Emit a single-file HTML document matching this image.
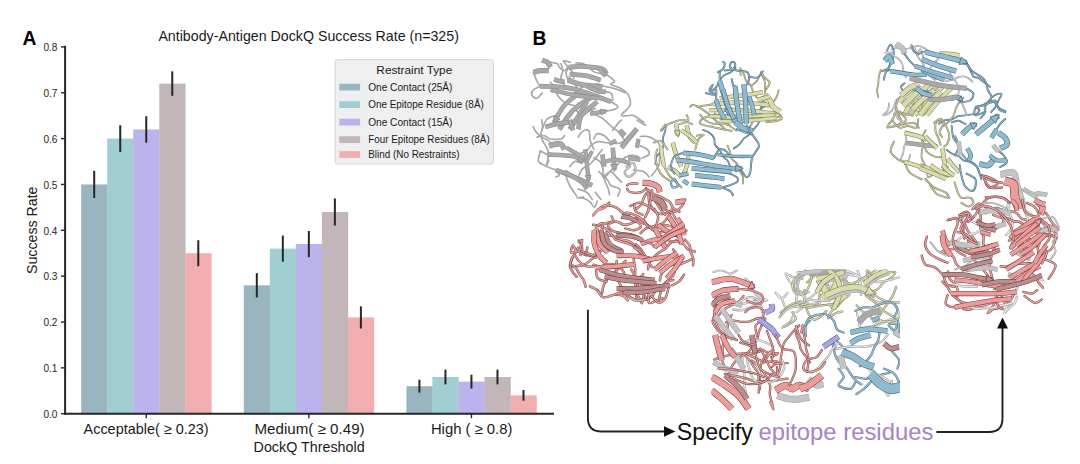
<!DOCTYPE html>
<html><head><meta charset="utf-8"><style>
html,body{margin:0;padding:0;background:#fff;}
svg{display:block;font-family:"Liberation Sans",sans-serif;}
</style></head><body>
<svg width="1080" height="464" viewBox="0 0 1080 464">
<rect width="1080" height="464" fill="#fff"/>
<rect x="81.20" y="184.45" width="26.32" height="229.25" fill="#9BB5C0"/>
<rect x="107.22" y="138.60" width="26.32" height="275.10" fill="#A0CED2"/>
<rect x="133.24" y="129.43" width="26.32" height="284.27" fill="#BAB3EC"/>
<rect x="159.26" y="83.58" width="26.32" height="330.12" fill="#C2B6B9"/>
<rect x="185.28" y="253.22" width="26.32" height="160.47" fill="#F2AEAF"/>
<rect x="243.80" y="285.32" width="26.32" height="128.38" fill="#9BB5C0"/>
<rect x="269.82" y="248.64" width="26.32" height="165.06" fill="#A0CED2"/>
<rect x="295.84" y="244.05" width="26.32" height="169.65" fill="#BAB3EC"/>
<rect x="321.86" y="211.96" width="26.32" height="201.74" fill="#C2B6B9"/>
<rect x="347.88" y="317.41" width="26.32" height="96.29" fill="#F2AEAF"/>
<rect x="406.40" y="386.19" width="26.32" height="27.51" fill="#9BB5C0"/>
<rect x="432.42" y="377.02" width="26.32" height="36.68" fill="#A0CED2"/>
<rect x="458.44" y="381.60" width="26.32" height="32.10" fill="#BAB3EC"/>
<rect x="484.46" y="377.02" width="26.32" height="36.68" fill="#C2B6B9"/>
<rect x="510.48" y="395.36" width="26.32" height="18.34" fill="#F2AEAF"/>
<line x1="94.21" y1="170.84" x2="94.21" y2="198.06" stroke="#262626" stroke-width="2"/>
<line x1="120.23" y1="125.27" x2="120.23" y2="151.93" stroke="#262626" stroke-width="2"/>
<line x1="146.25" y1="116.22" x2="146.25" y2="142.64" stroke="#262626" stroke-width="2"/>
<line x1="172.27" y1="71.36" x2="172.27" y2="95.80" stroke="#262626" stroke-width="2"/>
<line x1="198.29" y1="240.25" x2="198.29" y2="266.20" stroke="#262626" stroke-width="2"/>
<line x1="256.81" y1="273.10" x2="256.81" y2="297.54" stroke="#262626" stroke-width="2"/>
<line x1="282.83" y1="235.58" x2="282.83" y2="261.70" stroke="#262626" stroke-width="2"/>
<line x1="308.85" y1="230.92" x2="308.85" y2="257.19" stroke="#262626" stroke-width="2"/>
<line x1="334.87" y1="198.45" x2="334.87" y2="225.47" stroke="#262626" stroke-width="2"/>
<line x1="360.89" y1="306.33" x2="360.89" y2="328.50" stroke="#262626" stroke-width="2"/>
<line x1="419.41" y1="379.73" x2="419.41" y2="392.65" stroke="#262626" stroke-width="2"/>
<line x1="445.43" y1="369.64" x2="445.43" y2="384.40" stroke="#262626" stroke-width="2"/>
<line x1="471.45" y1="374.66" x2="471.45" y2="388.55" stroke="#262626" stroke-width="2"/>
<line x1="497.47" y1="369.64" x2="497.47" y2="384.40" stroke="#262626" stroke-width="2"/>
<line x1="523.49" y1="390.03" x2="523.49" y2="400.69" stroke="#262626" stroke-width="2"/>
<line x1="65.1" y1="45.8" x2="65.1" y2="414.70" stroke="#262626" stroke-width="2"/>
<line x1="64.1" y1="413.70" x2="554" y2="413.70" stroke="#262626" stroke-width="2"/>
<line x1="61" y1="413.70" x2="65" y2="413.70" stroke="#262626" stroke-width="1.4"/>
<text x="57.5" y="418.00" font-size="10.1" text-anchor="end" fill="#262626">0.0</text>
<line x1="61" y1="367.85" x2="65" y2="367.85" stroke="#262626" stroke-width="1.4"/>
<text x="57.5" y="372.15" font-size="10.1" text-anchor="end" fill="#262626">0.1</text>
<line x1="61" y1="322.00" x2="65" y2="322.00" stroke="#262626" stroke-width="1.4"/>
<text x="57.5" y="326.30" font-size="10.1" text-anchor="end" fill="#262626">0.2</text>
<line x1="61" y1="276.15" x2="65" y2="276.15" stroke="#262626" stroke-width="1.4"/>
<text x="57.5" y="280.45" font-size="10.1" text-anchor="end" fill="#262626">0.3</text>
<line x1="61" y1="230.30" x2="65" y2="230.30" stroke="#262626" stroke-width="1.4"/>
<text x="57.5" y="234.60" font-size="10.1" text-anchor="end" fill="#262626">0.4</text>
<line x1="61" y1="184.45" x2="65" y2="184.45" stroke="#262626" stroke-width="1.4"/>
<text x="57.5" y="188.75" font-size="10.1" text-anchor="end" fill="#262626">0.5</text>
<line x1="61" y1="138.60" x2="65" y2="138.60" stroke="#262626" stroke-width="1.4"/>
<text x="57.5" y="142.90" font-size="10.1" text-anchor="end" fill="#262626">0.6</text>
<line x1="61" y1="92.75" x2="65" y2="92.75" stroke="#262626" stroke-width="1.4"/>
<text x="57.5" y="97.05" font-size="10.1" text-anchor="end" fill="#262626">0.7</text>
<line x1="61" y1="46.90" x2="65" y2="46.90" stroke="#262626" stroke-width="1.4"/>
<text x="57.5" y="51.20" font-size="10.1" text-anchor="end" fill="#262626">0.8</text>
<line x1="146.25" y1="413.70" x2="146.25" y2="418.20" stroke="#262626" stroke-width="1.4"/>
<line x1="308.85" y1="413.70" x2="308.85" y2="418.20" stroke="#262626" stroke-width="1.4"/>
<line x1="471.45" y1="413.70" x2="471.45" y2="418.20" stroke="#262626" stroke-width="1.4"/>
<text x="83.60" y="433.8" font-size="14.6" textLength="124.9" lengthAdjust="spacingAndGlyphs" fill="#1a1a1a">Acceptable( ≥ 0.23)</text>
<text x="254.50" y="433.8" font-size="14.6" textLength="110.1" lengthAdjust="spacingAndGlyphs" fill="#1a1a1a">Medium( ≥ 0.49)</text>
<text x="430.90" y="433.8" font-size="14.6" textLength="81.5" lengthAdjust="spacingAndGlyphs" fill="#1a1a1a">High ( ≥ 0.8)</text>
<text x="253.6" y="451.8" font-size="14.6" textLength="111" lengthAdjust="spacingAndGlyphs" fill="#1a1a1a">DockQ Threshold</text>
<text transform="translate(36.8,274) rotate(-90)" x="0" y="0" font-size="14.6" textLength="87.5" lengthAdjust="spacingAndGlyphs" fill="#1a1a1a">Success Rate</text>
<text x="158.4" y="40.9" font-size="14.2" textLength="300.5" lengthAdjust="spacingAndGlyphs" fill="#1a1a1a">Antibody-Antigen DockQ Success Rate (n=325)</text>
<text x="22.6" y="45.1" font-size="19.3" font-weight="bold" fill="#000">A</text>
<text x="532.6" y="45.3" font-size="19.3" font-weight="bold" fill="#000">B</text>
<rect x="335.2" y="59.6" width="158.2" height="104.4" rx="2.5" fill="#EFEFEF" stroke="#D6D6D6" stroke-width="1"/>
<text x="414.3" y="73.6" font-size="11.8" text-anchor="middle" fill="#1a1a1a">Restraint Type</text>
<rect x="339.3" y="83.70" width="20.8" height="6.8" fill="#9BB5C0"/>
<text x="368.2" y="90.80" font-size="10.5" textLength="84.3" lengthAdjust="spacingAndGlyphs" fill="#1a1a1a">One Contact (25Å)</text>
<rect x="339.3" y="101.20" width="20.8" height="6.8" fill="#A0CED2"/>
<text x="368.2" y="108.30" font-size="10.5" textLength="115.6" lengthAdjust="spacingAndGlyphs" fill="#1a1a1a">One Epitope Residue (8Å)</text>
<rect x="339.3" y="118.70" width="20.8" height="6.8" fill="#BAB3EC"/>
<text x="368.2" y="125.80" font-size="10.5" textLength="84.3" lengthAdjust="spacingAndGlyphs" fill="#1a1a1a">One Contact (15Å)</text>
<rect x="339.3" y="136.20" width="20.8" height="6.8" fill="#C2B6B9"/>
<text x="368.2" y="143.30" font-size="10.5" textLength="121.5" lengthAdjust="spacingAndGlyphs" fill="#1a1a1a">Four Epitope Residues (8Å)</text>
<rect x="339.3" y="151.10" width="20.8" height="6.8" fill="#F2AEAF"/>
<text x="368.2" y="158.20" font-size="10.5" textLength="91.3" lengthAdjust="spacingAndGlyphs" fill="#1a1a1a">Blind (No Restraints)</text>
<defs><clipPath id="insetclip"><rect x="711.5" y="269.5" width="188.5" height="141"/></clipPath></defs>
<path d="M599.4 250.9C598.6 251.7 596.4 254.4 594.8 256.1C593.2 257.8 591.5 259.4 589.7 260.9C587.9 262.4 586.1 264.1 584.0 265.0C581.9 265.8 579.4 265.6 577.0 265.9C574.7 266.3 571.1 268.0 570.2 267.1C569.2 266.2 570.8 262.4 571.6 260.2C572.3 258.1 573.6 256.0 574.7 254.0C575.8 251.9 577.6 248.9 578.1 247.9" fill="none" stroke="#7a4746" stroke-width="2.5" stroke-linecap="round" stroke-linejoin="round"/><path d="M599.4 250.9C598.6 251.7 596.4 254.4 594.8 256.1C593.2 257.8 591.5 259.4 589.7 260.9C587.9 262.4 586.1 264.1 584.0 265.0C581.9 265.8 579.4 265.6 577.0 265.9C574.7 266.3 571.1 268.0 570.2 267.1C569.2 266.2 570.8 262.4 571.6 260.2C572.3 258.1 573.6 256.0 574.7 254.0C575.8 251.9 577.6 248.9 578.1 247.9" fill="none" stroke="#e9a4a2" stroke-width="1.4" stroke-linecap="round"/>
<path d="M640.6 233.1C641.4 232.3 643.8 229.6 645.9 228.5C647.9 227.4 650.3 227.2 652.6 226.6C654.9 226.0 657.1 225.2 659.4 224.9C661.7 224.7 664.1 224.9 666.4 225.3C668.7 225.6 672.0 226.7 673.2 227.0" fill="none" stroke="#7a4746" stroke-width="2.5" stroke-linecap="round" stroke-linejoin="round"/><path d="M640.6 233.1C641.4 232.3 643.8 229.6 645.9 228.5C647.9 227.4 650.3 227.2 652.6 226.6C654.9 226.0 657.1 225.2 659.4 224.9C661.7 224.7 664.1 224.9 666.4 225.3C668.7 225.6 672.0 226.7 673.2 227.0" fill="none" stroke="#e9a4a2" stroke-width="1.4" stroke-linecap="round"/>
<path d="M576.5 276.7C575.7 275.8 573.2 273.3 572.1 271.2C571.1 269.2 569.6 265.0 570.3 264.5C570.9 264.0 574.6 266.6 576.2 268.3C577.7 269.9 578.3 272.4 579.5 274.4C580.8 276.4 582.6 278.0 583.6 280.0C584.7 282.1 585.3 285.6 585.6 286.8" fill="none" stroke="#7a4746" stroke-width="2.5" stroke-linecap="round" stroke-linejoin="round"/><path d="M576.5 276.7C575.7 275.8 573.2 273.3 572.1 271.2C571.1 269.2 569.6 265.0 570.3 264.5C570.9 264.0 574.6 266.6 576.2 268.3C577.7 269.9 578.3 272.4 579.5 274.4C580.8 276.4 582.6 278.0 583.6 280.0C584.7 282.1 585.3 285.6 585.6 286.8" fill="none" stroke="#e9a4a2" stroke-width="1.4" stroke-linecap="round"/>
<path d="M624.4 273.1C623.7 272.2 622.0 268.9 620.2 267.5C618.5 266.0 616.1 264.9 613.9 264.4C611.7 263.9 609.2 263.9 606.9 264.3C604.7 264.6 602.5 266.4 600.3 266.5C598.0 266.6 594.6 265.1 593.5 264.8" fill="none" stroke="#7a4746" stroke-width="2.5" stroke-linecap="round" stroke-linejoin="round"/><path d="M624.4 273.1C623.7 272.2 622.0 268.9 620.2 267.5C618.5 266.0 616.1 264.9 613.9 264.4C611.7 263.9 609.2 263.9 606.9 264.3C604.7 264.6 602.5 266.4 600.3 266.5C598.0 266.6 594.6 265.1 593.5 264.8" fill="none" stroke="#e9a4a2" stroke-width="1.4" stroke-linecap="round"/>
<path d="M625.6 260.8C624.8 261.7 622.6 264.4 621.0 266.1C619.3 267.8 617.6 269.3 615.9 270.9C614.2 272.5 612.3 273.9 610.6 275.5C609.0 277.2 607.2 278.8 605.9 280.7C604.6 282.6 603.8 284.9 603.1 287.1C602.3 289.3 602.7 293.5 601.5 293.9C600.4 294.3 598.1 290.6 596.2 289.4C594.3 288.1 590.9 286.9 589.9 286.4" fill="none" stroke="#7a4746" stroke-width="2.5" stroke-linecap="round" stroke-linejoin="round"/><path d="M625.6 260.8C624.8 261.7 622.6 264.4 621.0 266.1C619.3 267.8 617.6 269.3 615.9 270.9C614.2 272.5 612.3 273.9 610.6 275.5C609.0 277.2 607.2 278.8 605.9 280.7C604.6 282.6 603.8 284.9 603.1 287.1C602.3 289.3 602.7 293.5 601.5 293.9C600.4 294.3 598.1 290.6 596.2 289.4C594.3 288.1 590.9 286.9 589.9 286.4" fill="none" stroke="#e9a4a2" stroke-width="1.4" stroke-linecap="round"/>
<path d="M648.0 269.2C648.2 268.0 648.6 264.4 649.6 262.4C650.6 260.3 652.6 258.8 654.2 257.1C655.8 255.4 657.4 253.6 659.3 252.2C661.1 250.9 663.6 250.3 665.4 248.8C667.1 247.4 668.1 244.9 669.9 243.5C671.7 242.1 675.2 240.9 676.2 240.4" fill="none" stroke="#7a4746" stroke-width="2.5" stroke-linecap="round" stroke-linejoin="round"/><path d="M648.0 269.2C648.2 268.0 648.6 264.4 649.6 262.4C650.6 260.3 652.6 258.8 654.2 257.1C655.8 255.4 657.4 253.6 659.3 252.2C661.1 250.9 663.6 250.3 665.4 248.8C667.1 247.4 668.1 244.9 669.9 243.5C671.7 242.1 675.2 240.9 676.2 240.4" fill="none" stroke="#e9a4a2" stroke-width="1.4" stroke-linecap="round"/>
<path d="M643.7 219.5C644.3 220.5 645.9 223.8 647.6 225.3C649.2 226.8 651.9 227.2 653.7 228.6C655.5 230.1 656.7 232.2 658.3 233.9C660.0 235.6 661.5 237.5 663.5 238.7C665.4 239.8 667.8 240.4 670.1 240.9C672.4 241.4 674.8 240.9 677.1 241.5C679.3 242.0 681.7 242.9 683.5 244.2C685.4 245.5 686.3 248.2 688.1 249.5C690.0 250.7 693.7 251.2 694.8 251.5" fill="none" stroke="#7a4746" stroke-width="2.5" stroke-linecap="round" stroke-linejoin="round"/><path d="M643.7 219.5C644.3 220.5 645.9 223.8 647.6 225.3C649.2 226.8 651.9 227.2 653.7 228.6C655.5 230.1 656.7 232.2 658.3 233.9C660.0 235.6 661.5 237.5 663.5 238.7C665.4 239.8 667.8 240.4 670.1 240.9C672.4 241.4 674.8 240.9 677.1 241.5C679.3 242.0 681.7 242.9 683.5 244.2C685.4 245.5 686.3 248.2 688.1 249.5C690.0 250.7 693.7 251.2 694.8 251.5" fill="none" stroke="#e9a4a2" stroke-width="1.4" stroke-linecap="round"/>
<path d="M649.1 190.4C649.0 191.6 648.5 195.1 648.7 197.4C648.8 199.7 649.2 202.1 650.1 204.3C650.9 206.4 651.9 208.8 653.5 210.4C655.1 211.9 657.5 213.3 659.7 213.7C661.9 214.2 664.5 213.8 666.6 213.0C668.8 212.3 671.6 209.9 672.6 209.3" fill="none" stroke="#7a4746" stroke-width="2.5" stroke-linecap="round" stroke-linejoin="round"/><path d="M649.1 190.4C649.0 191.6 648.5 195.1 648.7 197.4C648.8 199.7 649.2 202.1 650.1 204.3C650.9 206.4 651.9 208.8 653.5 210.4C655.1 211.9 657.5 213.3 659.7 213.7C661.9 214.2 664.5 213.8 666.6 213.0C668.8 212.3 671.6 209.9 672.6 209.3" fill="none" stroke="#e9a4a2" stroke-width="1.4" stroke-linecap="round"/>
<path d="M638.7 299.8C639.9 299.8 643.5 300.1 645.7 299.5C647.9 298.9 650.3 297.9 652.0 296.4C653.6 294.9 654.1 292.1 655.7 290.5C657.3 288.8 659.8 288.2 661.6 286.7C663.4 285.2 664.6 282.8 666.5 281.7C668.5 280.6 672.2 280.3 673.3 280.1" fill="none" stroke="#7a4746" stroke-width="2.5" stroke-linecap="round" stroke-linejoin="round"/><path d="M638.7 299.8C639.9 299.8 643.5 300.1 645.7 299.5C647.9 298.9 650.3 297.9 652.0 296.4C653.6 294.9 654.1 292.1 655.7 290.5C657.3 288.8 659.8 288.2 661.6 286.7C663.4 285.2 664.6 282.8 666.5 281.7C668.5 280.6 672.2 280.3 673.3 280.1" fill="none" stroke="#e9a4a2" stroke-width="1.4" stroke-linecap="round"/>
<path d="M686.4 230.7C685.3 231.2 682.1 233.0 679.9 233.3C677.6 233.7 675.2 233.3 672.9 233.0C670.6 232.6 668.4 231.2 666.1 231.1C663.9 231.0 661.5 232.7 659.3 232.5C657.1 232.3 654.7 231.2 652.7 230.0C650.8 228.8 649.5 226.6 647.6 225.3C645.6 224.0 643.3 223.4 641.3 222.2C639.3 221.0 636.6 218.8 635.6 218.1" fill="none" stroke="#7a4746" stroke-width="2.5" stroke-linecap="round" stroke-linejoin="round"/><path d="M686.4 230.7C685.3 231.2 682.1 233.0 679.9 233.3C677.6 233.7 675.2 233.3 672.9 233.0C670.6 232.6 668.4 231.2 666.1 231.1C663.9 231.0 661.5 232.7 659.3 232.5C657.1 232.3 654.7 231.2 652.7 230.0C650.8 228.8 649.5 226.6 647.6 225.3C645.6 224.0 643.3 223.4 641.3 222.2C639.3 221.0 636.6 218.8 635.6 218.1" fill="none" stroke="#e9a4a2" stroke-width="1.4" stroke-linecap="round"/>
<path d="M662.5 298.3C661.4 298.7 658.1 300.1 655.9 300.8C653.7 301.6 650.5 303.8 649.3 303.0C648.0 302.2 648.5 298.3 648.3 296.0C648.1 293.7 648.8 291.1 648.0 289.0C647.3 286.9 645.2 285.3 644.0 283.3C642.8 281.3 641.3 278.1 640.8 277.1" fill="none" stroke="#7a4746" stroke-width="2.5" stroke-linecap="round" stroke-linejoin="round"/><path d="M662.5 298.3C661.4 298.7 658.1 300.1 655.9 300.8C653.7 301.6 650.5 303.8 649.3 303.0C648.0 302.2 648.5 298.3 648.3 296.0C648.1 293.7 648.8 291.1 648.0 289.0C647.3 286.9 645.2 285.3 644.0 283.3C642.8 281.3 641.3 278.1 640.8 277.1" fill="none" stroke="#e9a4a2" stroke-width="1.4" stroke-linecap="round"/>
<path d="M651.4 192.3C650.5 191.6 645.8 188.1 645.8 188.2C645.7 188.3 649.2 191.5 651.1 192.7C653.1 193.9 655.3 194.7 657.5 195.6C659.6 196.6 661.8 197.4 663.8 198.5C665.9 199.6 668.3 200.4 669.9 202.1C671.4 203.7 671.6 206.6 673.2 208.2C674.8 209.8 678.3 211.0 679.4 211.6" fill="none" stroke="#7a4746" stroke-width="2.5" stroke-linecap="round" stroke-linejoin="round"/><path d="M651.4 192.3C650.5 191.6 645.8 188.1 645.8 188.2C645.7 188.3 649.2 191.5 651.1 192.7C653.1 193.9 655.3 194.7 657.5 195.6C659.6 196.6 661.8 197.4 663.8 198.5C665.9 199.6 668.3 200.4 669.9 202.1C671.4 203.7 671.6 206.6 673.2 208.2C674.8 209.8 678.3 211.0 679.4 211.6" fill="none" stroke="#e9a4a2" stroke-width="1.4" stroke-linecap="round"/>
<path d="M616.7 261.0C616.6 262.1 616.1 265.6 616.1 268.0C616.1 270.3 616.2 272.7 616.6 274.9C617.0 277.2 617.8 279.5 618.7 281.6C619.5 283.8 620.9 285.8 621.8 287.9C622.7 290.1 623.1 292.4 624.1 294.5C625.1 296.6 628.1 300.2 627.9 300.4C627.7 300.6 624.8 296.6 622.8 295.6C620.8 294.6 617.1 294.6 615.9 294.4" fill="none" stroke="#7a4746" stroke-width="2.5" stroke-linecap="round" stroke-linejoin="round"/><path d="M616.7 261.0C616.6 262.1 616.1 265.6 616.1 268.0C616.1 270.3 616.2 272.7 616.6 274.9C617.0 277.2 617.8 279.5 618.7 281.6C619.5 283.8 620.9 285.8 621.8 287.9C622.7 290.1 623.1 292.4 624.1 294.5C625.1 296.6 628.1 300.2 627.9 300.4C627.7 300.6 624.8 296.6 622.8 295.6C620.8 294.6 617.1 294.6 615.9 294.4" fill="none" stroke="#e9a4a2" stroke-width="1.4" stroke-linecap="round"/>
<path d="M643.1 274.0C642.5 274.9 640.4 277.8 639.4 279.9C638.5 282.0 637.9 284.3 637.4 286.6C637.0 288.9 637.3 291.3 636.9 293.6C636.5 295.9 636.2 299.8 634.9 300.3C633.6 300.7 630.1 297.0 629.1 296.4" fill="none" stroke="#7a4746" stroke-width="2.5" stroke-linecap="round" stroke-linejoin="round"/><path d="M643.1 274.0C642.5 274.9 640.4 277.8 639.4 279.9C638.5 282.0 637.9 284.3 637.4 286.6C637.0 288.9 637.3 291.3 636.9 293.6C636.5 295.9 636.2 299.8 634.9 300.3C633.6 300.7 630.1 297.0 629.1 296.4" fill="none" stroke="#e9a4a2" stroke-width="1.4" stroke-linecap="round"/>
<path d="M647.3 299.8C646.7 298.8 644.4 296.0 643.7 293.9C642.9 291.7 643.5 289.1 642.8 286.9C642.1 284.7 640.7 282.7 639.4 280.8C638.0 278.9 636.2 277.4 634.8 275.5C633.5 273.6 631.9 270.5 631.3 269.5" fill="none" stroke="#7a4746" stroke-width="2.5" stroke-linecap="round" stroke-linejoin="round"/><path d="M647.3 299.8C646.7 298.8 644.4 296.0 643.7 293.9C642.9 291.7 643.5 289.1 642.8 286.9C642.1 284.7 640.7 282.7 639.4 280.8C638.0 278.9 636.2 277.4 634.8 275.5C633.5 273.6 631.9 270.5 631.3 269.5" fill="none" stroke="#e9a4a2" stroke-width="1.4" stroke-linecap="round"/>
<path d="M684.8 239.6C685.6 240.5 688.4 242.8 689.4 244.9C690.4 246.9 689.9 249.5 690.6 251.8C691.2 254.0 692.8 256.0 693.2 258.2C693.6 260.5 693.1 264.1 693.1 265.2" fill="none" stroke="#7a4746" stroke-width="2.5" stroke-linecap="round" stroke-linejoin="round"/><path d="M684.8 239.6C685.6 240.5 688.4 242.8 689.4 244.9C690.4 246.9 689.9 249.5 690.6 251.8C691.2 254.0 692.8 256.0 693.2 258.2C693.6 260.5 693.1 264.1 693.1 265.2" fill="none" stroke="#e9a4a2" stroke-width="1.4" stroke-linecap="round"/>
<path d="M643.9 289.5C643.8 290.7 643.7 294.2 643.4 296.5C643.1 298.8 642.7 303.2 641.9 303.3C641.1 303.4 639.7 299.2 638.7 297.1C637.6 295.0 636.2 293.1 635.6 290.8C635.0 288.6 635.5 286.2 635.3 283.9C635.2 281.5 634.8 279.2 634.8 276.9C634.8 274.5 635.4 272.2 635.3 269.9C635.2 267.6 634.5 265.3 634.2 263.0C633.9 260.7 633.6 257.2 633.5 256.0" fill="none" stroke="#7a4746" stroke-width="2.5" stroke-linecap="round" stroke-linejoin="round"/><path d="M643.9 289.5C643.8 290.7 643.7 294.2 643.4 296.5C643.1 298.8 642.7 303.2 641.9 303.3C641.1 303.4 639.7 299.2 638.7 297.1C637.6 295.0 636.2 293.1 635.6 290.8C635.0 288.6 635.5 286.2 635.3 283.9C635.2 281.5 634.8 279.2 634.8 276.9C634.8 274.5 635.4 272.2 635.3 269.9C635.2 267.6 634.5 265.3 634.2 263.0C633.9 260.7 633.6 257.2 633.5 256.0" fill="none" stroke="#e9a4a2" stroke-width="1.4" stroke-linecap="round"/>
<path d="M594.3 242.8C595.4 242.2 598.6 240.7 600.6 239.6C602.6 238.5 604.4 236.6 606.6 236.0C608.7 235.3 611.4 235.4 613.6 235.9C615.8 236.5 617.5 238.5 619.7 239.3C621.9 240.1 624.4 239.8 626.6 240.5C628.8 241.2 631.0 242.3 632.8 243.7C634.6 245.1 636.0 247.1 637.3 249.0C638.7 250.9 640.2 254.1 640.7 255.2" fill="none" stroke="#7a4746" stroke-width="2.5" stroke-linecap="round" stroke-linejoin="round"/><path d="M594.3 242.8C595.4 242.2 598.6 240.7 600.6 239.6C602.6 238.5 604.4 236.6 606.6 236.0C608.7 235.3 611.4 235.4 613.6 235.9C615.8 236.5 617.5 238.5 619.7 239.3C621.9 240.1 624.4 239.8 626.6 240.5C628.8 241.2 631.0 242.3 632.8 243.7C634.6 245.1 636.0 247.1 637.3 249.0C638.7 250.9 640.2 254.1 640.7 255.2" fill="none" stroke="#e9a4a2" stroke-width="1.4" stroke-linecap="round"/>
<path d="M636.5 220.0C635.5 220.6 632.7 222.9 630.6 223.7C628.5 224.5 625.9 225.0 623.7 224.7C621.4 224.3 619.5 222.2 617.3 221.7C615.1 221.3 612.6 221.5 610.3 221.9C608.0 222.3 604.8 223.8 603.7 224.2" fill="none" stroke="#7a4746" stroke-width="2.5" stroke-linecap="round" stroke-linejoin="round"/><path d="M636.5 220.0C635.5 220.6 632.7 222.9 630.6 223.7C628.5 224.5 625.9 225.0 623.7 224.7C621.4 224.3 619.5 222.2 617.3 221.7C615.1 221.3 612.6 221.5 610.3 221.9C608.0 222.3 604.8 223.8 603.7 224.2" fill="none" stroke="#e9a4a2" stroke-width="1.4" stroke-linecap="round"/>
<path d="M635.6 209.0C636.6 208.3 639.9 206.6 641.2 204.8C642.6 203.0 642.5 200.3 643.6 198.3C644.7 196.2 646.3 192.8 647.8 192.6C649.3 192.5 651.3 195.8 652.8 197.6C654.3 199.3 655.5 201.4 656.7 203.3C658.0 205.3 659.2 207.3 660.5 209.2C661.9 211.1 664.1 213.8 664.9 214.7" fill="none" stroke="#7a4746" stroke-width="2.5" stroke-linecap="round" stroke-linejoin="round"/><path d="M635.6 209.0C636.6 208.3 639.9 206.6 641.2 204.8C642.6 203.0 642.5 200.3 643.6 198.3C644.7 196.2 646.3 192.8 647.8 192.6C649.3 192.5 651.3 195.8 652.8 197.6C654.3 199.3 655.5 201.4 656.7 203.3C658.0 205.3 659.2 207.3 660.5 209.2C661.9 211.1 664.1 213.8 664.9 214.7" fill="none" stroke="#e9a4a2" stroke-width="1.4" stroke-linecap="round"/>
<path d="M692.0 259.1C690.9 259.6 687.7 261.1 685.6 262.0C683.4 262.9 681.3 264.2 679.1 264.6C676.8 265.0 674.3 264.0 672.1 264.6C669.9 265.3 667.8 266.7 666.1 268.2C664.3 269.7 662.6 271.5 661.5 273.6C660.5 275.6 660.1 279.2 659.8 280.3" fill="none" stroke="#7a4746" stroke-width="2.5" stroke-linecap="round" stroke-linejoin="round"/><path d="M692.0 259.1C690.9 259.6 687.7 261.1 685.6 262.0C683.4 262.9 681.3 264.2 679.1 264.6C676.8 265.0 674.3 264.0 672.1 264.6C669.9 265.3 667.8 266.7 666.1 268.2C664.3 269.7 662.6 271.5 661.5 273.6C660.5 275.6 660.1 279.2 659.8 280.3" fill="none" stroke="#e9a4a2" stroke-width="1.4" stroke-linecap="round"/>
<path d="M685.2 199.4C684.7 200.5 683.5 203.9 682.2 205.8C680.8 207.6 679.1 209.4 677.1 210.6C675.2 211.8 672.4 211.8 670.6 213.2C668.9 214.6 668.1 217.1 666.6 218.9C665.2 220.7 663.7 222.7 661.8 224.0C659.9 225.3 656.4 226.2 655.3 226.6" fill="none" stroke="#7a4746" stroke-width="2.5" stroke-linecap="round" stroke-linejoin="round"/><path d="M685.2 199.4C684.7 200.5 683.5 203.9 682.2 205.8C680.8 207.6 679.1 209.4 677.1 210.6C675.2 211.8 672.4 211.8 670.6 213.2C668.9 214.6 668.1 217.1 666.6 218.9C665.2 220.7 663.7 222.7 661.8 224.0C659.9 225.3 656.4 226.2 655.3 226.6" fill="none" stroke="#e9a4a2" stroke-width="1.4" stroke-linecap="round"/>
<path d="M603.5 248.8C602.6 249.5 600.1 252.2 598.1 253.3C596.1 254.4 593.7 255.2 591.4 255.4C589.2 255.7 586.7 255.3 584.5 254.6C582.3 254.0 580.4 252.0 578.2 251.6C575.9 251.2 572.1 253.3 571.2 252.3C570.3 251.3 572.1 245.6 573.0 245.5C573.8 245.4 575.9 250.6 576.4 251.6" fill="none" stroke="#7a4746" stroke-width="2.5" stroke-linecap="round" stroke-linejoin="round"/><path d="M603.5 248.8C602.6 249.5 600.1 252.2 598.1 253.3C596.1 254.4 593.7 255.2 591.4 255.4C589.2 255.7 586.7 255.3 584.5 254.6C582.3 254.0 580.4 252.0 578.2 251.6C575.9 251.2 572.1 253.3 571.2 252.3C570.3 251.3 572.1 245.6 573.0 245.5C573.8 245.4 575.9 250.6 576.4 251.6" fill="none" stroke="#e9a4a2" stroke-width="1.4" stroke-linecap="round"/>
<path d="M636.0 244.3C636.8 245.1 639.4 247.5 640.9 249.4C642.3 251.2 643.6 253.2 644.7 255.2C645.9 257.2 646.7 259.4 648.0 261.4C649.2 263.3 651.5 266.0 652.2 267.0" fill="none" stroke="#7a4746" stroke-width="2.5" stroke-linecap="round" stroke-linejoin="round"/><path d="M636.0 244.3C636.8 245.1 639.4 247.5 640.9 249.4C642.3 251.2 643.6 253.2 644.7 255.2C645.9 257.2 646.7 259.4 648.0 261.4C649.2 263.3 651.5 266.0 652.2 267.0" fill="none" stroke="#e9a4a2" stroke-width="1.4" stroke-linecap="round"/>
<path d="M593.2 224.8C594.4 225.0 597.9 225.3 600.1 226.0C602.3 226.8 604.6 227.7 606.4 229.1C608.3 230.4 609.7 232.4 611.3 234.1C612.8 235.9 613.9 238.3 615.7 239.5C617.6 240.8 620.1 241.1 622.3 241.8C624.5 242.6 626.9 243.0 629.0 243.8C631.2 244.7 633.2 245.9 635.3 247.0C637.3 248.1 640.3 249.9 641.4 250.5" fill="none" stroke="#7a4746" stroke-width="2.5" stroke-linecap="round" stroke-linejoin="round"/><path d="M593.2 224.8C594.4 225.0 597.9 225.3 600.1 226.0C602.3 226.8 604.6 227.7 606.4 229.1C608.3 230.4 609.7 232.4 611.3 234.1C612.8 235.9 613.9 238.3 615.7 239.5C617.6 240.8 620.1 241.1 622.3 241.8C624.5 242.6 626.9 243.0 629.0 243.8C631.2 244.7 633.2 245.9 635.3 247.0C637.3 248.1 640.3 249.9 641.4 250.5" fill="none" stroke="#e9a4a2" stroke-width="1.4" stroke-linecap="round"/>
<path d="M652.0 190.3C652.0 191.4 652.1 195.0 651.7 197.2C651.2 199.5 650.2 201.7 649.6 203.9C649.0 206.2 648.9 208.6 648.2 210.8C647.4 213.0 645.7 216.1 645.2 217.1" fill="none" stroke="#7a4746" stroke-width="2.5" stroke-linecap="round" stroke-linejoin="round"/><path d="M652.0 190.3C652.0 191.4 652.1 195.0 651.7 197.2C651.2 199.5 650.2 201.7 649.6 203.9C649.0 206.2 648.9 208.6 648.2 210.8C647.4 213.0 645.7 216.1 645.2 217.1" fill="none" stroke="#e9a4a2" stroke-width="1.4" stroke-linecap="round"/>
<path d="M628.8 214.7C627.7 214.3 624.2 213.5 622.2 212.4C620.2 211.2 618.8 209.0 616.8 207.9C614.9 206.7 612.6 205.7 610.3 205.4C608.1 205.0 605.4 205.1 603.3 205.9C601.2 206.7 599.4 208.5 597.7 210.1C596.0 211.7 593.1 215.4 593.1 215.4C593.2 215.4 596.0 211.6 597.9 210.3C599.8 209.0 602.6 209.0 604.5 207.8C606.3 206.5 608.4 203.5 609.2 202.6" fill="none" stroke="#7a4746" stroke-width="2.5" stroke-linecap="round" stroke-linejoin="round"/><path d="M628.8 214.7C627.7 214.3 624.2 213.5 622.2 212.4C620.2 211.2 618.8 209.0 616.8 207.9C614.9 206.7 612.6 205.7 610.3 205.4C608.1 205.0 605.4 205.1 603.3 205.9C601.2 206.7 599.4 208.5 597.7 210.1C596.0 211.7 593.1 215.4 593.1 215.4C593.2 215.4 596.0 211.6 597.9 210.3C599.8 209.0 602.6 209.0 604.5 207.8C606.3 206.5 608.4 203.5 609.2 202.6" fill="none" stroke="#e9a4a2" stroke-width="1.4" stroke-linecap="round"/>
<path d="M659.2 298.6C659.4 297.5 660.0 294.0 660.8 291.8C661.5 289.6 662.5 287.4 663.7 285.5C665.0 283.5 666.7 281.9 668.3 280.2C669.9 278.5 672.1 277.2 673.3 275.3C674.5 273.4 674.7 270.8 675.5 268.6C676.3 266.5 678.1 264.5 678.4 262.2C678.7 260.0 678.0 257.5 677.2 255.3C676.3 253.2 673.9 250.5 673.2 249.6" fill="none" stroke="#7a4746" stroke-width="2.5" stroke-linecap="round" stroke-linejoin="round"/><path d="M659.2 298.6C659.4 297.5 660.0 294.0 660.8 291.8C661.5 289.6 662.5 287.4 663.7 285.5C665.0 283.5 666.7 281.9 668.3 280.2C669.9 278.5 672.1 277.2 673.3 275.3C674.5 273.4 674.7 270.8 675.5 268.6C676.3 266.5 678.1 264.5 678.4 262.2C678.7 260.0 678.0 257.5 677.2 255.3C676.3 253.2 673.9 250.5 673.2 249.6" fill="none" stroke="#e9a4a2" stroke-width="1.4" stroke-linecap="round"/>
<path d="M1011.0 286.0C1011.5 285.0 1013.0 281.9 1014.1 279.8C1015.2 277.7 1016.0 275.4 1017.5 273.7C1019.0 271.9 1021.0 270.5 1023.0 269.4C1025.1 268.3 1027.6 268.2 1029.7 267.1C1031.7 266.0 1033.9 264.7 1035.3 263.0C1036.7 261.2 1037.6 258.8 1038.1 256.5C1038.5 254.3 1038.2 251.9 1038.0 249.5C1037.8 247.2 1036.7 244.9 1036.9 242.6C1037.0 240.4 1038.5 237.0 1038.8 235.9" fill="none" stroke="#7a4746" stroke-width="2.5" stroke-linecap="round" stroke-linejoin="round"/><path d="M1011.0 286.0C1011.5 285.0 1013.0 281.9 1014.1 279.8C1015.2 277.7 1016.0 275.4 1017.5 273.7C1019.0 271.9 1021.0 270.5 1023.0 269.4C1025.1 268.3 1027.6 268.2 1029.7 267.1C1031.7 266.0 1033.9 264.7 1035.3 263.0C1036.7 261.2 1037.6 258.8 1038.1 256.5C1038.5 254.3 1038.2 251.9 1038.0 249.5C1037.8 247.2 1036.7 244.9 1036.9 242.6C1037.0 240.4 1038.5 237.0 1038.8 235.9" fill="none" stroke="#e9a4a2" stroke-width="1.4" stroke-linecap="round"/>
<path d="M1000.7 266.6C1001.9 266.5 1005.4 266.9 1007.7 266.4C1009.9 265.9 1011.9 264.0 1014.1 263.6C1016.3 263.2 1018.8 263.9 1021.1 263.8C1023.4 263.7 1025.8 263.0 1028.1 263.1C1030.4 263.2 1033.8 264.3 1034.9 264.6" fill="none" stroke="#7a4746" stroke-width="2.5" stroke-linecap="round" stroke-linejoin="round"/><path d="M1000.7 266.6C1001.9 266.5 1005.4 266.9 1007.7 266.4C1009.9 265.9 1011.9 264.0 1014.1 263.6C1016.3 263.2 1018.8 263.9 1021.1 263.8C1023.4 263.7 1025.8 263.0 1028.1 263.1C1030.4 263.2 1033.8 264.3 1034.9 264.6" fill="none" stroke="#e9a4a2" stroke-width="1.4" stroke-linecap="round"/>
<path d="M948.0 271.6C948.3 272.8 948.4 276.5 949.5 278.5C950.6 280.4 953.1 281.5 954.5 283.3C955.9 285.2 957.3 287.4 957.7 289.6C958.1 291.8 957.2 295.4 957.2 296.6" fill="none" stroke="#7a4746" stroke-width="2.5" stroke-linecap="round" stroke-linejoin="round"/><path d="M948.0 271.6C948.3 272.8 948.4 276.5 949.5 278.5C950.6 280.4 953.1 281.5 954.5 283.3C955.9 285.2 957.3 287.4 957.7 289.6C958.1 291.8 957.2 295.4 957.2 296.6" fill="none" stroke="#e9a4a2" stroke-width="1.4" stroke-linecap="round"/>
<path d="M1043.4 233.6C1044.6 233.8 1048.0 234.4 1050.3 235.0C1052.5 235.7 1056.8 237.4 1056.8 237.5C1056.8 237.6 1052.4 235.8 1050.1 235.6C1047.8 235.4 1045.3 236.6 1043.1 236.2C1040.9 235.8 1039.0 234.0 1036.9 233.1C1034.7 232.2 1032.5 230.9 1030.2 230.8C1028.0 230.7 1025.7 231.8 1023.4 232.5C1021.2 233.2 1018.0 234.5 1016.9 234.9" fill="none" stroke="#7a4746" stroke-width="2.5" stroke-linecap="round" stroke-linejoin="round"/><path d="M1043.4 233.6C1044.6 233.8 1048.0 234.4 1050.3 235.0C1052.5 235.7 1056.8 237.4 1056.8 237.5C1056.8 237.6 1052.4 235.8 1050.1 235.6C1047.8 235.4 1045.3 236.6 1043.1 236.2C1040.9 235.8 1039.0 234.0 1036.9 233.1C1034.7 232.2 1032.5 230.9 1030.2 230.8C1028.0 230.7 1025.7 231.8 1023.4 232.5C1021.2 233.2 1018.0 234.5 1016.9 234.9" fill="none" stroke="#e9a4a2" stroke-width="1.4" stroke-linecap="round"/>
<path d="M964.3 238.5C964.1 237.3 963.2 233.9 963.1 231.6C962.9 229.3 963.5 226.9 963.4 224.6C963.3 222.3 962.1 217.8 962.3 217.7C962.6 217.6 964.0 222.0 964.9 224.2C965.9 226.3 966.6 228.6 967.7 230.6C968.9 232.6 970.5 234.4 971.9 236.2C973.3 238.1 974.9 239.8 976.1 241.8C977.3 243.8 978.4 247.2 978.9 248.2" fill="none" stroke="#7a4746" stroke-width="2.5" stroke-linecap="round" stroke-linejoin="round"/><path d="M964.3 238.5C964.1 237.3 963.2 233.9 963.1 231.6C962.9 229.3 963.5 226.9 963.4 224.6C963.3 222.3 962.1 217.8 962.3 217.7C962.6 217.6 964.0 222.0 964.9 224.2C965.9 226.3 966.6 228.6 967.7 230.6C968.9 232.6 970.5 234.4 971.9 236.2C973.3 238.1 974.9 239.8 976.1 241.8C977.3 243.8 978.4 247.2 978.9 248.2" fill="none" stroke="#e9a4a2" stroke-width="1.4" stroke-linecap="round"/>
<path d="M963.3 308.9C964.5 309.0 968.1 310.0 970.3 309.6C972.5 309.2 974.3 307.0 976.5 306.3C978.7 305.6 981.1 305.9 983.4 305.4C985.7 304.9 987.8 303.9 990.1 303.3C992.4 302.7 995.0 303.0 996.9 301.9C998.9 300.8 1001.0 297.7 1001.9 296.9" fill="none" stroke="#7a4746" stroke-width="2.5" stroke-linecap="round" stroke-linejoin="round"/><path d="M963.3 308.9C964.5 309.0 968.1 310.0 970.3 309.6C972.5 309.2 974.3 307.0 976.5 306.3C978.7 305.6 981.1 305.9 983.4 305.4C985.7 304.9 987.8 303.9 990.1 303.3C992.4 302.7 995.0 303.0 996.9 301.9C998.9 300.8 1001.0 297.7 1001.9 296.9" fill="none" stroke="#e9a4a2" stroke-width="1.4" stroke-linecap="round"/>
<path d="M1022.0 272.4C1023.2 272.4 1026.8 271.9 1029.0 272.5C1031.2 273.1 1033.5 274.5 1035.0 276.1C1036.6 277.7 1037.1 280.3 1038.4 282.2C1039.7 284.1 1042.1 286.7 1042.9 287.6" fill="none" stroke="#7a4746" stroke-width="2.5" stroke-linecap="round" stroke-linejoin="round"/><path d="M1022.0 272.4C1023.2 272.4 1026.8 271.9 1029.0 272.5C1031.2 273.1 1033.5 274.5 1035.0 276.1C1036.6 277.7 1037.1 280.3 1038.4 282.2C1039.7 284.1 1042.1 286.7 1042.9 287.6" fill="none" stroke="#e9a4a2" stroke-width="1.4" stroke-linecap="round"/>
<path d="M1046.1 229.1C1044.9 229.0 1041.3 229.2 1039.1 228.7C1036.8 228.1 1034.5 227.1 1032.7 225.8C1030.8 224.4 1030.0 221.7 1028.1 220.5C1026.2 219.3 1023.3 219.7 1021.4 218.5C1019.5 217.3 1018.6 214.5 1016.7 213.3C1014.8 212.0 1012.3 211.5 1010.1 211.0C1007.8 210.4 1005.4 210.4 1003.1 209.9C1000.9 209.4 997.5 208.3 996.4 207.9" fill="none" stroke="#7a4746" stroke-width="2.5" stroke-linecap="round" stroke-linejoin="round"/><path d="M1046.1 229.1C1044.9 229.0 1041.3 229.2 1039.1 228.7C1036.8 228.1 1034.5 227.1 1032.7 225.8C1030.8 224.4 1030.0 221.7 1028.1 220.5C1026.2 219.3 1023.3 219.7 1021.4 218.5C1019.5 217.3 1018.6 214.5 1016.7 213.3C1014.8 212.0 1012.3 211.5 1010.1 211.0C1007.8 210.4 1005.4 210.4 1003.1 209.9C1000.9 209.4 997.5 208.3 996.4 207.9" fill="none" stroke="#e9a4a2" stroke-width="1.4" stroke-linecap="round"/>
<path d="M974.2 307.2C973.2 306.6 970.2 304.7 968.1 303.8C965.9 302.9 963.4 302.9 961.3 301.9C959.3 300.9 957.5 299.3 955.7 297.8C953.9 296.3 952.1 294.7 950.7 292.8C949.3 291.0 948.6 288.6 947.3 286.8C945.9 284.9 943.3 282.5 942.5 281.6" fill="none" stroke="#7a4746" stroke-width="2.5" stroke-linecap="round" stroke-linejoin="round"/><path d="M974.2 307.2C973.2 306.6 970.2 304.7 968.1 303.8C965.9 302.9 963.4 302.9 961.3 301.9C959.3 300.9 957.5 299.3 955.7 297.8C953.9 296.3 952.1 294.7 950.7 292.8C949.3 291.0 948.6 288.6 947.3 286.8C945.9 284.9 943.3 282.5 942.5 281.6" fill="none" stroke="#e9a4a2" stroke-width="1.4" stroke-linecap="round"/>
<path d="M982.8 227.5C981.8 226.9 978.8 225.0 976.8 223.9C974.7 222.9 972.6 221.3 970.4 220.9C968.2 220.6 964.2 222.5 963.5 221.6C962.8 220.6 966.2 215.2 966.2 215.1C966.2 215.1 963.8 219.3 963.3 221.5C962.8 223.7 963.3 227.3 963.4 228.5" fill="none" stroke="#9a9a9a" stroke-width="2.5" stroke-linecap="round" stroke-linejoin="round"/><path d="M982.8 227.5C981.8 226.9 978.8 225.0 976.8 223.9C974.7 222.9 972.6 221.3 970.4 220.9C968.2 220.6 964.2 222.5 963.5 221.6C962.8 220.6 966.2 215.2 966.2 215.1C966.2 215.1 963.8 219.3 963.3 221.5C962.8 223.7 963.3 227.3 963.4 228.5" fill="none" stroke="#e6e6e6" stroke-width="1.4" stroke-linecap="round"/>
<path d="M1003.3 215.4C1003.8 214.4 1005.4 211.2 1006.4 209.1C1007.3 207.0 1008.5 202.5 1008.9 202.6C1009.3 202.6 1008.6 207.3 1008.9 209.6C1009.2 211.9 1010.0 214.1 1010.6 216.4C1011.3 218.6 1012.7 220.8 1012.7 223.0C1012.8 225.3 1011.8 227.7 1010.7 229.7C1009.6 231.7 1006.9 234.1 1006.1 235.0" fill="none" stroke="#9a9a9a" stroke-width="2.5" stroke-linecap="round" stroke-linejoin="round"/><path d="M1003.3 215.4C1003.8 214.4 1005.4 211.2 1006.4 209.1C1007.3 207.0 1008.5 202.5 1008.9 202.6C1009.3 202.6 1008.6 207.3 1008.9 209.6C1009.2 211.9 1010.0 214.1 1010.6 216.4C1011.3 218.6 1012.7 220.8 1012.7 223.0C1012.8 225.3 1011.8 227.7 1010.7 229.7C1009.6 231.7 1006.9 234.1 1006.1 235.0" fill="none" stroke="#e6e6e6" stroke-width="1.4" stroke-linecap="round"/>
<path d="M989.0 256.6C988.5 255.6 987.2 252.3 986.2 250.2C985.3 248.0 983.7 246.1 983.3 243.8C982.8 241.6 984.0 239.1 983.6 236.8C983.2 234.6 981.3 232.7 980.8 230.4C980.2 228.2 980.6 225.8 980.5 223.4C980.5 221.1 981.0 218.7 980.6 216.4C980.2 214.2 978.4 211.0 978.0 209.9" fill="none" stroke="#7a4746" stroke-width="2.5" stroke-linecap="round" stroke-linejoin="round"/><path d="M989.0 256.6C988.5 255.6 987.2 252.3 986.2 250.2C985.3 248.0 983.7 246.1 983.3 243.8C982.8 241.6 984.0 239.1 983.6 236.8C983.2 234.6 981.3 232.7 980.8 230.4C980.2 228.2 980.6 225.8 980.5 223.4C980.5 221.1 981.0 218.7 980.6 216.4C980.2 214.2 978.4 211.0 978.0 209.9" fill="none" stroke="#e9a4a2" stroke-width="1.4" stroke-linecap="round"/>
<path d="M1042.8 220.9C1041.7 220.6 1038.1 220.0 1036.1 218.9C1034.1 217.8 1032.7 215.6 1030.9 214.3C1029.0 212.9 1026.7 212.1 1025.0 210.5C1023.2 209.0 1020.7 205.0 1020.6 205.0C1020.6 205.1 1023.4 208.8 1024.5 210.8C1025.6 212.9 1026.6 215.1 1027.2 217.3C1027.7 219.6 1027.4 222.0 1027.7 224.3C1028.1 226.6 1029.2 230.0 1029.4 231.1" fill="none" stroke="#9a9a9a" stroke-width="2.5" stroke-linecap="round" stroke-linejoin="round"/><path d="M1042.8 220.9C1041.7 220.6 1038.1 220.0 1036.1 218.9C1034.1 217.8 1032.7 215.6 1030.9 214.3C1029.0 212.9 1026.7 212.1 1025.0 210.5C1023.2 209.0 1020.7 205.0 1020.6 205.0C1020.6 205.1 1023.4 208.8 1024.5 210.8C1025.6 212.9 1026.6 215.1 1027.2 217.3C1027.7 219.6 1027.4 222.0 1027.7 224.3C1028.1 226.6 1029.2 230.0 1029.4 231.1" fill="none" stroke="#e6e6e6" stroke-width="1.4" stroke-linecap="round"/>
<path d="M1016.9 296.9C1016.5 298.0 1015.8 301.6 1014.5 303.5C1013.1 305.3 1010.7 306.2 1009.0 307.8C1007.3 309.4 1004.7 313.3 1004.4 313.1C1004.1 312.9 1006.2 308.8 1007.1 306.6C1007.9 304.5 1008.3 302.1 1009.5 300.1C1010.6 298.1 1012.6 296.6 1013.9 294.6C1015.2 292.7 1016.3 290.6 1017.1 288.4C1017.9 286.2 1018.3 283.9 1018.5 281.6C1018.7 279.2 1018.2 275.7 1018.1 274.6" fill="none" stroke="#9a9a9a" stroke-width="2.5" stroke-linecap="round" stroke-linejoin="round"/><path d="M1016.9 296.9C1016.5 298.0 1015.8 301.6 1014.5 303.5C1013.1 305.3 1010.7 306.2 1009.0 307.8C1007.3 309.4 1004.7 313.3 1004.4 313.1C1004.1 312.9 1006.2 308.8 1007.1 306.6C1007.9 304.5 1008.3 302.1 1009.5 300.1C1010.6 298.1 1012.6 296.6 1013.9 294.6C1015.2 292.7 1016.3 290.6 1017.1 288.4C1017.9 286.2 1018.3 283.9 1018.5 281.6C1018.7 279.2 1018.2 275.7 1018.1 274.6" fill="none" stroke="#e6e6e6" stroke-width="1.4" stroke-linecap="round"/>
<path d="M1014.2 292.5C1013.7 293.6 1012.7 297.2 1011.3 298.9C1009.8 300.6 1007.4 301.5 1005.5 302.9C1003.7 304.4 1002.3 306.6 1000.3 307.6C998.3 308.6 995.6 308.2 993.5 309.1C991.4 310.0 988.0 313.4 987.7 313.1C987.5 312.9 990.7 309.5 992.0 307.6C993.3 305.6 994.4 303.6 995.3 301.4C996.2 299.3 997.2 297.0 997.4 294.7C997.6 292.4 996.6 288.9 996.4 287.8" fill="none" stroke="#7a4746" stroke-width="2.5" stroke-linecap="round" stroke-linejoin="round"/><path d="M1014.2 292.5C1013.7 293.6 1012.7 297.2 1011.3 298.9C1009.8 300.6 1007.4 301.5 1005.5 302.9C1003.7 304.4 1002.3 306.6 1000.3 307.6C998.3 308.6 995.6 308.2 993.5 309.1C991.4 310.0 988.0 313.4 987.7 313.1C987.5 312.9 990.7 309.5 992.0 307.6C993.3 305.6 994.4 303.6 995.3 301.4C996.2 299.3 997.2 297.0 997.4 294.7C997.6 292.4 996.6 288.9 996.4 287.8" fill="none" stroke="#e9a4a2" stroke-width="1.4" stroke-linecap="round"/>
<path d="M955.8 242.0C956.7 241.3 959.3 238.8 961.2 237.5C963.2 236.3 965.4 235.3 967.6 234.7C969.8 234.0 972.4 234.4 974.5 233.6C976.7 232.9 978.4 230.9 980.5 230.0C982.7 229.2 985.1 228.9 987.4 228.6C989.7 228.2 993.2 227.9 994.3 227.8" fill="none" stroke="#9a9a9a" stroke-width="2.5" stroke-linecap="round" stroke-linejoin="round"/><path d="M955.8 242.0C956.7 241.3 959.3 238.8 961.2 237.5C963.2 236.3 965.4 235.3 967.6 234.7C969.8 234.0 972.4 234.4 974.5 233.6C976.7 232.9 978.4 230.9 980.5 230.0C982.7 229.2 985.1 228.9 987.4 228.6C989.7 228.2 993.2 227.9 994.3 227.8" fill="none" stroke="#e6e6e6" stroke-width="1.4" stroke-linecap="round"/>
<path d="M1051.7 235.1C1050.6 235.0 1046.8 235.5 1044.7 234.7C1042.7 233.9 1041.2 231.5 1039.2 230.4C1037.2 229.4 1034.7 229.2 1032.5 228.4C1030.3 227.7 1028.1 226.8 1026.0 225.8C1023.9 224.7 1022.2 222.9 1020.0 222.2C1017.9 221.4 1015.3 221.8 1013.1 221.0C1010.9 220.3 1009.1 218.5 1006.9 217.9C1004.7 217.2 1002.2 217.8 999.9 217.3C997.6 216.8 994.4 215.3 993.3 214.9" fill="none" stroke="#7a4746" stroke-width="2.5" stroke-linecap="round" stroke-linejoin="round"/><path d="M1051.7 235.1C1050.6 235.0 1046.8 235.5 1044.7 234.7C1042.7 233.9 1041.2 231.5 1039.2 230.4C1037.2 229.4 1034.7 229.2 1032.5 228.4C1030.3 227.7 1028.1 226.8 1026.0 225.8C1023.9 224.7 1022.2 222.9 1020.0 222.2C1017.9 221.4 1015.3 221.8 1013.1 221.0C1010.9 220.3 1009.1 218.5 1006.9 217.9C1004.7 217.2 1002.2 217.8 999.9 217.3C997.6 216.8 994.4 215.3 993.3 214.9" fill="none" stroke="#e9a4a2" stroke-width="1.4" stroke-linecap="round"/>
<path d="M1045.9 212.9C1046.6 213.8 1048.4 216.8 1049.7 218.8C1051.0 220.7 1052.2 222.7 1053.7 224.5C1055.2 226.3 1058.7 229.3 1058.5 229.6C1058.3 229.9 1054.5 227.1 1052.3 226.3C1050.2 225.5 1047.5 226.0 1045.4 225.1C1043.4 224.2 1042.0 221.6 1039.9 220.8C1037.8 220.0 1034.1 220.4 1032.9 220.4" fill="none" stroke="#7a4746" stroke-width="2.5" stroke-linecap="round" stroke-linejoin="round"/><path d="M1045.9 212.9C1046.6 213.8 1048.4 216.8 1049.7 218.8C1051.0 220.7 1052.2 222.7 1053.7 224.5C1055.2 226.3 1058.7 229.3 1058.5 229.6C1058.3 229.9 1054.5 227.1 1052.3 226.3C1050.2 225.5 1047.5 226.0 1045.4 225.1C1043.4 224.2 1042.0 221.6 1039.9 220.8C1037.8 220.0 1034.1 220.4 1032.9 220.4" fill="none" stroke="#e9a4a2" stroke-width="1.4" stroke-linecap="round"/>
<path d="M1042.6 279.9C1041.5 279.5 1038.3 278.0 1036.1 277.5C1033.8 276.9 1031.4 276.6 1029.1 276.6C1026.8 276.6 1024.5 277.2 1022.2 277.5C1019.9 277.8 1016.4 278.2 1015.2 278.3" fill="none" stroke="#9a9a9a" stroke-width="2.5" stroke-linecap="round" stroke-linejoin="round"/><path d="M1042.6 279.9C1041.5 279.5 1038.3 278.0 1036.1 277.5C1033.8 276.9 1031.4 276.6 1029.1 276.6C1026.8 276.6 1024.5 277.2 1022.2 277.5C1019.9 277.8 1016.4 278.2 1015.2 278.3" fill="none" stroke="#e6e6e6" stroke-width="1.4" stroke-linecap="round"/>
<path d="M968.1 240.8C968.6 241.9 970.1 245.1 970.7 247.3C971.4 249.5 971.5 251.9 972.2 254.1C972.9 256.3 973.5 258.7 974.7 260.6C976.0 262.5 978.2 263.8 979.8 265.5C981.3 267.2 982.8 269.1 984.2 271.0C985.6 272.8 987.4 274.6 988.2 276.7C988.9 278.8 988.5 282.5 988.6 283.7" fill="none" stroke="#7a4746" stroke-width="2.5" stroke-linecap="round" stroke-linejoin="round"/><path d="M968.1 240.8C968.6 241.9 970.1 245.1 970.7 247.3C971.4 249.5 971.5 251.9 972.2 254.1C972.9 256.3 973.5 258.7 974.7 260.6C976.0 262.5 978.2 263.8 979.8 265.5C981.3 267.2 982.8 269.1 984.2 271.0C985.6 272.8 987.4 274.6 988.2 276.7C988.9 278.8 988.5 282.5 988.6 283.7" fill="none" stroke="#e9a4a2" stroke-width="1.4" stroke-linecap="round"/>
<path d="M1009.1 240.7C1009.9 239.9 1012.5 237.5 1013.9 235.7C1015.4 233.8 1016.0 231.3 1017.6 229.7C1019.2 228.1 1021.6 227.3 1023.7 226.2C1025.7 225.1 1028.9 223.6 1029.9 223.0" fill="none" stroke="#7a4746" stroke-width="2.5" stroke-linecap="round" stroke-linejoin="round"/><path d="M1009.1 240.7C1009.9 239.9 1012.5 237.5 1013.9 235.7C1015.4 233.8 1016.0 231.3 1017.6 229.7C1019.2 228.1 1021.6 227.3 1023.7 226.2C1025.7 225.1 1028.9 223.6 1029.9 223.0" fill="none" stroke="#e9a4a2" stroke-width="1.4" stroke-linecap="round"/>
<path d="M1011.8 303.4C1010.7 303.6 1007.3 304.3 1005.0 304.8C1002.7 305.3 1000.4 305.8 998.1 306.3C995.9 306.9 993.6 307.7 991.3 308.0C989.0 308.3 986.7 307.8 984.3 307.9C982.0 308.1 979.7 309.0 977.4 308.8C975.1 308.7 973.0 307.0 970.7 306.8C968.4 306.6 964.9 307.5 963.8 307.6" fill="none" stroke="#9a9a9a" stroke-width="2.5" stroke-linecap="round" stroke-linejoin="round"/><path d="M1011.8 303.4C1010.7 303.6 1007.3 304.3 1005.0 304.8C1002.7 305.3 1000.4 305.8 998.1 306.3C995.9 306.9 993.6 307.7 991.3 308.0C989.0 308.3 986.7 307.8 984.3 307.9C982.0 308.1 979.7 309.0 977.4 308.8C975.1 308.7 973.0 307.0 970.7 306.8C968.4 306.6 964.9 307.5 963.8 307.6" fill="none" stroke="#e6e6e6" stroke-width="1.4" stroke-linecap="round"/>
<path d="M994.5 248.2C994.0 249.3 992.3 252.4 991.6 254.6C991.0 256.8 990.8 259.2 990.5 261.5C990.1 263.8 989.3 266.1 989.5 268.4C989.7 270.7 991.1 272.8 991.6 275.1C992.2 277.3 992.3 279.7 992.8 282.0C993.3 284.3 994.2 287.6 994.4 288.8" fill="none" stroke="#7a4746" stroke-width="2.5" stroke-linecap="round" stroke-linejoin="round"/><path d="M994.5 248.2C994.0 249.3 992.3 252.4 991.6 254.6C991.0 256.8 990.8 259.2 990.5 261.5C990.1 263.8 989.3 266.1 989.5 268.4C989.7 270.7 991.1 272.8 991.6 275.1C992.2 277.3 992.3 279.7 992.8 282.0C993.3 284.3 994.2 287.6 994.4 288.8" fill="none" stroke="#e9a4a2" stroke-width="1.4" stroke-linecap="round"/>
<path d="M981.0 255.7C980.3 254.8 977.8 252.2 976.7 250.2C975.6 248.2 975.5 245.6 974.4 243.6C973.3 241.6 971.8 239.6 970.2 238.0C968.6 236.3 966.7 234.7 964.7 233.7C962.6 232.7 959.0 232.3 957.9 232.0" fill="none" stroke="#7a4746" stroke-width="2.5" stroke-linecap="round" stroke-linejoin="round"/><path d="M981.0 255.7C980.3 254.8 977.8 252.2 976.7 250.2C975.6 248.2 975.5 245.6 974.4 243.6C973.3 241.6 971.8 239.6 970.2 238.0C968.6 236.3 966.7 234.7 964.7 233.7C962.6 232.7 959.0 232.3 957.9 232.0" fill="none" stroke="#e9a4a2" stroke-width="1.4" stroke-linecap="round"/>
<path d="M968.1 270.5C967.0 270.2 963.4 269.7 961.4 268.6C959.4 267.5 957.5 265.8 956.2 263.9C954.9 262.1 955.1 259.2 953.7 257.4C952.3 255.6 950.1 254.2 948.0 253.3C945.9 252.4 941.2 252.6 941.1 252.0C941.1 251.5 945.5 250.5 947.8 249.9C950.1 249.4 952.4 248.8 954.7 248.7C957.0 248.6 959.5 249.9 961.7 249.5C963.9 249.1 966.9 246.8 967.9 246.3" fill="none" stroke="#7a4746" stroke-width="2.5" stroke-linecap="round" stroke-linejoin="round"/><path d="M968.1 270.5C967.0 270.2 963.4 269.7 961.4 268.6C959.4 267.5 957.5 265.8 956.2 263.9C954.9 262.1 955.1 259.2 953.7 257.4C952.3 255.6 950.1 254.2 948.0 253.3C945.9 252.4 941.2 252.6 941.1 252.0C941.1 251.5 945.5 250.5 947.8 249.9C950.1 249.4 952.4 248.8 954.7 248.7C957.0 248.6 959.5 249.9 961.7 249.5C963.9 249.1 966.9 246.8 967.9 246.3" fill="none" stroke="#e9a4a2" stroke-width="1.4" stroke-linecap="round"/>
<path d="M976.9 286.4C975.8 286.5 972.3 286.6 969.9 286.6C967.6 286.6 965.2 286.7 962.9 286.3C960.6 286.0 958.4 284.6 956.2 284.5C953.9 284.5 950.5 285.8 949.3 286.0" fill="none" stroke="#9a9a9a" stroke-width="2.5" stroke-linecap="round" stroke-linejoin="round"/><path d="M976.9 286.4C975.8 286.5 972.3 286.6 969.9 286.6C967.6 286.6 965.2 286.7 962.9 286.3C960.6 286.0 958.4 284.6 956.2 284.5C953.9 284.5 950.5 285.8 949.3 286.0" fill="none" stroke="#e6e6e6" stroke-width="1.4" stroke-linecap="round"/>
<path d="M573.7 78.4C573.4 77.2 573.1 73.6 572.1 71.6C571.0 69.6 568.9 68.2 567.4 66.3C566.0 64.5 562.9 61.3 563.3 60.7C563.8 60.0 569.0 62.0 570.2 62.2" fill="none" stroke="#979797" stroke-width="1.5" stroke-linecap="round" stroke-linejoin="round"/><path d="M573.7 78.4C573.4 77.2 573.1 73.6 572.1 71.6C571.0 69.6 568.9 68.2 567.4 66.3C566.0 64.5 562.9 61.3 563.3 60.7C563.8 60.0 569.0 62.0 570.2 62.2" fill="none" stroke="#cbcbcb" stroke-width="0.4" stroke-linecap="round"/>
<path d="M541.6 119.8C541.8 121.0 542.8 124.5 542.6 126.7C542.5 129.0 541.0 131.3 541.0 133.5C540.9 135.8 541.6 138.2 542.4 140.4C543.3 142.5 545.0 144.3 546.0 146.4C547.1 148.5 548.4 150.6 548.7 152.9C548.9 155.1 548.1 157.5 547.6 159.8C547.2 162.1 545.7 166.5 545.9 166.6C546.1 166.7 548.4 161.3 548.8 160.2" fill="none" stroke="#979797" stroke-width="1.5" stroke-linecap="round" stroke-linejoin="round"/><path d="M541.6 119.8C541.8 121.0 542.8 124.5 542.6 126.7C542.5 129.0 541.0 131.3 541.0 133.5C540.9 135.8 541.6 138.2 542.4 140.4C543.3 142.5 545.0 144.3 546.0 146.4C547.1 148.5 548.4 150.6 548.7 152.9C548.9 155.1 548.1 157.5 547.6 159.8C547.2 162.1 545.7 166.5 545.9 166.6C546.1 166.7 548.4 161.3 548.8 160.2" fill="none" stroke="#cbcbcb" stroke-width="0.4" stroke-linecap="round"/>
<path d="M569.1 77.4C569.9 78.2 572.5 80.6 573.9 82.4C575.3 84.3 575.9 86.8 577.5 88.4C579.1 90.1 581.5 90.8 583.5 92.1C585.4 93.4 587.0 95.3 589.1 96.3C591.1 97.3 593.6 98.1 595.8 98.1C598.1 98.2 601.5 96.9 602.7 96.6" fill="none" stroke="#979797" stroke-width="1.5" stroke-linecap="round" stroke-linejoin="round"/><path d="M569.1 77.4C569.9 78.2 572.5 80.6 573.9 82.4C575.3 84.3 575.9 86.8 577.5 88.4C579.1 90.1 581.5 90.8 583.5 92.1C585.4 93.4 587.0 95.3 589.1 96.3C591.1 97.3 593.6 98.1 595.8 98.1C598.1 98.2 601.5 96.9 602.7 96.6" fill="none" stroke="#cbcbcb" stroke-width="0.4" stroke-linecap="round"/>
<path d="M626.1 142.5C625.5 141.5 623.6 138.6 622.1 136.7C620.7 134.9 619.3 132.9 617.7 131.3C616.0 129.7 613.9 128.6 612.1 127.1C610.3 125.6 608.8 123.8 607.0 122.3C605.3 120.7 603.6 119.0 601.7 117.8C599.7 116.5 597.3 116.0 595.4 114.6C593.6 113.3 591.4 110.4 590.6 109.6" fill="none" stroke="#979797" stroke-width="1.5" stroke-linecap="round" stroke-linejoin="round"/><path d="M626.1 142.5C625.5 141.5 623.6 138.6 622.1 136.7C620.7 134.9 619.3 132.9 617.7 131.3C616.0 129.7 613.9 128.6 612.1 127.1C610.3 125.6 608.8 123.8 607.0 122.3C605.3 120.7 603.6 119.0 601.7 117.8C599.7 116.5 597.3 116.0 595.4 114.6C593.6 113.3 591.4 110.4 590.6 109.6" fill="none" stroke="#cbcbcb" stroke-width="0.4" stroke-linecap="round"/>
<path d="M624.4 92.8C623.3 92.3 620.3 90.6 618.1 89.7C615.9 88.9 613.6 88.4 611.4 87.8C609.1 87.3 606.8 87.0 604.5 86.3C602.3 85.7 600.2 84.2 597.9 84.0C595.7 83.8 593.3 84.8 591.0 85.2C588.7 85.5 586.3 85.4 584.1 86.2C582.0 87.0 580.0 88.5 578.2 89.9C576.3 91.4 573.9 93.9 573.0 94.7" fill="none" stroke="#979797" stroke-width="1.5" stroke-linecap="round" stroke-linejoin="round"/><path d="M624.4 92.8C623.3 92.3 620.3 90.6 618.1 89.7C615.9 88.9 613.6 88.4 611.4 87.8C609.1 87.3 606.8 87.0 604.5 86.3C602.3 85.7 600.2 84.2 597.9 84.0C595.7 83.8 593.3 84.8 591.0 85.2C588.7 85.5 586.3 85.4 584.1 86.2C582.0 87.0 580.0 88.5 578.2 89.9C576.3 91.4 573.9 93.9 573.0 94.7" fill="none" stroke="#cbcbcb" stroke-width="0.4" stroke-linecap="round"/>
<path d="M605.3 177.3C606.1 176.4 608.1 173.5 609.7 171.8C611.2 170.0 612.8 168.4 614.6 166.8C616.3 165.2 618.2 163.9 619.9 162.3C621.7 160.8 623.1 158.7 625.0 157.5C627.0 156.3 629.4 155.4 631.6 155.2C633.9 155.0 637.4 156.3 638.5 156.5" fill="none" stroke="#979797" stroke-width="1.5" stroke-linecap="round" stroke-linejoin="round"/><path d="M605.3 177.3C606.1 176.4 608.1 173.5 609.7 171.8C611.2 170.0 612.8 168.4 614.6 166.8C616.3 165.2 618.2 163.9 619.9 162.3C621.7 160.8 623.1 158.7 625.0 157.5C627.0 156.3 629.4 155.4 631.6 155.2C633.9 155.0 637.4 156.3 638.5 156.5" fill="none" stroke="#cbcbcb" stroke-width="0.4" stroke-linecap="round"/>
<path d="M594.0 157.9C595.0 158.6 598.5 160.0 599.9 161.6C601.4 163.3 602.3 165.8 602.8 168.0C603.3 170.3 602.7 172.7 603.1 175.0C603.4 177.3 604.3 179.6 605.1 181.7C605.9 183.9 607.2 185.9 608.0 188.1C608.7 190.3 609.3 193.8 609.6 194.9" fill="none" stroke="#979797" stroke-width="1.5" stroke-linecap="round" stroke-linejoin="round"/><path d="M594.0 157.9C595.0 158.6 598.5 160.0 599.9 161.6C601.4 163.3 602.3 165.8 602.8 168.0C603.3 170.3 602.7 172.7 603.1 175.0C603.4 177.3 604.3 179.6 605.1 181.7C605.9 183.9 607.2 185.9 608.0 188.1C608.7 190.3 609.3 193.8 609.6 194.9" fill="none" stroke="#cbcbcb" stroke-width="0.4" stroke-linecap="round"/>
<path d="M533.0 126.6C533.6 127.6 535.1 130.9 536.5 132.6C538.0 134.4 539.9 135.9 541.8 137.2C543.8 138.5 546.2 139.0 548.1 140.3C550.0 141.6 552.4 144.2 553.3 145.0" fill="none" stroke="#979797" stroke-width="1.5" stroke-linecap="round" stroke-linejoin="round"/><path d="M533.0 126.6C533.6 127.6 535.1 130.9 536.5 132.6C538.0 134.4 539.9 135.9 541.8 137.2C543.8 138.5 546.2 139.0 548.1 140.3C550.0 141.6 552.4 144.2 553.3 145.0" fill="none" stroke="#cbcbcb" stroke-width="0.4" stroke-linecap="round"/>
<path d="M583.7 197.1C582.6 197.2 576.7 197.5 576.7 197.7C576.7 197.9 581.5 197.7 583.7 198.4C585.9 199.1 588.2 200.2 589.9 201.7C591.6 203.1 592.9 207.3 594.1 207.2C595.4 207.1 596.9 202.1 597.4 201.1" fill="none" stroke="#979797" stroke-width="1.5" stroke-linecap="round" stroke-linejoin="round"/><path d="M583.7 197.1C582.6 197.2 576.7 197.5 576.7 197.7C576.7 197.9 581.5 197.7 583.7 198.4C585.9 199.1 588.2 200.2 589.9 201.7C591.6 203.1 592.9 207.3 594.1 207.2C595.4 207.1 596.9 202.1 597.4 201.1" fill="none" stroke="#cbcbcb" stroke-width="0.4" stroke-linecap="round"/>
<path d="M550.4 82.3C551.1 83.2 553.8 85.7 554.9 87.7C556.0 89.7 555.9 92.3 557.0 94.4C558.0 96.4 559.7 98.2 561.4 99.8C563.1 101.4 565.0 103.0 567.0 103.9C569.1 104.8 572.8 105.1 573.9 105.3" fill="none" stroke="#979797" stroke-width="1.5" stroke-linecap="round" stroke-linejoin="round"/><path d="M550.4 82.3C551.1 83.2 553.8 85.7 554.9 87.7C556.0 89.7 555.9 92.3 557.0 94.4C558.0 96.4 559.7 98.2 561.4 99.8C563.1 101.4 565.0 103.0 567.0 103.9C569.1 104.8 572.8 105.1 573.9 105.3" fill="none" stroke="#cbcbcb" stroke-width="0.4" stroke-linecap="round"/>
<path d="M602.2 149.5C601.5 150.4 599.3 153.2 597.9 155.1C596.4 156.9 595.1 158.8 593.5 160.5C591.9 162.2 590.2 163.9 588.4 165.3C586.5 166.7 583.9 167.3 582.4 168.9C580.8 170.5 579.6 174.0 579.0 175.0" fill="none" stroke="#979797" stroke-width="1.5" stroke-linecap="round" stroke-linejoin="round"/><path d="M602.2 149.5C601.5 150.4 599.3 153.2 597.9 155.1C596.4 156.9 595.1 158.8 593.5 160.5C591.9 162.2 590.2 163.9 588.4 165.3C586.5 166.7 583.9 167.3 582.4 168.9C580.8 170.5 579.6 174.0 579.0 175.0" fill="none" stroke="#cbcbcb" stroke-width="0.4" stroke-linecap="round"/>
<path d="M651.4 175.9C652.1 175.0 654.4 172.3 655.7 170.3C657.0 168.4 658.6 166.5 659.2 164.3C659.9 162.1 659.3 159.6 659.6 157.3C660.0 155.0 661.2 152.7 661.1 150.5C661.0 148.2 660.2 145.7 659.0 143.8C657.8 141.9 655.8 140.3 653.9 139.1C651.9 137.8 649.7 136.8 647.4 136.4C645.2 135.9 641.6 136.4 640.4 136.5" fill="none" stroke="#979797" stroke-width="1.5" stroke-linecap="round" stroke-linejoin="round"/><path d="M651.4 175.9C652.1 175.0 654.4 172.3 655.7 170.3C657.0 168.4 658.6 166.5 659.2 164.3C659.9 162.1 659.3 159.6 659.6 157.3C660.0 155.0 661.2 152.7 661.1 150.5C661.0 148.2 660.2 145.7 659.0 143.8C657.8 141.9 655.8 140.3 653.9 139.1C651.9 137.8 649.7 136.8 647.4 136.4C645.2 135.9 641.6 136.4 640.4 136.5" fill="none" stroke="#cbcbcb" stroke-width="0.4" stroke-linecap="round"/>
<path d="M575.9 63.1C577.1 63.2 580.8 62.8 582.9 63.5C585.0 64.2 586.9 65.9 588.7 67.3C590.6 68.7 592.0 70.9 594.0 71.9C596.0 73.0 598.6 73.3 600.9 73.4C603.1 73.4 606.6 72.5 607.8 72.4" fill="none" stroke="#979797" stroke-width="1.5" stroke-linecap="round" stroke-linejoin="round"/><path d="M575.9 63.1C577.1 63.2 580.8 62.8 582.9 63.5C585.0 64.2 586.9 65.9 588.7 67.3C590.6 68.7 592.0 70.9 594.0 71.9C596.0 73.0 598.6 73.3 600.9 73.4C603.1 73.4 606.6 72.5 607.8 72.4" fill="none" stroke="#cbcbcb" stroke-width="0.4" stroke-linecap="round"/>
<path d="M580.8 153.3C581.8 152.8 585.3 151.7 587.1 150.3C588.9 148.9 589.7 146.3 591.5 144.9C593.3 143.4 595.5 142.1 597.7 141.7C599.9 141.3 602.3 142.2 604.7 142.5C607.0 142.7 609.3 142.8 611.6 143.0C614.0 143.1 616.4 143.8 618.6 143.4C620.9 142.9 623.2 141.8 625.0 140.4C626.7 138.9 628.5 135.7 629.2 134.8" fill="none" stroke="#979797" stroke-width="1.5" stroke-linecap="round" stroke-linejoin="round"/><path d="M580.8 153.3C581.8 152.8 585.3 151.7 587.1 150.3C588.9 148.9 589.7 146.3 591.5 144.9C593.3 143.4 595.5 142.1 597.7 141.7C599.9 141.3 602.3 142.2 604.7 142.5C607.0 142.7 609.3 142.8 611.6 143.0C614.0 143.1 616.4 143.8 618.6 143.4C620.9 142.9 623.2 141.8 625.0 140.4C626.7 138.9 628.5 135.7 629.2 134.8" fill="none" stroke="#cbcbcb" stroke-width="0.4" stroke-linecap="round"/>
<path d="M714.8 113.5C715.7 114.2 718.4 116.5 720.3 117.9C722.1 119.3 724.1 120.5 725.9 122.0C727.7 123.5 729.2 125.4 731.0 126.9C732.8 128.3 735.9 130.0 736.9 130.6" fill="none" stroke="#85866a" stroke-width="1.8" stroke-linecap="round" stroke-linejoin="round"/><path d="M714.8 113.5C715.7 114.2 718.4 116.5 720.3 117.9C722.1 119.3 724.1 120.5 725.9 122.0C727.7 123.5 729.2 125.4 731.0 126.9C732.8 128.3 735.9 130.0 736.9 130.6" fill="none" stroke="#d8d9b0" stroke-width="0.7" stroke-linecap="round"/>
<path d="M751.9 85.4C752.8 84.6 755.7 82.4 757.1 80.6C758.5 78.8 759.3 74.5 760.5 74.5C761.7 74.4 763.6 78.2 764.4 80.3C765.1 82.4 764.9 85.0 764.9 87.3C765.0 89.6 765.2 92.0 764.7 94.3C764.3 96.5 762.9 98.6 762.3 100.8C761.6 103.1 761.0 106.5 760.8 107.7" fill="none" stroke="#85866a" stroke-width="1.8" stroke-linecap="round" stroke-linejoin="round"/><path d="M751.9 85.4C752.8 84.6 755.7 82.4 757.1 80.6C758.5 78.8 759.3 74.5 760.5 74.5C761.7 74.4 763.6 78.2 764.4 80.3C765.1 82.4 764.9 85.0 764.9 87.3C765.0 89.6 765.2 92.0 764.7 94.3C764.3 96.5 762.9 98.6 762.3 100.8C761.6 103.1 761.0 106.5 760.8 107.7" fill="none" stroke="#d8d9b0" stroke-width="0.7" stroke-linecap="round"/>
<path d="M778.7 90.3C778.3 91.4 777.6 94.9 776.5 97.0C775.5 99.0 774.1 101.2 772.4 102.6C770.7 104.0 768.1 104.5 766.1 105.6C764.0 106.7 762.0 107.9 760.2 109.4C758.4 110.8 756.3 112.3 755.1 114.2C753.9 116.1 754.1 118.8 753.3 120.9C752.4 123.1 750.4 126.0 749.8 127.0" fill="none" stroke="#85866a" stroke-width="1.8" stroke-linecap="round" stroke-linejoin="round"/><path d="M778.7 90.3C778.3 91.4 777.6 94.9 776.5 97.0C775.5 99.0 774.1 101.2 772.4 102.6C770.7 104.0 768.1 104.5 766.1 105.6C764.0 106.7 762.0 107.9 760.2 109.4C758.4 110.8 756.3 112.3 755.1 114.2C753.9 116.1 754.1 118.8 753.3 120.9C752.4 123.1 750.4 126.0 749.8 127.0" fill="none" stroke="#d8d9b0" stroke-width="0.7" stroke-linecap="round"/>
<path d="M703.0 129.9C704.1 130.3 707.6 131.4 709.4 132.8C711.2 134.1 713.0 136.0 714.0 138.0C715.0 140.1 714.1 143.0 715.1 145.0C716.1 147.0 718.6 148.1 719.9 150.0C721.2 151.9 721.6 154.5 722.9 156.4C724.3 158.2 726.7 159.3 728.0 161.2C729.2 163.1 730.1 166.7 730.6 167.7" fill="none" stroke="#4f7282" stroke-width="1.8" stroke-linecap="round" stroke-linejoin="round"/><path d="M703.0 129.9C704.1 130.3 707.6 131.4 709.4 132.8C711.2 134.1 713.0 136.0 714.0 138.0C715.0 140.1 714.1 143.0 715.1 145.0C716.1 147.0 718.6 148.1 719.9 150.0C721.2 151.9 721.6 154.5 722.9 156.4C724.3 158.2 726.7 159.3 728.0 161.2C729.2 163.1 730.1 166.7 730.6 167.7" fill="none" stroke="#9fc2d3" stroke-width="0.7" stroke-linecap="round"/>
<path d="M661.9 130.6C662.5 129.6 665.0 124.4 665.6 124.6C666.1 124.8 665.5 129.3 665.0 131.6C664.6 133.9 663.1 136.0 662.9 138.2C662.6 140.5 664.0 143.0 663.6 145.2C663.3 147.4 662.0 149.6 660.8 151.6C659.6 153.6 657.3 155.0 656.4 157.0C655.5 159.1 655.6 162.8 655.5 164.0" fill="none" stroke="#4f7282" stroke-width="1.8" stroke-linecap="round" stroke-linejoin="round"/><path d="M661.9 130.6C662.5 129.6 665.0 124.4 665.6 124.6C666.1 124.8 665.5 129.3 665.0 131.6C664.6 133.9 663.1 136.0 662.9 138.2C662.6 140.5 664.0 143.0 663.6 145.2C663.3 147.4 662.0 149.6 660.8 151.6C659.6 153.6 657.3 155.0 656.4 157.0C655.5 159.1 655.6 162.8 655.5 164.0" fill="none" stroke="#9fc2d3" stroke-width="0.7" stroke-linecap="round"/>
<path d="M727.7 145.7C728.1 146.8 729.4 150.0 730.1 152.3C730.8 154.5 730.7 157.1 731.9 159.0C733.0 161.0 735.7 161.9 737.0 163.8C738.3 165.7 738.6 168.2 739.6 170.3C740.5 172.4 742.3 174.3 742.9 176.5C743.4 178.7 742.9 182.3 742.9 183.5" fill="none" stroke="#85866a" stroke-width="1.8" stroke-linecap="round" stroke-linejoin="round"/><path d="M727.7 145.7C728.1 146.8 729.4 150.0 730.1 152.3C730.8 154.5 730.7 157.1 731.9 159.0C733.0 161.0 735.7 161.9 737.0 163.8C738.3 165.7 738.6 168.2 739.6 170.3C740.5 172.4 742.3 174.3 742.9 176.5C743.4 178.7 742.9 182.3 742.9 183.5" fill="none" stroke="#d8d9b0" stroke-width="0.7" stroke-linecap="round"/>
<path d="M735.6 67.9C734.7 68.7 732.3 71.4 730.4 72.6C728.4 73.9 725.7 74.0 723.9 75.4C722.1 76.8 720.8 78.9 719.6 80.9C718.3 82.8 717.8 85.3 716.3 87.1C714.8 88.8 711.3 91.7 710.7 91.3C710.1 90.9 712.9 84.6 712.7 84.6C712.5 84.5 708.9 89.1 709.3 90.7C709.8 92.3 714.4 93.6 715.4 94.1" fill="none" stroke="#4f7282" stroke-width="1.8" stroke-linecap="round" stroke-linejoin="round"/><path d="M735.6 67.9C734.7 68.7 732.3 71.4 730.4 72.6C728.4 73.9 725.7 74.0 723.9 75.4C722.1 76.8 720.8 78.9 719.6 80.9C718.3 82.8 717.8 85.3 716.3 87.1C714.8 88.8 711.3 91.7 710.7 91.3C710.1 90.9 712.9 84.6 712.7 84.6C712.5 84.5 708.9 89.1 709.3 90.7C709.8 92.3 714.4 93.6 715.4 94.1" fill="none" stroke="#9fc2d3" stroke-width="0.7" stroke-linecap="round"/>
<path d="M764.1 104.4C763.4 105.4 760.9 108.2 760.3 110.3C759.7 112.5 760.8 115.0 760.4 117.3C760.0 119.6 759.3 121.9 758.2 123.9C757.0 125.9 755.2 127.5 753.7 129.3C752.2 131.1 750.9 133.1 749.2 134.7C747.5 136.3 745.2 137.2 743.5 138.8C741.9 140.4 741.0 142.8 739.3 144.4C737.7 146.0 734.7 147.9 733.7 148.6" fill="none" stroke="#4f7282" stroke-width="1.8" stroke-linecap="round" stroke-linejoin="round"/><path d="M764.1 104.4C763.4 105.4 760.9 108.2 760.3 110.3C759.7 112.5 760.8 115.0 760.4 117.3C760.0 119.6 759.3 121.9 758.2 123.9C757.0 125.9 755.2 127.5 753.7 129.3C752.2 131.1 750.9 133.1 749.2 134.7C747.5 136.3 745.2 137.2 743.5 138.8C741.9 140.4 741.0 142.8 739.3 144.4C737.7 146.0 734.7 147.9 733.7 148.6" fill="none" stroke="#9fc2d3" stroke-width="0.7" stroke-linecap="round"/>
<path d="M740.7 75.2C740.6 74.1 739.6 68.4 740.1 68.2C740.6 68.1 742.8 72.1 743.8 74.2C744.8 76.3 745.0 78.8 746.2 80.8C747.4 82.7 749.8 83.9 751.0 85.9C752.2 87.8 752.3 90.4 753.3 92.5C754.4 94.5 755.7 96.7 757.4 98.1C759.2 99.6 762.1 99.5 763.9 100.9C765.6 102.3 767.1 105.7 767.8 106.7" fill="none" stroke="#85866a" stroke-width="1.8" stroke-linecap="round" stroke-linejoin="round"/><path d="M740.7 75.2C740.6 74.1 739.6 68.4 740.1 68.2C740.6 68.1 742.8 72.1 743.8 74.2C744.8 76.3 745.0 78.8 746.2 80.8C747.4 82.7 749.8 83.9 751.0 85.9C752.2 87.8 752.3 90.4 753.3 92.5C754.4 94.5 755.7 96.7 757.4 98.1C759.2 99.6 762.1 99.5 763.9 100.9C765.6 102.3 767.1 105.7 767.8 106.7" fill="none" stroke="#d8d9b0" stroke-width="0.7" stroke-linecap="round"/>
<path d="M939.0 123.7C940.0 123.1 942.8 120.9 945.0 120.2C947.1 119.4 949.7 120.1 951.9 119.4C954.1 118.7 956.0 116.9 958.1 116.2C960.3 115.5 962.8 115.7 965.1 115.4C967.4 115.1 969.7 114.5 972.0 114.4C974.3 114.2 976.8 114.8 979.0 114.3C981.3 113.9 984.4 112.1 985.5 111.7" fill="none" stroke="#4f7282" stroke-width="1.8" stroke-linecap="round" stroke-linejoin="round"/><path d="M939.0 123.7C940.0 123.1 942.8 120.9 945.0 120.2C947.1 119.4 949.7 120.1 951.9 119.4C954.1 118.7 956.0 116.9 958.1 116.2C960.3 115.5 962.8 115.7 965.1 115.4C967.4 115.1 969.7 114.5 972.0 114.4C974.3 114.2 976.8 114.8 979.0 114.3C981.3 113.9 984.4 112.1 985.5 111.7" fill="none" stroke="#9fc2d3" stroke-width="0.7" stroke-linecap="round"/>
<path d="M916.9 55.2C917.5 54.2 919.2 49.0 920.2 49.1C921.2 49.1 922.2 53.3 922.7 55.6C923.3 57.8 923.3 60.2 923.3 62.6C923.3 64.9 922.8 68.4 922.6 69.5" fill="none" stroke="#9a9a9a" stroke-width="1.8" stroke-linecap="round" stroke-linejoin="round"/><path d="M916.9 55.2C917.5 54.2 919.2 49.0 920.2 49.1C921.2 49.1 922.2 53.3 922.7 55.6C923.3 57.8 923.3 60.2 923.3 62.6C923.3 64.9 922.8 68.4 922.6 69.5" fill="none" stroke="#e6e6e6" stroke-width="0.7" stroke-linecap="round"/>
<path d="M880.8 69.8C880.5 70.9 879.3 74.2 878.9 76.5C878.4 78.8 878.6 81.2 878.3 83.5C878.0 85.8 877.1 88.1 877.1 90.4C877.1 92.6 878.1 96.1 878.3 97.2" fill="none" stroke="#85866a" stroke-width="1.8" stroke-linecap="round" stroke-linejoin="round"/><path d="M880.8 69.8C880.5 70.9 879.3 74.2 878.9 76.5C878.4 78.8 878.6 81.2 878.3 83.5C878.0 85.8 877.1 88.1 877.1 90.4C877.1 92.6 878.1 96.1 878.3 97.2" fill="none" stroke="#d8d9b0" stroke-width="0.7" stroke-linecap="round"/>
<path d="M966.8 115.0C966.3 113.9 965.2 110.6 964.3 108.4C963.3 106.3 962.1 104.3 961.1 102.2C960.1 100.1 958.6 98.0 958.2 95.8C957.9 93.6 959.3 91.1 959.0 88.8C958.6 86.6 957.5 84.4 956.3 82.4C955.1 80.4 953.0 79.0 951.8 77.0C950.6 75.0 949.6 71.6 949.2 70.5" fill="none" stroke="#9a9a9a" stroke-width="1.8" stroke-linecap="round" stroke-linejoin="round"/><path d="M966.8 115.0C966.3 113.9 965.2 110.6 964.3 108.4C963.3 106.3 962.1 104.3 961.1 102.2C960.1 100.1 958.6 98.0 958.2 95.8C957.9 93.6 959.3 91.1 959.0 88.8C958.6 86.6 957.5 84.4 956.3 82.4C955.1 80.4 953.0 79.0 951.8 77.0C950.6 75.0 949.6 71.6 949.2 70.5" fill="none" stroke="#e6e6e6" stroke-width="0.7" stroke-linecap="round"/>
<path d="M914.8 52.3C914.4 51.2 912.0 45.8 912.3 45.7C912.5 45.6 915.1 49.5 916.2 51.5C917.2 53.6 917.5 56.1 918.7 58.0C919.9 60.0 922.3 61.3 923.3 63.3C924.3 65.4 923.7 68.2 924.7 70.2C925.7 72.2 927.7 73.8 929.4 75.4C931.1 77.0 934.0 79.0 934.9 79.8" fill="none" stroke="#9a9a9a" stroke-width="1.8" stroke-linecap="round" stroke-linejoin="round"/><path d="M914.8 52.3C914.4 51.2 912.0 45.8 912.3 45.7C912.5 45.6 915.1 49.5 916.2 51.5C917.2 53.6 917.5 56.1 918.7 58.0C919.9 60.0 922.3 61.3 923.3 63.3C924.3 65.4 923.7 68.2 924.7 70.2C925.7 72.2 927.7 73.8 929.4 75.4C931.1 77.0 934.0 79.0 934.9 79.8" fill="none" stroke="#e6e6e6" stroke-width="0.7" stroke-linecap="round"/>
<path d="M930.8 52.7C929.9 52.0 927.1 49.7 925.1 48.6C923.1 47.5 920.9 46.2 918.6 45.9C916.4 45.7 914.0 46.7 911.8 47.3C909.5 47.8 907.3 49.2 905.1 49.3C902.8 49.4 900.5 47.9 898.2 47.9C896.0 47.9 892.5 49.2 891.4 49.5" fill="none" stroke="#9a9a9a" stroke-width="1.8" stroke-linecap="round" stroke-linejoin="round"/><path d="M930.8 52.7C929.9 52.0 927.1 49.7 925.1 48.6C923.1 47.5 920.9 46.2 918.6 45.9C916.4 45.7 914.0 46.7 911.8 47.3C909.5 47.8 907.3 49.2 905.1 49.3C902.8 49.4 900.5 47.9 898.2 47.9C896.0 47.9 892.5 49.2 891.4 49.5" fill="none" stroke="#e6e6e6" stroke-width="0.7" stroke-linecap="round"/>
<path d="M887.0 50.7C887.5 49.7 889.3 44.6 890.4 44.6C891.5 44.7 893.2 48.7 893.7 50.8C894.1 53.0 893.6 55.6 893.0 57.8C892.4 60.0 890.9 62.0 890.1 64.2C889.2 66.4 888.2 69.7 887.9 70.8" fill="none" stroke="#4f7282" stroke-width="1.8" stroke-linecap="round" stroke-linejoin="round"/><path d="M887.0 50.7C887.5 49.7 889.3 44.6 890.4 44.6C891.5 44.7 893.2 48.7 893.7 50.8C894.1 53.0 893.6 55.6 893.0 57.8C892.4 60.0 890.9 62.0 890.1 64.2C889.2 66.4 888.2 69.7 887.9 70.8" fill="none" stroke="#9fc2d3" stroke-width="0.7" stroke-linecap="round"/>
<path d="M889.2 103.4C889.0 104.6 888.9 108.3 887.8 110.3C886.8 112.3 882.6 114.8 882.9 115.3C883.2 115.7 887.7 114.3 889.6 113.0C891.4 111.7 892.8 109.5 893.9 107.5C894.9 105.5 894.6 102.6 895.8 100.8C897.1 98.9 900.4 97.1 901.3 96.3" fill="none" stroke="#9a9a9a" stroke-width="1.8" stroke-linecap="round" stroke-linejoin="round"/><path d="M889.2 103.4C889.0 104.6 888.9 108.3 887.8 110.3C886.8 112.3 882.6 114.8 882.9 115.3C883.2 115.7 887.7 114.3 889.6 113.0C891.4 111.7 892.8 109.5 893.9 107.5C894.9 105.5 894.6 102.6 895.8 100.8C897.1 98.9 900.4 97.1 901.3 96.3" fill="none" stroke="#e6e6e6" stroke-width="0.7" stroke-linecap="round"/>
<path d="M910.2 154.8C909.8 155.9 909.3 160.5 907.8 161.4C906.2 162.2 901.7 161.3 900.9 160.0C900.1 158.7 902.5 155.6 903.1 153.4C903.6 151.1 903.7 148.7 904.2 146.5C904.8 144.2 906.2 142.0 906.3 139.8C906.5 137.5 905.5 134.0 905.4 132.9" fill="none" stroke="#9a9a9a" stroke-width="1.8" stroke-linecap="round" stroke-linejoin="round"/><path d="M910.2 154.8C909.8 155.9 909.3 160.5 907.8 161.4C906.2 162.2 901.7 161.3 900.9 160.0C900.1 158.7 902.5 155.6 903.1 153.4C903.6 151.1 903.7 148.7 904.2 146.5C904.8 144.2 906.2 142.0 906.3 139.8C906.5 137.5 905.5 134.0 905.4 132.9" fill="none" stroke="#e6e6e6" stroke-width="0.7" stroke-linecap="round"/>
<path d="M943.6 125.9C944.5 125.1 947.4 123.1 949.0 121.5C950.6 119.8 952.2 117.9 953.3 115.9C954.4 113.9 954.7 111.4 955.6 109.3C956.5 107.2 957.4 104.9 958.7 103.0C960.0 101.1 962.6 98.7 963.4 97.8" fill="none" stroke="#85866a" stroke-width="1.8" stroke-linecap="round" stroke-linejoin="round"/><path d="M943.6 125.9C944.5 125.1 947.4 123.1 949.0 121.5C950.6 119.8 952.2 117.9 953.3 115.9C954.4 113.9 954.7 111.4 955.6 109.3C956.5 107.2 957.4 104.9 958.7 103.0C960.0 101.1 962.6 98.7 963.4 97.8" fill="none" stroke="#d8d9b0" stroke-width="0.7" stroke-linecap="round"/>
<path d="M981.4 179.3C981.1 178.2 980.1 174.8 979.3 172.6C978.5 170.5 977.9 168.0 976.5 166.2C975.2 164.4 973.2 162.7 971.1 161.8C969.1 160.8 966.2 161.7 964.2 160.8C962.1 159.9 960.8 157.5 958.8 156.3C956.8 155.2 954.3 154.9 952.3 153.8C950.3 152.6 947.6 150.4 946.6 149.7" fill="none" stroke="#4f7282" stroke-width="1.8" stroke-linecap="round" stroke-linejoin="round"/><path d="M981.4 179.3C981.1 178.2 980.1 174.8 979.3 172.6C978.5 170.5 977.9 168.0 976.5 166.2C975.2 164.4 973.2 162.7 971.1 161.8C969.1 160.8 966.2 161.7 964.2 160.8C962.1 159.9 960.8 157.5 958.8 156.3C956.8 155.2 954.3 154.9 952.3 153.8C950.3 152.6 947.6 150.4 946.6 149.7" fill="none" stroke="#9fc2d3" stroke-width="0.7" stroke-linecap="round"/>
<path d="M934.3 174.1C933.2 174.6 929.2 177.8 928.0 177.1C926.8 176.5 927.8 172.4 927.2 170.2C926.5 168.0 925.1 166.0 924.2 163.8C923.3 161.7 922.0 159.6 921.6 157.3C921.3 155.1 921.7 152.6 922.0 150.3C922.3 148.0 923.2 145.8 923.3 143.4C923.5 141.1 922.4 138.7 922.8 136.5C923.2 134.2 925.3 131.2 925.7 130.1" fill="none" stroke="#85866a" stroke-width="1.8" stroke-linecap="round" stroke-linejoin="round"/><path d="M934.3 174.1C933.2 174.6 929.2 177.8 928.0 177.1C926.8 176.5 927.8 172.4 927.2 170.2C926.5 168.0 925.1 166.0 924.2 163.8C923.3 161.7 922.0 159.6 921.6 157.3C921.3 155.1 921.7 152.6 922.0 150.3C922.3 148.0 923.2 145.8 923.3 143.4C923.5 141.1 922.4 138.7 922.8 136.5C923.2 134.2 925.3 131.2 925.7 130.1" fill="none" stroke="#d8d9b0" stroke-width="0.7" stroke-linecap="round"/>
<path d="M932.9 78.4C934.0 78.5 937.5 78.9 939.8 79.3C942.1 79.7 944.4 80.8 946.7 80.8C948.9 80.9 951.3 80.0 953.5 79.3C955.7 78.6 957.7 77.0 960.0 76.7C962.2 76.3 964.9 76.5 966.9 77.3C969.0 78.1 971.6 80.8 972.5 81.6" fill="none" stroke="#9a9a9a" stroke-width="1.8" stroke-linecap="round" stroke-linejoin="round"/><path d="M932.9 78.4C934.0 78.5 937.5 78.9 939.8 79.3C942.1 79.7 944.4 80.8 946.7 80.8C948.9 80.9 951.3 80.0 953.5 79.3C955.7 78.6 957.7 77.0 960.0 76.7C962.2 76.3 964.9 76.5 966.9 77.3C969.0 78.1 971.6 80.8 972.5 81.6" fill="none" stroke="#e6e6e6" stroke-width="0.7" stroke-linecap="round"/>
<path d="M980.5 118.2C981.2 117.3 984.0 114.8 984.9 112.8C985.7 110.7 984.8 107.9 985.6 105.8C986.3 103.7 988.0 101.7 989.5 100.0C991.0 98.2 992.7 96.3 994.7 95.3C996.7 94.3 1000.9 93.2 1001.5 94.0C1002.2 94.9 999.5 98.2 998.5 100.3C997.5 102.4 996.9 104.8 995.6 106.7C994.4 108.7 991.9 111.2 991.1 112.1" fill="none" stroke="#4f7282" stroke-width="1.8" stroke-linecap="round" stroke-linejoin="round"/><path d="M980.5 118.2C981.2 117.3 984.0 114.8 984.9 112.8C985.7 110.7 984.8 107.9 985.6 105.8C986.3 103.7 988.0 101.7 989.5 100.0C991.0 98.2 992.7 96.3 994.7 95.3C996.7 94.3 1000.9 93.2 1001.5 94.0C1002.2 94.9 999.5 98.2 998.5 100.3C997.5 102.4 996.9 104.8 995.6 106.7C994.4 108.7 991.9 111.2 991.1 112.1" fill="none" stroke="#9fc2d3" stroke-width="0.7" stroke-linecap="round"/>
<path d="M892.2 52.6C891.1 52.6 885.3 52.3 885.2 52.6C885.2 53.0 889.8 53.8 891.9 54.7C894.0 55.7 896.2 56.9 897.9 58.4C899.6 59.9 901.3 61.8 902.2 63.9C903.2 65.9 902.8 68.5 903.4 70.7C904.1 73.0 905.5 76.2 905.9 77.3" fill="none" stroke="#9a9a9a" stroke-width="1.8" stroke-linecap="round" stroke-linejoin="round"/><path d="M892.2 52.6C891.1 52.6 885.3 52.3 885.2 52.6C885.2 53.0 889.8 53.8 891.9 54.7C894.0 55.7 896.2 56.9 897.9 58.4C899.6 59.9 901.3 61.8 902.2 63.9C903.2 65.9 902.8 68.5 903.4 70.7C904.1 73.0 905.5 76.2 905.9 77.3" fill="none" stroke="#e6e6e6" stroke-width="0.7" stroke-linecap="round"/>
<path d="M942.0 53.3C941.4 54.3 939.5 57.3 938.0 59.1C936.5 60.9 934.7 62.3 933.2 64.1C931.7 65.9 930.5 68.0 929.1 69.8C927.6 71.6 925.2 74.2 924.5 75.0" fill="none" stroke="#9a9a9a" stroke-width="1.8" stroke-linecap="round" stroke-linejoin="round"/><path d="M942.0 53.3C941.4 54.3 939.5 57.3 938.0 59.1C936.5 60.9 934.7 62.3 933.2 64.1C931.7 65.9 930.5 68.0 929.1 69.8C927.6 71.6 925.2 74.2 924.5 75.0" fill="none" stroke="#e6e6e6" stroke-width="0.7" stroke-linecap="round"/><path d="M605.9 74.1C607.3 75.3 613.6 79.3 614.5 81.0C615.3 82.8 610.2 83.3 611.0 84.5C611.9 85.6 616.8 86.2 619.7 87.9C622.5 89.7 626.6 92.0 628.3 94.8C630.0 97.7 631.1 101.7 630.0 105.2C628.9 108.6 620.8 113.8 621.4 115.5C622.0 117.2 629.7 114.4 633.4 115.5C637.2 116.7 642.1 121.3 643.8 122.4" fill="none" stroke="#979797" stroke-width="1.6" stroke-linecap="round" stroke-linejoin="round"/><path d="M605.9 74.1C607.3 75.3 613.6 79.3 614.5 81.0C615.3 82.8 610.2 83.3 611.0 84.5C611.9 85.6 616.8 86.2 619.7 87.9C622.5 89.7 626.6 92.0 628.3 94.8C630.0 97.7 631.1 101.7 630.0 105.2C628.9 108.6 620.8 113.8 621.4 115.5C622.0 117.2 629.7 114.4 633.4 115.5C637.2 116.7 642.1 121.3 643.8 122.4" fill="none" stroke="#cbcbcb" stroke-width="0.5" stroke-linecap="round"/>
<path d="M550.7 62.1C551.8 62.4 556.1 62.9 557.6 63.8C559.0 64.7 558.2 66.1 559.3 67.2C560.5 68.4 563.0 70.7 564.5 70.7C565.9 70.7 567.4 67.8 567.9 67.2" fill="none" stroke="#979797" stroke-width="1.6" stroke-linecap="round" stroke-linejoin="round"/><path d="M550.7 62.1C551.8 62.4 556.1 62.9 557.6 63.8C559.0 64.7 558.2 66.1 559.3 67.2C560.5 68.4 563.0 70.7 564.5 70.7C565.9 70.7 567.4 67.8 567.9 67.2" fill="none" stroke="#cbcbcb" stroke-width="0.5" stroke-linecap="round"/>
<path d="M533.4 72.4C534.0 73.9 535.7 78.7 536.9 81.0C538.0 83.3 539.8 85.3 540.3 86.2" fill="none" stroke="#979797" stroke-width="1.6" stroke-linecap="round" stroke-linejoin="round"/><path d="M533.4 72.4C534.0 73.9 535.7 78.7 536.9 81.0C538.0 83.3 539.8 85.3 540.3 86.2" fill="none" stroke="#cbcbcb" stroke-width="0.5" stroke-linecap="round"/>
<path d="M540.3 86.2C539.2 86.8 534.9 88.2 533.4 89.7C532.0 91.1 531.1 93.4 531.7 94.8C532.3 96.3 535.2 98.6 536.9 98.3C538.6 98.0 541.2 94.0 542.1 93.1" fill="none" stroke="#979797" stroke-width="1.6" stroke-linecap="round" stroke-linejoin="round"/><path d="M540.3 86.2C539.2 86.8 534.9 88.2 533.4 89.7C532.0 91.1 531.1 93.4 531.7 94.8C532.3 96.3 535.2 98.6 536.9 98.3C538.6 98.0 541.2 94.0 542.1 93.1" fill="none" stroke="#cbcbcb" stroke-width="0.5" stroke-linecap="round"/>
<path d="M611.0 101.7C612.2 102.6 617.9 105.5 617.9 106.9C617.9 108.3 613.6 109.6 611.0 110.3C608.4 111.1 603.9 111.1 602.4 111.2" fill="none" stroke="#979797" stroke-width="1.6" stroke-linecap="round" stroke-linejoin="round"/><path d="M611.0 101.7C612.2 102.6 617.9 105.5 617.9 106.9C617.9 108.3 613.6 109.6 611.0 110.3C608.4 111.1 603.9 111.1 602.4 111.2" fill="none" stroke="#cbcbcb" stroke-width="0.5" stroke-linecap="round"/>
<path d="M542.1 129.3C542.9 127.6 544.9 121.3 547.2 119.0C549.5 116.7 554.4 116.1 555.9 115.5" fill="none" stroke="#979797" stroke-width="1.6" stroke-linecap="round" stroke-linejoin="round"/><path d="M542.1 129.3C542.9 127.6 544.9 121.3 547.2 119.0C549.5 116.7 554.4 116.1 555.9 115.5" fill="none" stroke="#cbcbcb" stroke-width="0.5" stroke-linecap="round"/>
<path d="M561.0 63.8C561.3 64.9 562.8 68.4 562.8 70.7C562.8 73.0 560.7 75.3 561.0 77.6C561.3 79.9 563.9 83.3 564.5 84.5" fill="none" stroke="#979797" stroke-width="1.6" stroke-linecap="round" stroke-linejoin="round"/><path d="M561.0 63.8C561.3 64.9 562.8 68.4 562.8 70.7C562.8 73.0 560.7 75.3 561.0 77.6C561.3 79.9 563.9 83.3 564.5 84.5" fill="none" stroke="#cbcbcb" stroke-width="0.5" stroke-linecap="round"/>
<path d="M569.7 66.4C569.1 67.4 566.5 70.1 566.2 72.4C565.9 74.7 567.6 78.9 567.9 80.2" fill="none" stroke="#979797" stroke-width="1.6" stroke-linecap="round" stroke-linejoin="round"/><path d="M569.7 66.4C569.1 67.4 566.5 70.1 566.2 72.4C565.9 74.7 567.6 78.9 567.9 80.2" fill="none" stroke="#cbcbcb" stroke-width="0.5" stroke-linecap="round"/>
<path d="M602.4 91.4C603.9 91.7 609.3 91.7 611.0 93.1C612.8 94.5 612.5 98.9 612.8 100.0" fill="none" stroke="#979797" stroke-width="1.6" stroke-linecap="round" stroke-linejoin="round"/><path d="M602.4 91.4C603.9 91.7 609.3 91.7 611.0 93.1C612.8 94.5 612.5 98.9 612.8 100.0" fill="none" stroke="#cbcbcb" stroke-width="0.5" stroke-linecap="round"/>
<path d="M578.3 103.4C578.0 104.6 576.0 108.3 576.6 110.3C577.1 112.4 580.9 114.7 581.7 115.5" fill="none" stroke="#979797" stroke-width="1.6" stroke-linecap="round" stroke-linejoin="round"/><path d="M578.3 103.4C578.0 104.6 576.0 108.3 576.6 110.3C577.1 112.4 580.9 114.7 581.7 115.5" fill="none" stroke="#cbcbcb" stroke-width="0.5" stroke-linecap="round"/>
<path d="M581.7 115.5C583.2 114.7 588.0 111.5 590.3 110.3C592.6 109.2 594.7 108.9 595.5 108.6" fill="none" stroke="#979797" stroke-width="1.6" stroke-linecap="round" stroke-linejoin="round"/><path d="M581.7 115.5C583.2 114.7 588.0 111.5 590.3 110.3C592.6 109.2 594.7 108.9 595.5 108.6" fill="none" stroke="#cbcbcb" stroke-width="0.5" stroke-linecap="round"/>
<path d="M540.3 86.2C545.8 86.6 561.3 86.2 573.1 88.8C584.9 91.4 604.7 99.6 611.0 101.7" fill="none" stroke="#8c8c8c" stroke-width="4.9" stroke-linecap="butt" stroke-linejoin="round"/><path d="M540.3 86.2C545.8 86.6 561.3 86.2 573.1 88.8C584.9 91.4 604.7 99.6 611.0 101.7" fill="none" stroke="#a9a9a9" stroke-width="3.8" stroke-linecap="butt" stroke-linejoin="round"/>
<path d="M581.7 91.4C578.9 93.7 569.1 100.0 564.5 105.2C559.9 110.3 555.9 119.5 554.1 122.4" fill="none" stroke="#8c8c8c" stroke-width="4.7" stroke-linecap="butt" stroke-linejoin="round"/><path d="M581.7 91.4C578.9 93.7 569.1 100.0 564.5 105.2C559.9 110.3 555.9 119.5 554.1 122.4" fill="none" stroke="#a9a9a9" stroke-width="3.6" stroke-linecap="butt" stroke-linejoin="round"/><path d="M554.2 115.7L553.4 123.7L560.0 119.2Z" fill="#a9a9a9" stroke="#8c8c8c" stroke-width="0.8" stroke-linejoin="round"/>
<path d="M592.1 96.6C588.9 98.9 578.6 104.9 573.1 110.3C567.6 115.8 561.6 126.1 559.3 129.3" fill="none" stroke="#8c8c8c" stroke-width="4.9" stroke-linecap="butt" stroke-linejoin="round"/><path d="M592.1 96.6C588.9 98.9 578.6 104.9 573.1 110.3C567.6 115.8 561.6 126.1 559.3 129.3" fill="none" stroke="#a9a9a9" stroke-width="3.8" stroke-linecap="butt" stroke-linejoin="round"/>
<path d="M586.9 101.7C585.2 104.6 579.4 114.4 576.6 119.0C573.7 123.6 570.8 127.6 569.7 129.3" fill="none" stroke="#8c8c8c" stroke-width="4.7" stroke-linecap="butt" stroke-linejoin="round"/><path d="M586.9 101.7C585.2 104.6 579.4 114.4 576.6 119.0C573.7 123.6 570.8 127.6 569.7 129.3" fill="none" stroke="#a9a9a9" stroke-width="3.6" stroke-linecap="butt" stroke-linejoin="round"/>
<path d="M597.2 101.7C594.7 104.0 584.9 110.9 581.7 115.5C578.6 120.1 578.9 127.0 578.3 129.3" fill="none" stroke="#8c8c8c" stroke-width="4.7" stroke-linecap="butt" stroke-linejoin="round"/><path d="M597.2 101.7C594.7 104.0 584.9 110.9 581.7 115.5C578.6 120.1 578.9 127.0 578.3 129.3" fill="none" stroke="#a9a9a9" stroke-width="3.6" stroke-linecap="butt" stroke-linejoin="round"/>
<path d="M568.8 67.2C570.9 67.1 576.1 66.1 581.7 66.4C587.3 66.7 598.4 67.7 602.4 69.0C606.4 70.3 605.3 73.3 605.9 74.1" fill="none" stroke="#8c8c8c" stroke-width="4.9" stroke-linecap="butt" stroke-linejoin="round"/><path d="M568.8 67.2C570.9 67.1 576.1 66.1 581.7 66.4C587.3 66.7 598.4 67.7 602.4 69.0C606.4 70.3 605.3 73.3 605.9 74.1" fill="none" stroke="#a9a9a9" stroke-width="3.8" stroke-linecap="butt" stroke-linejoin="round"/>
<path d="M569.7 74.1C572.5 74.4 581.7 74.9 586.9 75.9C592.1 76.9 598.4 79.5 600.7 80.2" fill="none" stroke="#8c8c8c" stroke-width="4.9" stroke-linecap="butt" stroke-linejoin="round"/><path d="M569.7 74.1C572.5 74.4 581.7 74.9 586.9 75.9C592.1 76.9 598.4 79.5 600.7 80.2" fill="none" stroke="#a9a9a9" stroke-width="3.8" stroke-linecap="butt" stroke-linejoin="round"/>
<path d="M567.9 80.2C570.2 80.9 576.0 83.3 581.7 84.5C587.5 85.6 599.0 86.6 602.4 87.1" fill="none" stroke="#8c8c8c" stroke-width="5.2" stroke-linecap="butt" stroke-linejoin="round"/><path d="M567.9 80.2C570.2 80.9 576.0 83.3 581.7 84.5C587.5 85.6 599.0 86.6 602.4 87.1" fill="none" stroke="#a9a9a9" stroke-width="4.0" stroke-linecap="butt" stroke-linejoin="round"/>
<path d="M586.9 86.2C588.9 87.1 595.8 90.5 599.0 91.4C602.1 92.2 604.7 91.4 605.9 91.4" fill="none" stroke="#8c8c8c" stroke-width="4.7" stroke-linecap="butt" stroke-linejoin="round"/><path d="M586.9 86.2C588.9 87.1 595.8 90.5 599.0 91.4C602.1 92.2 604.7 91.4 605.9 91.4" fill="none" stroke="#a9a9a9" stroke-width="3.6" stroke-linecap="butt" stroke-linejoin="round"/>
<path d="M550.7 89.7C554.4 90.5 565.1 93.4 573.1 94.8C581.1 96.3 594.7 97.7 599.0 98.3" fill="none" stroke="#8c8c8c" stroke-width="4.5" stroke-linecap="butt" stroke-linejoin="round"/><path d="M550.7 89.7C554.4 90.5 565.1 93.4 573.1 94.8C581.1 96.3 594.7 97.7 599.0 98.3" fill="none" stroke="#a9a9a9" stroke-width="3.4" stroke-linecap="butt" stroke-linejoin="round"/>
<path d="M590.3 113.8L605.9 111.2" fill="none" stroke="#8c8c8c" stroke-width="4.3" stroke-linecap="butt" stroke-linejoin="round"/><path d="M590.3 113.8L605.9 111.2" fill="none" stroke="#a9a9a9" stroke-width="3.2" stroke-linecap="butt" stroke-linejoin="round"/><path d="M601.3 115.1L607.3 111.0L600.2 109.0Z" fill="#a9a9a9" stroke="#8c8c8c" stroke-width="0.8" stroke-linejoin="round"/>
<path d="M542.1 60.3C542.9 60.6 545.8 60.9 547.2 62.1C548.7 63.2 550.1 66.4 550.7 67.2" fill="none" stroke="#8c8c8c" stroke-width="5.2" stroke-linecap="butt" stroke-linejoin="round"/><path d="M542.1 60.3C542.9 60.6 545.8 60.9 547.2 62.1C548.7 63.2 550.1 66.4 550.7 67.2" fill="none" stroke="#a9a9a9" stroke-width="4.0" stroke-linecap="butt" stroke-linejoin="round"/>
<path d="M533.4 72.4C534.6 72.1 537.8 71.0 540.3 70.7C542.9 70.4 547.5 70.7 549.0 70.7" fill="none" stroke="#8c8c8c" stroke-width="5.2" stroke-linecap="butt" stroke-linejoin="round"/><path d="M533.4 72.4C534.6 72.1 537.8 71.0 540.3 70.7C542.9 70.4 547.5 70.7 549.0 70.7" fill="none" stroke="#a9a9a9" stroke-width="4.0" stroke-linecap="butt" stroke-linejoin="round"/>
<path d="M554.1 79.3C555.0 79.6 557.6 80.6 559.3 81.0C561.0 81.5 563.6 81.8 564.5 81.9" fill="none" stroke="#8c8c8c" stroke-width="4.7" stroke-linecap="butt" stroke-linejoin="round"/><path d="M554.1 79.3C555.0 79.6 557.6 80.6 559.3 81.0C561.0 81.5 563.6 81.8 564.5 81.9" fill="none" stroke="#a9a9a9" stroke-width="3.6" stroke-linecap="butt" stroke-linejoin="round"/>
<path d="M599.0 67.2C599.5 68.1 601.3 71.0 602.4 72.4C603.6 73.9 605.3 75.3 605.9 75.9" fill="none" stroke="#8c8c8c" stroke-width="4.7" stroke-linecap="butt" stroke-linejoin="round"/><path d="M599.0 67.2C599.5 68.1 601.3 71.0 602.4 72.4C603.6 73.9 605.3 75.3 605.9 75.9" fill="none" stroke="#a9a9a9" stroke-width="3.6" stroke-linecap="butt" stroke-linejoin="round"/>
<path d="M536.9 137.2C538.0 137.0 541.5 135.2 543.8 135.5C546.1 135.8 547.8 138.4 550.7 139.0C553.6 139.5 558.7 139.5 561.0 139.0C563.3 138.4 563.9 136.1 564.5 135.5" fill="none" stroke="#979797" stroke-width="1.6" stroke-linecap="round" stroke-linejoin="round"/><path d="M536.9 137.2C538.0 137.0 541.5 135.2 543.8 135.5C546.1 135.8 547.8 138.4 550.7 139.0C553.6 139.5 558.7 139.5 561.0 139.0C563.3 138.4 563.9 136.1 564.5 135.5" fill="none" stroke="#cbcbcb" stroke-width="0.5" stroke-linecap="round"/>
<path d="M540.3 151.0C540.1 152.8 537.5 158.8 538.6 161.4C539.8 164.0 544.4 165.1 547.2 166.6C550.1 168.0 554.4 169.4 555.9 170.0" fill="none" stroke="#979797" stroke-width="1.6" stroke-linecap="round" stroke-linejoin="round"/><path d="M540.3 151.0C540.1 152.8 537.5 158.8 538.6 161.4C539.8 164.0 544.4 165.1 547.2 166.6C550.1 168.0 554.4 169.4 555.9 170.0" fill="none" stroke="#cbcbcb" stroke-width="0.5" stroke-linecap="round"/>
<path d="M555.9 170.0C556.4 170.9 559.3 174.0 559.3 175.2C559.3 176.3 556.4 176.6 555.9 176.9" fill="none" stroke="#979797" stroke-width="1.6" stroke-linecap="round" stroke-linejoin="round"/><path d="M555.9 170.0C556.4 170.9 559.3 174.0 559.3 175.2C559.3 176.3 556.4 176.6 555.9 176.9" fill="none" stroke="#cbcbcb" stroke-width="0.5" stroke-linecap="round"/>
<path d="M578.3 137.2C578.9 136.4 580.0 133.2 581.7 132.1C583.4 130.9 587.2 128.9 588.6 130.3C590.1 131.8 589.5 137.5 590.3 140.7C591.2 143.9 593.2 147.9 593.8 149.3" fill="none" stroke="#979797" stroke-width="1.6" stroke-linecap="round" stroke-linejoin="round"/><path d="M578.3 137.2C578.9 136.4 580.0 133.2 581.7 132.1C583.4 130.9 587.2 128.9 588.6 130.3C590.1 131.8 589.5 137.5 590.3 140.7C591.2 143.9 593.2 147.9 593.8 149.3" fill="none" stroke="#cbcbcb" stroke-width="0.5" stroke-linecap="round"/>
<path d="M593.8 139.0C594.4 138.1 595.5 134.4 597.2 133.8C599.0 133.2 602.1 134.4 604.1 135.5C606.1 136.7 608.4 139.8 609.3 140.7" fill="none" stroke="#979797" stroke-width="1.6" stroke-linecap="round" stroke-linejoin="round"/><path d="M593.8 139.0C594.4 138.1 595.5 134.4 597.2 133.8C599.0 133.2 602.1 134.4 604.1 135.5C606.1 136.7 608.4 139.8 609.3 140.7" fill="none" stroke="#cbcbcb" stroke-width="0.5" stroke-linecap="round"/>
<path d="M599.0 171.7C600.4 173.2 605.6 178.0 607.6 180.3C609.6 182.6 609.0 184.1 611.0 185.5C613.0 187.0 618.5 187.2 619.7 189.0C620.8 190.7 618.2 194.7 617.9 195.9" fill="none" stroke="#979797" stroke-width="1.6" stroke-linecap="round" stroke-linejoin="round"/><path d="M599.0 171.7C600.4 173.2 605.6 178.0 607.6 180.3C609.6 182.6 609.0 184.1 611.0 185.5C613.0 187.0 618.5 187.2 619.7 189.0C620.8 190.7 618.2 194.7 617.9 195.9" fill="none" stroke="#cbcbcb" stroke-width="0.5" stroke-linecap="round"/>
<path d="M566.2 176.9C566.8 178.3 567.9 182.4 569.7 185.5C571.4 188.7 575.4 194.1 576.6 195.9" fill="none" stroke="#979797" stroke-width="1.6" stroke-linecap="round" stroke-linejoin="round"/><path d="M566.2 176.9C566.8 178.3 567.9 182.4 569.7 185.5C571.4 188.7 575.4 194.1 576.6 195.9" fill="none" stroke="#cbcbcb" stroke-width="0.5" stroke-linecap="round"/>
<path d="M595.5 192.4L600.7 199.3" fill="none" stroke="#979797" stroke-width="1.6" stroke-linecap="round" stroke-linejoin="round"/><path d="M595.5 192.4L600.7 199.3" fill="none" stroke="#cbcbcb" stroke-width="0.5" stroke-linecap="round"/>
<path d="M636.9 120.0L645.5 125.2" fill="none" stroke="#979797" stroke-width="1.6" stroke-linecap="round" stroke-linejoin="round"/><path d="M636.9 120.0L645.5 125.2" fill="none" stroke="#cbcbcb" stroke-width="0.5" stroke-linecap="round"/>
<path d="M640.3 145.9C641.5 146.4 645.8 147.9 647.2 149.3C648.7 150.7 649.8 153.0 649.0 154.5C648.1 155.9 643.2 157.4 642.1 157.9" fill="none" stroke="#979797" stroke-width="1.6" stroke-linecap="round" stroke-linejoin="round"/><path d="M640.3 145.9C641.5 146.4 645.8 147.9 647.2 149.3C648.7 150.7 649.8 153.0 649.0 154.5C648.1 155.9 643.2 157.4 642.1 157.9" fill="none" stroke="#cbcbcb" stroke-width="0.5" stroke-linecap="round"/>
<path d="M633.4 170.0C635.2 170.3 641.2 170.6 643.8 171.7C646.4 172.9 648.1 176.0 649.0 176.9" fill="none" stroke="#979797" stroke-width="1.6" stroke-linecap="round" stroke-linejoin="round"/><path d="M633.4 170.0C635.2 170.3 641.2 170.6 643.8 171.7C646.4 172.9 648.1 176.0 649.0 176.9" fill="none" stroke="#cbcbcb" stroke-width="0.5" stroke-linecap="round"/>
<path d="M569.7 166.6C570.5 165.7 572.8 162.0 574.8 161.4C576.8 160.8 580.6 162.8 581.7 163.1" fill="none" stroke="#979797" stroke-width="1.6" stroke-linecap="round" stroke-linejoin="round"/><path d="M569.7 166.6C570.5 165.7 572.8 162.0 574.8 161.4C576.8 160.8 580.6 162.8 581.7 163.1" fill="none" stroke="#cbcbcb" stroke-width="0.5" stroke-linecap="round"/>
<path d="M612.8 130.3C613.6 129.2 616.5 125.2 617.9 123.4C619.4 121.7 620.8 120.6 621.4 120.0" fill="none" stroke="#979797" stroke-width="1.6" stroke-linecap="round" stroke-linejoin="round"/><path d="M612.8 130.3C613.6 129.2 616.5 125.2 617.9 123.4C619.4 121.7 620.8 120.6 621.4 120.0" fill="none" stroke="#cbcbcb" stroke-width="0.5" stroke-linecap="round"/>
<path d="M547.2 154.5L540.3 151.0" fill="none" stroke="#979797" stroke-width="1.6" stroke-linecap="round" stroke-linejoin="round"/><path d="M547.2 154.5L540.3 151.0" fill="none" stroke="#cbcbcb" stroke-width="0.5" stroke-linecap="round"/>
<path d="M602.4 176.9C603.9 176.0 608.7 171.7 611.0 171.7C613.3 171.7 614.5 175.2 616.2 176.9C617.9 178.6 620.5 181.2 621.4 182.1" fill="none" stroke="#979797" stroke-width="1.6" stroke-linecap="round" stroke-linejoin="round"/><path d="M602.4 176.9C603.9 176.0 608.7 171.7 611.0 171.7C613.3 171.7 614.5 175.2 616.2 176.9C617.9 178.6 620.5 181.2 621.4 182.1" fill="none" stroke="#cbcbcb" stroke-width="0.5" stroke-linecap="round"/>
<path d="M578.3 189.0C579.7 189.5 584.6 190.7 586.9 192.4C589.2 194.1 591.2 198.2 592.1 199.3" fill="none" stroke="#979797" stroke-width="1.6" stroke-linecap="round" stroke-linejoin="round"/><path d="M578.3 189.0C579.7 189.5 584.6 190.7 586.9 192.4C589.2 194.1 591.2 198.2 592.1 199.3" fill="none" stroke="#cbcbcb" stroke-width="0.5" stroke-linecap="round"/>
<path d="M549.0 145.9C550.1 145.6 553.9 144.4 555.9 144.1C557.9 143.9 559.6 143.3 561.0 144.1C562.5 145.0 563.9 148.4 564.5 149.3" fill="none" stroke="#8c8c8c" stroke-width="5.6" stroke-linecap="butt" stroke-linejoin="round"/><path d="M549.0 145.9C550.1 145.6 553.9 144.4 555.9 144.1C557.9 143.9 559.6 143.3 561.0 144.1C562.5 145.0 563.9 148.4 564.5 149.3" fill="none" stroke="#a9a9a9" stroke-width="4.5" stroke-linecap="butt" stroke-linejoin="round"/>
<path d="M547.2 154.5C551.6 154.8 567.1 155.1 573.1 156.2C579.1 157.4 581.7 160.5 583.4 161.4" fill="none" stroke="#8c8c8c" stroke-width="4.7" stroke-linecap="butt" stroke-linejoin="round"/><path d="M547.2 154.5C551.6 154.8 567.1 155.1 573.1 156.2C579.1 157.4 581.7 160.5 583.4 161.4" fill="none" stroke="#a9a9a9" stroke-width="3.6" stroke-linecap="butt" stroke-linejoin="round"/><path d="M576.8 161.9L584.8 162.1L579.8 155.7Z" fill="#a9a9a9" stroke="#8c8c8c" stroke-width="0.8" stroke-linejoin="round"/>
<path d="M566.2 147.6C568.2 148.7 574.8 152.5 578.3 154.5C581.7 156.5 585.5 158.8 586.9 159.7" fill="none" stroke="#8c8c8c" stroke-width="4.2" stroke-linecap="butt" stroke-linejoin="round"/><path d="M566.2 147.6C568.2 148.7 574.8 152.5 578.3 154.5C581.7 156.5 585.5 158.8 586.9 159.7" fill="none" stroke="#a9a9a9" stroke-width="3.1" stroke-linecap="butt" stroke-linejoin="round"/>
<path d="M585.2 149.3C585.5 151.9 586.3 159.7 586.9 164.8C587.5 170.0 588.3 177.8 588.6 180.3" fill="none" stroke="#8c8c8c" stroke-width="4.2" stroke-linecap="butt" stroke-linejoin="round"/><path d="M585.2 149.3C585.5 151.9 586.3 159.7 586.9 164.8C587.5 170.0 588.3 177.8 588.6 180.3" fill="none" stroke="#a9a9a9" stroke-width="3.1" stroke-linecap="butt" stroke-linejoin="round"/><path d="M585.1 175.7L588.8 181.8L591.0 175.0Z" fill="#a9a9a9" stroke="#8c8c8c" stroke-width="0.8" stroke-linejoin="round"/>
<path d="M592.1 151.0L586.9 161.4" fill="none" stroke="#8c8c8c" stroke-width="3.8" stroke-linecap="butt" stroke-linejoin="round"/><path d="M592.1 151.0L586.9 161.4" fill="none" stroke="#a9a9a9" stroke-width="2.7" stroke-linecap="butt" stroke-linejoin="round"/>
<path d="M555.9 170.0C559.6 171.4 572.2 176.0 578.3 178.6C584.3 181.2 589.8 184.4 592.1 185.5" fill="none" stroke="#8c8c8c" stroke-width="4.7" stroke-linecap="butt" stroke-linejoin="round"/><path d="M555.9 170.0C559.6 171.4 572.2 176.0 578.3 178.6C584.3 181.2 589.8 184.4 592.1 185.5" fill="none" stroke="#a9a9a9" stroke-width="3.6" stroke-linecap="butt" stroke-linejoin="round"/>
<path d="M564.5 171.7C567.4 173.4 578.0 179.2 581.7 182.1C585.5 184.9 586.0 187.8 586.9 189.0" fill="none" stroke="#8c8c8c" stroke-width="4.7" stroke-linecap="butt" stroke-linejoin="round"/><path d="M564.5 171.7C567.4 173.4 578.0 179.2 581.7 182.1C585.5 184.9 586.0 187.8 586.9 189.0" fill="none" stroke="#a9a9a9" stroke-width="3.6" stroke-linecap="butt" stroke-linejoin="round"/>
<path d="M602.4 154.5L604.1 166.6" fill="none" stroke="#8c8c8c" stroke-width="4.7" stroke-linecap="butt" stroke-linejoin="round"/><path d="M602.4 154.5L604.1 166.6" fill="none" stroke="#a9a9a9" stroke-width="3.6" stroke-linecap="butt" stroke-linejoin="round"/>
<path d="M612.8 147.6L614.5 170.0" fill="none" stroke="#8c8c8c" stroke-width="4.7" stroke-linecap="butt" stroke-linejoin="round"/><path d="M612.8 147.6L614.5 170.0" fill="none" stroke="#a9a9a9" stroke-width="3.6" stroke-linecap="butt" stroke-linejoin="round"/><path d="M610.6 164.5L614.6 171.5L617.5 164.0Z" fill="#a9a9a9" stroke="#8c8c8c" stroke-width="0.8" stroke-linejoin="round"/>
<path d="M636.9 128.6L621.4 147.6" fill="none" stroke="#8c8c8c" stroke-width="4.9" stroke-linecap="butt" stroke-linejoin="round"/><path d="M636.9 128.6L621.4 147.6" fill="none" stroke="#a9a9a9" stroke-width="3.8" stroke-linecap="butt" stroke-linejoin="round"/>
<path d="M616.2 140.7L609.3 144.1" fill="none" stroke="#8c8c8c" stroke-width="4.2" stroke-linecap="butt" stroke-linejoin="round"/><path d="M616.2 140.7L609.3 144.1" fill="none" stroke="#a9a9a9" stroke-width="3.1" stroke-linecap="butt" stroke-linejoin="round"/>
<path d="M619.7 130.3L624.8 135.5" fill="none" stroke="#8c8c8c" stroke-width="5.2" stroke-linecap="butt" stroke-linejoin="round"/><path d="M619.7 130.3L624.8 135.5" fill="none" stroke="#a9a9a9" stroke-width="4.0" stroke-linecap="butt" stroke-linejoin="round"/>
<path d="M628.3 157.9L640.3 159.7" fill="none" stroke="#8c8c8c" stroke-width="4.7" stroke-linecap="butt" stroke-linejoin="round"/><path d="M628.3 157.9L640.3 159.7" fill="none" stroke="#a9a9a9" stroke-width="3.6" stroke-linecap="butt" stroke-linejoin="round"/>
<path d="M638.6 139.0L636.9 147.6" fill="none" stroke="#8c8c8c" stroke-width="4.2" stroke-linecap="butt" stroke-linejoin="round"/><path d="M638.6 139.0L636.9 147.6" fill="none" stroke="#a9a9a9" stroke-width="3.1" stroke-linecap="butt" stroke-linejoin="round"/>
<path d="M626.6 166.6C627.7 166.0 632.0 162.2 633.4 163.1C634.9 164.0 636.0 169.4 635.2 171.7C634.3 174.0 630.0 176.9 628.3 176.9C626.6 176.9 624.5 173.4 624.8 171.7C625.1 170.0 629.1 167.4 630.0 166.6" fill="none" stroke="#979797" stroke-width="2.4" stroke-linecap="round" stroke-linejoin="round"/><path d="M626.6 166.6C627.7 166.0 632.0 162.2 633.4 163.1C634.9 164.0 636.0 169.4 635.2 171.7C634.3 174.0 630.0 176.9 628.3 176.9C626.6 176.9 624.5 173.4 624.8 171.7C625.1 170.0 629.1 167.4 630.0 166.6" fill="none" stroke="#cbcbcb" stroke-width="1.3" stroke-linecap="round"/>
<path d="M605.9 161.4C607.6 161.1 612.2 159.4 616.2 159.7C620.2 159.9 627.7 162.5 630.0 163.1" fill="none" stroke="#8c8c8c" stroke-width="4.2" stroke-linecap="butt" stroke-linejoin="round"/><path d="M605.9 161.4C607.6 161.1 612.2 159.4 616.2 159.7C620.2 159.9 627.7 162.5 630.0 163.1" fill="none" stroke="#a9a9a9" stroke-width="3.1" stroke-linecap="butt" stroke-linejoin="round"/>
<path d="M545.5 126.9C547.8 126.3 554.4 124.3 559.3 123.4C564.2 122.6 572.2 122.0 574.8 121.7" fill="none" stroke="#8c8c8c" stroke-width="4.7" stroke-linecap="butt" stroke-linejoin="round"/><path d="M545.5 126.9C547.8 126.3 554.4 124.3 559.3 123.4C564.2 122.6 572.2 122.0 574.8 121.7" fill="none" stroke="#a9a9a9" stroke-width="3.6" stroke-linecap="butt" stroke-linejoin="round"/>
<path d="M569.7 120.0L573.1 130.3" fill="none" stroke="#8c8c8c" stroke-width="4.7" stroke-linecap="butt" stroke-linejoin="round"/><path d="M569.7 120.0L573.1 130.3" fill="none" stroke="#a9a9a9" stroke-width="3.6" stroke-linecap="butt" stroke-linejoin="round"/><path d="M627.1 188.8C627.6 189.4 628.2 191.7 630.5 192.2C632.8 192.8 638.3 192.8 640.9 192.2C643.4 191.7 645.2 189.4 646.0 188.8" fill="none" stroke="#7a4746" stroke-width="2.4" stroke-linecap="round" stroke-linejoin="round"/><path d="M627.1 188.8C627.6 189.4 628.2 191.7 630.5 192.2C632.8 192.8 638.3 192.8 640.9 192.2C643.4 191.7 645.2 189.4 646.0 188.8" fill="none" stroke="#e9a4a2" stroke-width="1.3" stroke-linecap="round"/>
<path d="M627.1 185.3C627.6 185.1 628.8 183.9 630.5 183.6C632.2 183.3 636.3 183.6 637.4 183.6" fill="none" stroke="#7a4746" stroke-width="2.4" stroke-linecap="round" stroke-linejoin="round"/><path d="M627.1 185.3C627.6 185.1 628.8 183.9 630.5 183.6C632.2 183.3 636.3 183.6 637.4 183.6" fill="none" stroke="#e9a4a2" stroke-width="1.3" stroke-linecap="round"/>
<path d="M630.5 206.0C632.0 205.5 636.3 202.6 639.1 202.6C642.0 202.6 645.2 204.9 647.8 206.0C650.3 207.2 653.5 208.9 654.7 209.5" fill="none" stroke="#7a4746" stroke-width="2.4" stroke-linecap="round" stroke-linejoin="round"/><path d="M630.5 206.0C632.0 205.5 636.3 202.6 639.1 202.6C642.0 202.6 645.2 204.9 647.8 206.0C650.3 207.2 653.5 208.9 654.7 209.5" fill="none" stroke="#e9a4a2" stroke-width="1.3" stroke-linecap="round"/>
<path d="M611.6 216.4C611.8 217.2 613.9 220.1 613.3 221.6C612.7 223.0 608.4 223.6 608.1 225.0C607.8 226.4 609.5 228.7 611.6 230.2C613.6 231.6 618.7 233.0 620.2 233.6" fill="none" stroke="#7a4746" stroke-width="2.4" stroke-linecap="round" stroke-linejoin="round"/><path d="M611.6 216.4C611.8 217.2 613.9 220.1 613.3 221.6C612.7 223.0 608.4 223.6 608.1 225.0C607.8 226.4 609.5 228.7 611.6 230.2C613.6 231.6 618.7 233.0 620.2 233.6" fill="none" stroke="#e9a4a2" stroke-width="1.3" stroke-linecap="round"/>
<path d="M596.0 226.7C597.2 226.1 602.1 222.1 602.9 223.3C603.8 224.4 600.6 229.6 601.2 233.6C601.8 237.6 605.5 245.1 606.4 247.4" fill="none" stroke="#7a4746" stroke-width="2.4" stroke-linecap="round" stroke-linejoin="round"/><path d="M596.0 226.7C597.2 226.1 602.1 222.1 602.9 223.3C603.8 224.4 600.6 229.6 601.2 233.6C601.8 237.6 605.5 245.1 606.4 247.4" fill="none" stroke="#e9a4a2" stroke-width="1.3" stroke-linecap="round"/>
<path d="M578.8 240.5C579.4 241.7 582.0 245.0 582.2 247.4C582.5 249.8 580.8 253.7 580.5 255.0" fill="none" stroke="#7a4746" stroke-width="2.4" stroke-linecap="round" stroke-linejoin="round"/><path d="M578.8 240.5C579.4 241.7 582.0 245.0 582.2 247.4C582.5 249.8 580.8 253.7 580.5 255.0" fill="none" stroke="#e9a4a2" stroke-width="1.3" stroke-linecap="round"/>
<path d="M585.7 255.0L587.4 247.4" fill="none" stroke="#7a4746" stroke-width="2.4" stroke-linecap="round" stroke-linejoin="round"/><path d="M585.7 255.0L587.4 247.4" fill="none" stroke="#e9a4a2" stroke-width="1.3" stroke-linecap="round"/>
<path d="M621.9 218.1C622.5 217.2 623.3 213.5 625.3 212.9C627.4 212.4 631.1 213.5 634.0 214.7C636.8 215.8 640.3 217.8 642.6 219.8C644.9 221.8 646.9 225.6 647.8 226.7" fill="none" stroke="#7a4746" stroke-width="2.4" stroke-linecap="round" stroke-linejoin="round"/><path d="M621.9 218.1C622.5 217.2 623.3 213.5 625.3 212.9C627.4 212.4 631.1 213.5 634.0 214.7C636.8 215.8 640.3 217.8 642.6 219.8C644.9 221.8 646.9 225.6 647.8 226.7" fill="none" stroke="#e9a4a2" stroke-width="1.3" stroke-linecap="round"/>
<path d="M637.4 221.6C638.0 222.4 641.4 225.3 640.9 226.7C640.3 228.2 636.6 229.9 634.0 230.2C631.4 230.5 626.8 228.7 625.3 228.4" fill="none" stroke="#7a4746" stroke-width="2.4" stroke-linecap="round" stroke-linejoin="round"/><path d="M637.4 221.6C638.0 222.4 641.4 225.3 640.9 226.7C640.3 228.2 636.6 229.9 634.0 230.2C631.4 230.5 626.8 228.7 625.3 228.4" fill="none" stroke="#e9a4a2" stroke-width="1.3" stroke-linecap="round"/>
<path d="M654.7 209.5C655.2 210.6 657.8 213.8 658.1 216.4C658.4 219.0 656.7 223.6 656.4 225.0" fill="none" stroke="#7a4746" stroke-width="2.4" stroke-linecap="round" stroke-linejoin="round"/><path d="M654.7 209.5C655.2 210.6 657.8 213.8 658.1 216.4C658.4 219.0 656.7 223.6 656.4 225.0" fill="none" stroke="#e9a4a2" stroke-width="1.3" stroke-linecap="round"/>
<path d="M665.0 209.5C666.1 210.1 670.2 211.5 671.9 212.9C673.6 214.4 674.8 217.2 675.3 218.1" fill="none" stroke="#7a4746" stroke-width="2.4" stroke-linecap="round" stroke-linejoin="round"/><path d="M665.0 209.5C666.1 210.1 670.2 211.5 671.9 212.9C673.6 214.4 674.8 217.2 675.3 218.1" fill="none" stroke="#e9a4a2" stroke-width="1.3" stroke-linecap="round"/>
<path d="M634.0 204.3C634.3 205.5 634.3 209.5 635.7 211.2C637.1 212.9 641.4 214.1 642.6 214.7" fill="none" stroke="#7a4746" stroke-width="2.4" stroke-linecap="round" stroke-linejoin="round"/><path d="M634.0 204.3C634.3 205.5 634.3 209.5 635.7 211.2C637.1 212.9 641.4 214.1 642.6 214.7" fill="none" stroke="#e9a4a2" stroke-width="1.3" stroke-linecap="round"/>
<path d="M642.6 182.8C644.0 182.9 648.6 182.9 651.2 183.6C653.8 184.3 656.7 185.6 658.1 187.1C659.5 188.5 659.5 191.4 659.8 192.2" fill="none" stroke="#70403f" stroke-width="6.1" stroke-linecap="butt" stroke-linejoin="round"/><path d="M642.6 182.8C644.0 182.9 648.6 182.9 651.2 183.6C653.8 184.3 656.7 185.6 658.1 187.1C659.5 188.5 659.5 191.4 659.8 192.2" fill="none" stroke="#ec9d9b" stroke-width="5.0" stroke-linecap="butt" stroke-linejoin="round"/>
<path d="M652.9 197.4C654.4 198.3 659.5 200.6 661.6 202.6C663.6 204.6 664.4 208.3 665.0 209.5" fill="none" stroke="#6a3e3e" stroke-width="6.5" stroke-linecap="butt" stroke-linejoin="round"/><path d="M652.9 197.4C654.4 198.3 659.5 200.6 661.6 202.6C663.6 204.6 664.4 208.3 665.0 209.5" fill="none" stroke="#bb8e8d" stroke-width="5.4" stroke-linecap="butt" stroke-linejoin="round"/>
<path d="M604.7 231.9C605.5 233.9 607.0 240.8 609.8 244.0C612.7 247.1 619.9 249.7 621.9 250.9" fill="none" stroke="#6a3e3e" stroke-width="4.7" stroke-linecap="butt" stroke-linejoin="round"/><path d="M604.7 231.9C605.5 233.9 607.0 240.8 609.8 244.0C612.7 247.1 619.9 249.7 621.9 250.9" fill="none" stroke="#bb8e8d" stroke-width="3.6" stroke-linecap="butt" stroke-linejoin="round"/>
<path d="M596.0 228.4C596.6 231.0 597.5 239.9 599.5 244.0C601.5 248.0 606.7 251.1 608.1 252.6" fill="none" stroke="#70403f" stroke-width="4.9" stroke-linecap="butt" stroke-linejoin="round"/><path d="M596.0 228.4C596.6 231.0 597.5 239.9 599.5 244.0C601.5 248.0 606.7 251.1 608.1 252.6" fill="none" stroke="#ec9d9b" stroke-width="3.8" stroke-linecap="butt" stroke-linejoin="round"/>
<path d="M658.1 225.0C659.8 226.1 665.0 230.2 668.4 231.9C671.9 233.6 677.1 234.8 678.8 235.3" fill="none" stroke="#70403f" stroke-width="5.1" stroke-linecap="butt" stroke-linejoin="round"/><path d="M658.1 225.0C659.8 226.1 665.0 230.2 668.4 231.9C671.9 233.6 677.1 234.8 678.8 235.3" fill="none" stroke="#ec9d9b" stroke-width="4.0" stroke-linecap="butt" stroke-linejoin="round"/><path d="M671.6 236.9L680.2 235.8L674.0 229.8Z" fill="#ec9d9b" stroke="#70403f" stroke-width="0.8" stroke-linejoin="round"/>
<path d="M654.7 228.4C655.8 230.5 659.8 237.4 661.6 240.5C663.3 243.7 664.4 246.3 665.0 247.4" fill="none" stroke="#70403f" stroke-width="5.1" stroke-linecap="butt" stroke-linejoin="round"/><path d="M654.7 228.4C655.8 230.5 659.8 237.4 661.6 240.5C663.3 243.7 664.4 246.3 665.0 247.4" fill="none" stroke="#ec9d9b" stroke-width="4.0" stroke-linecap="butt" stroke-linejoin="round"/>
<path d="M677.1 218.1C677.9 219.5 681.1 223.9 682.2 226.7C683.4 229.6 683.7 233.9 684.0 235.3" fill="none" stroke="#70403f" stroke-width="5.1" stroke-linecap="butt" stroke-linejoin="round"/><path d="M677.1 218.1C677.9 219.5 681.1 223.9 682.2 226.7C683.4 229.6 683.7 233.9 684.0 235.3" fill="none" stroke="#ec9d9b" stroke-width="4.0" stroke-linecap="butt" stroke-linejoin="round"/>
<path d="M668.4 216.4C669.6 218.1 673.0 222.1 675.3 226.7C677.6 231.3 681.1 241.1 682.2 244.0" fill="none" stroke="#70403f" stroke-width="5.1" stroke-linecap="butt" stroke-linejoin="round"/><path d="M668.4 216.4C669.6 218.1 673.0 222.1 675.3 226.7C677.6 231.3 681.1 241.1 682.2 244.0" fill="none" stroke="#ec9d9b" stroke-width="4.0" stroke-linecap="butt" stroke-linejoin="round"/>
<path d="M616.7 233.6C619.0 233.9 626.8 234.5 630.5 235.3C634.3 236.2 637.7 238.2 639.1 238.8" fill="none" stroke="#6a3e3e" stroke-width="4.5" stroke-linecap="butt" stroke-linejoin="round"/><path d="M616.7 233.6C619.0 233.9 626.8 234.5 630.5 235.3C634.3 236.2 637.7 238.2 639.1 238.8" fill="none" stroke="#bb8e8d" stroke-width="3.4" stroke-linecap="butt" stroke-linejoin="round"/>
<path d="M621.9 216.4C623.3 216.7 627.9 217.2 630.5 218.1C633.1 219.0 636.3 221.0 637.4 221.6" fill="none" stroke="#6a3e3e" stroke-width="4.5" stroke-linecap="butt" stroke-linejoin="round"/><path d="M621.9 216.4C623.3 216.7 627.9 217.2 630.5 218.1C633.1 219.0 636.3 221.0 637.4 221.6" fill="none" stroke="#bb8e8d" stroke-width="3.4" stroke-linecap="butt" stroke-linejoin="round"/>
<path d="M659.8 240.5C661.8 239.1 667.9 234.8 671.9 231.9C675.9 229.0 682.0 224.7 684.0 223.3" fill="none" stroke="#70403f" stroke-width="5.1" stroke-linecap="butt" stroke-linejoin="round"/><path d="M659.8 240.5C661.8 239.1 667.9 234.8 671.9 231.9C675.9 229.0 682.0 224.7 684.0 223.3" fill="none" stroke="#ec9d9b" stroke-width="4.0" stroke-linecap="butt" stroke-linejoin="round"/>
<path d="M640.9 244.0C642.6 243.4 647.8 241.4 651.2 240.5C654.7 239.7 659.8 239.1 661.6 238.8" fill="none" stroke="#70403f" stroke-width="4.7" stroke-linecap="butt" stroke-linejoin="round"/><path d="M640.9 244.0C642.6 243.4 647.8 241.4 651.2 240.5C654.7 239.7 659.8 239.1 661.6 238.8" fill="none" stroke="#ec9d9b" stroke-width="3.6" stroke-linecap="butt" stroke-linejoin="round"/>
<path d="M675.3 202.6L684.0 200.9" fill="none" stroke="#70403f" stroke-width="5.6" stroke-linecap="butt" stroke-linejoin="round"/><path d="M675.3 202.6L684.0 200.9" fill="none" stroke="#ec9d9b" stroke-width="4.5" stroke-linecap="butt" stroke-linejoin="round"/>
<path d="M578.8 242.1C579.4 241.8 582.0 239.2 582.2 240.3C582.5 241.5 579.7 246.7 580.5 249.0C581.4 251.3 584.8 252.7 587.4 254.1C590.0 255.6 594.6 257.0 596.0 257.6" fill="none" stroke="#7a4746" stroke-width="2.4" stroke-linecap="round" stroke-linejoin="round"/><path d="M578.8 242.1C579.4 241.8 582.0 239.2 582.2 240.3C582.5 241.5 579.7 246.7 580.5 249.0C581.4 251.3 584.8 252.7 587.4 254.1C590.0 255.6 594.6 257.0 596.0 257.6" fill="none" stroke="#e9a4a2" stroke-width="1.3" stroke-linecap="round"/>
<path d="M570.2 264.5C570.5 263.3 571.0 259.0 571.9 257.6C572.8 256.1 574.2 255.3 575.3 255.9C576.5 256.4 577.1 259.3 578.8 261.0C580.5 262.8 583.1 265.3 585.7 266.2C588.3 267.1 592.9 266.2 594.3 266.2" fill="none" stroke="#7a4746" stroke-width="2.4" stroke-linecap="round" stroke-linejoin="round"/><path d="M570.2 264.5C570.5 263.3 571.0 259.0 571.9 257.6C572.8 256.1 574.2 255.3 575.3 255.9C576.5 256.4 577.1 259.3 578.8 261.0C580.5 262.8 583.1 265.3 585.7 266.2C588.3 267.1 592.9 266.2 594.3 266.2" fill="none" stroke="#e9a4a2" stroke-width="1.3" stroke-linecap="round"/>
<path d="M597.8 290.3C598.6 291.5 600.6 296.4 602.9 297.2C605.2 298.1 608.4 296.4 611.6 295.5C614.7 294.7 620.2 292.6 621.9 292.1" fill="none" stroke="#7a4746" stroke-width="2.4" stroke-linecap="round" stroke-linejoin="round"/><path d="M597.8 290.3C598.6 291.5 600.6 296.4 602.9 297.2C605.2 298.1 608.4 296.4 611.6 295.5C614.7 294.7 620.2 292.6 621.9 292.1" fill="none" stroke="#e9a4a2" stroke-width="1.3" stroke-linecap="round"/>
<path d="M651.2 295.5C652.4 296.7 655.8 301.8 658.1 302.4C660.4 303.0 663.3 301.3 665.0 299.0C666.7 296.7 667.9 290.3 668.4 288.6" fill="none" stroke="#7a4746" stroke-width="2.4" stroke-linecap="round" stroke-linejoin="round"/><path d="M651.2 295.5C652.4 296.7 655.8 301.8 658.1 302.4C660.4 303.0 663.3 301.3 665.0 299.0C666.7 296.7 667.9 290.3 668.4 288.6" fill="none" stroke="#e9a4a2" stroke-width="1.3" stroke-linecap="round"/>
<path d="M627.1 295.5C628.8 296.4 634.3 300.1 637.4 300.7C640.6 301.3 644.6 299.3 646.0 299.0" fill="none" stroke="#7a4746" stroke-width="2.4" stroke-linecap="round" stroke-linejoin="round"/><path d="M627.1 295.5C628.8 296.4 634.3 300.1 637.4 300.7C640.6 301.3 644.6 299.3 646.0 299.0" fill="none" stroke="#e9a4a2" stroke-width="1.3" stroke-linecap="round"/>
<path d="M585.7 252.4L594.3 255.9" fill="none" stroke="#7a4746" stroke-width="2.4" stroke-linecap="round" stroke-linejoin="round"/><path d="M585.7 252.4L594.3 255.9" fill="none" stroke="#e9a4a2" stroke-width="1.3" stroke-linecap="round"/>
<path d="M671.9 285.2C673.0 284.6 676.8 283.4 678.8 281.7C680.8 280.0 683.1 276.0 684.0 274.8" fill="none" stroke="#7a4746" stroke-width="2.4" stroke-linecap="round" stroke-linejoin="round"/><path d="M671.9 285.2C673.0 284.6 676.8 283.4 678.8 281.7C680.8 280.0 683.1 276.0 684.0 274.8" fill="none" stroke="#e9a4a2" stroke-width="1.3" stroke-linecap="round"/>
<path d="M596.0 269.7C596.3 271.1 596.0 276.3 597.8 278.3C599.5 280.3 604.9 281.1 606.4 281.7" fill="none" stroke="#7a4746" stroke-width="2.4" stroke-linecap="round" stroke-linejoin="round"/><path d="M596.0 269.7C596.3 271.1 596.0 276.3 597.8 278.3C599.5 280.3 604.9 281.1 606.4 281.7" fill="none" stroke="#e9a4a2" stroke-width="1.3" stroke-linecap="round"/>
<path d="M634.0 247.2C635.1 248.1 639.1 250.7 640.9 252.4C642.6 254.1 643.7 256.7 644.3 257.6" fill="none" stroke="#7a4746" stroke-width="2.4" stroke-linecap="round" stroke-linejoin="round"/><path d="M634.0 247.2C635.1 248.1 639.1 250.7 640.9 252.4C642.6 254.1 643.7 256.7 644.3 257.6" fill="none" stroke="#e9a4a2" stroke-width="1.3" stroke-linecap="round"/>
<path d="M642.6 240.3C644.0 240.9 649.2 242.6 651.2 243.8C653.2 244.9 654.1 246.7 654.7 247.2" fill="none" stroke="#7a4746" stroke-width="2.4" stroke-linecap="round" stroke-linejoin="round"/><path d="M642.6 240.3C644.0 240.9 649.2 242.6 651.2 243.8C653.2 244.9 654.1 246.7 654.7 247.2" fill="none" stroke="#e9a4a2" stroke-width="1.3" stroke-linecap="round"/>
<path d="M630.5 299.0C631.7 299.3 635.1 300.5 637.4 300.7C639.7 300.8 643.2 300.0 644.3 299.8" fill="none" stroke="#9a9a9a" stroke-width="1.8" stroke-linecap="round" stroke-linejoin="round"/><path d="M630.5 299.0C631.7 299.3 635.1 300.5 637.4 300.7C639.7 300.8 643.2 300.0 644.3 299.8" fill="none" stroke="#e6e6e6" stroke-width="0.7" stroke-linecap="round"/>
<path d="M594.3 230.0C594.3 232.3 593.4 239.5 594.3 243.8C595.2 248.1 597.5 252.7 599.5 255.9C601.5 259.0 605.2 261.6 606.4 262.8" fill="none" stroke="#70403f" stroke-width="5.2" stroke-linecap="butt" stroke-linejoin="round"/><path d="M594.3 230.0C594.3 232.3 593.4 239.5 594.3 243.8C595.2 248.1 597.5 252.7 599.5 255.9C601.5 259.0 605.2 261.6 606.4 262.8" fill="none" stroke="#ec9d9b" stroke-width="4.1" stroke-linecap="butt" stroke-linejoin="round"/>
<path d="M601.2 230.0C601.8 232.3 602.4 240.3 604.7 243.8C607.0 247.2 611.8 249.3 615.0 250.7C618.2 252.1 622.2 252.1 623.6 252.4" fill="none" stroke="#6a3e3e" stroke-width="4.9" stroke-linecap="butt" stroke-linejoin="round"/><path d="M601.2 230.0C601.8 232.3 602.4 240.3 604.7 243.8C607.0 247.2 611.8 249.3 615.0 250.7C618.2 252.1 622.2 252.1 623.6 252.4" fill="none" stroke="#bb8e8d" stroke-width="3.8" stroke-linecap="butt" stroke-linejoin="round"/>
<path d="M596.0 267.9C599.5 267.6 610.4 266.8 616.7 266.2C623.0 265.6 631.1 264.8 634.0 264.5" fill="none" stroke="#70403f" stroke-width="4.9" stroke-linecap="butt" stroke-linejoin="round"/><path d="M596.0 267.9C599.5 267.6 610.4 266.8 616.7 266.2C623.0 265.6 631.1 264.8 634.0 264.5" fill="none" stroke="#ec9d9b" stroke-width="3.8" stroke-linecap="butt" stroke-linejoin="round"/>
<path d="M616.7 255.9C619.6 255.9 628.2 255.3 634.0 255.9C639.7 256.4 648.3 258.7 651.2 259.3" fill="none" stroke="#70403f" stroke-width="4.7" stroke-linecap="butt" stroke-linejoin="round"/><path d="M616.7 255.9C619.6 255.9 628.2 255.3 634.0 255.9C639.7 256.4 648.3 258.7 651.2 259.3" fill="none" stroke="#ec9d9b" stroke-width="3.6" stroke-linecap="butt" stroke-linejoin="round"/>
<path d="M642.6 261.0C645.7 260.5 655.8 258.4 661.6 257.6C667.3 256.7 674.5 256.1 677.1 255.9" fill="none" stroke="#70403f" stroke-width="4.9" stroke-linecap="butt" stroke-linejoin="round"/><path d="M642.6 261.0C645.7 260.5 655.8 258.4 661.6 257.6C667.3 256.7 674.5 256.1 677.1 255.9" fill="none" stroke="#ec9d9b" stroke-width="3.8" stroke-linecap="butt" stroke-linejoin="round"/>
<path d="M599.5 269.7C602.4 270.5 610.4 273.4 616.7 274.8C623.0 276.3 631.1 277.4 637.4 278.3C643.7 279.1 651.8 279.7 654.7 280.0" fill="none" stroke="#6a3e3e" stroke-width="4.9" stroke-linecap="butt" stroke-linejoin="round"/><path d="M599.5 269.7C602.4 270.5 610.4 273.4 616.7 274.8C623.0 276.3 631.1 277.4 637.4 278.3C643.7 279.1 651.8 279.7 654.7 280.0" fill="none" stroke="#bb8e8d" stroke-width="3.8" stroke-linecap="butt" stroke-linejoin="round"/>
<path d="M604.7 276.6C607.5 277.1 616.1 279.1 621.9 280.0C627.6 280.9 633.4 281.1 639.1 281.7C644.9 282.3 653.5 283.2 656.4 283.4" fill="none" stroke="#6a3e3e" stroke-width="4.9" stroke-linecap="butt" stroke-linejoin="round"/><path d="M604.7 276.6C607.5 277.1 616.1 279.1 621.9 280.0C627.6 280.9 633.4 281.1 639.1 281.7C644.9 282.3 653.5 283.2 656.4 283.4" fill="none" stroke="#bb8e8d" stroke-width="3.8" stroke-linecap="butt" stroke-linejoin="round"/>
<path d="M616.7 288.6C619.6 288.6 627.1 288.9 634.0 288.6C640.9 288.3 652.1 287.5 658.1 286.9C664.1 286.3 668.2 285.5 670.2 285.2" fill="none" stroke="#6a3e3e" stroke-width="5.1" stroke-linecap="butt" stroke-linejoin="round"/><path d="M616.7 288.6C619.6 288.6 627.1 288.9 634.0 288.6C640.9 288.3 652.1 287.5 658.1 286.9C664.1 286.3 668.2 285.5 670.2 285.2" fill="none" stroke="#bb8e8d" stroke-width="4.0" stroke-linecap="butt" stroke-linejoin="round"/>
<path d="M623.6 292.1C626.8 292.1 635.7 292.6 642.6 292.1C649.5 291.5 661.3 289.2 665.0 288.6" fill="none" stroke="#6a3e3e" stroke-width="4.7" stroke-linecap="butt" stroke-linejoin="round"/><path d="M623.6 292.1C626.8 292.1 635.7 292.6 642.6 292.1C649.5 291.5 661.3 289.2 665.0 288.6" fill="none" stroke="#bb8e8d" stroke-width="3.6" stroke-linecap="butt" stroke-linejoin="round"/>
<path d="M654.7 269.7C656.4 268.2 661.3 263.9 665.0 261.0C668.7 258.2 675.1 253.9 677.1 252.4" fill="none" stroke="#70403f" stroke-width="4.9" stroke-linecap="butt" stroke-linejoin="round"/><path d="M654.7 269.7C656.4 268.2 661.3 263.9 665.0 261.0C668.7 258.2 675.1 253.9 677.1 252.4" fill="none" stroke="#ec9d9b" stroke-width="3.8" stroke-linecap="butt" stroke-linejoin="round"/>
<path d="M659.8 273.1C661.6 271.7 666.1 267.4 670.2 264.5C674.2 261.6 681.7 257.3 684.0 255.9" fill="none" stroke="#70403f" stroke-width="4.9" stroke-linecap="butt" stroke-linejoin="round"/><path d="M659.8 273.1C661.6 271.7 666.1 267.4 670.2 264.5C674.2 261.6 681.7 257.3 684.0 255.9" fill="none" stroke="#ec9d9b" stroke-width="3.8" stroke-linecap="butt" stroke-linejoin="round"/>
<path d="M666.7 278.3C668.2 276.6 672.8 271.4 675.3 267.9C677.9 264.5 681.1 259.3 682.2 257.6" fill="none" stroke="#70403f" stroke-width="4.9" stroke-linecap="butt" stroke-linejoin="round"/><path d="M666.7 278.3C668.2 276.6 672.8 271.4 675.3 267.9C677.9 264.5 681.1 259.3 682.2 257.6" fill="none" stroke="#ec9d9b" stroke-width="3.8" stroke-linecap="butt" stroke-linejoin="round"/>
<path d="M654.7 247.2C657.0 245.5 663.9 239.8 668.4 236.9C673.0 234.0 679.9 231.1 682.2 230.0" fill="none" stroke="#70403f" stroke-width="4.9" stroke-linecap="butt" stroke-linejoin="round"/><path d="M654.7 247.2C657.0 245.5 663.9 239.8 668.4 236.9C673.0 234.0 679.9 231.1 682.2 230.0" fill="none" stroke="#ec9d9b" stroke-width="3.8" stroke-linecap="butt" stroke-linejoin="round"/>
<path d="M663.3 240.3C664.7 239.5 668.4 236.9 671.9 235.2C675.3 233.4 682.0 230.9 684.0 230.0" fill="none" stroke="#70403f" stroke-width="4.7" stroke-linecap="butt" stroke-linejoin="round"/><path d="M663.3 240.3C664.7 239.5 668.4 236.9 671.9 235.2C675.3 233.4 682.0 230.9 684.0 230.0" fill="none" stroke="#ec9d9b" stroke-width="3.6" stroke-linecap="butt" stroke-linejoin="round"/>
<path d="M616.7 235.2C619.6 235.5 629.7 236.0 634.0 236.9C638.3 237.8 641.1 239.8 642.6 240.3" fill="none" stroke="#6a3e3e" stroke-width="4.7" stroke-linecap="butt" stroke-linejoin="round"/><path d="M616.7 235.2C619.6 235.5 629.7 236.0 634.0 236.9C638.3 237.8 641.1 239.8 642.6 240.3" fill="none" stroke="#bb8e8d" stroke-width="3.6" stroke-linecap="butt" stroke-linejoin="round"/><path d="M766.2 89.5C766.8 88.3 769.9 84.6 769.7 82.6C769.4 80.6 765.9 79.1 764.5 77.4C763.0 75.7 761.6 73.1 761.0 72.2" fill="none" stroke="#85866a" stroke-width="2.0" stroke-linecap="round" stroke-linejoin="round"/><path d="M766.2 89.5C766.8 88.3 769.9 84.6 769.7 82.6C769.4 80.6 765.9 79.1 764.5 77.4C763.0 75.7 761.6 73.1 761.0 72.2" fill="none" stroke="#d8d9b0" stroke-width="0.9" stroke-linecap="round"/>
<path d="M690.3 106.7C690.9 106.4 691.2 104.1 693.8 105.0C696.4 105.9 701.6 108.7 705.9 111.9C710.2 115.1 716.5 121.1 719.7 124.0C722.8 126.8 724.0 128.3 724.8 129.1" fill="none" stroke="#85866a" stroke-width="2.0" stroke-linecap="round" stroke-linejoin="round"/><path d="M690.3 106.7C690.9 106.4 691.2 104.1 693.8 105.0C696.4 105.9 701.6 108.7 705.9 111.9C710.2 115.1 716.5 121.1 719.7 124.0C722.8 126.8 724.0 128.3 724.8 129.1" fill="none" stroke="#d8d9b0" stroke-width="0.9" stroke-linecap="round"/>
<path d="M680.0 124.0C681.1 123.7 684.9 122.2 686.9 122.2C688.9 122.2 691.2 123.7 692.1 124.0" fill="none" stroke="#85866a" stroke-width="2.0" stroke-linecap="round" stroke-linejoin="round"/><path d="M680.0 124.0C681.1 123.7 684.9 122.2 686.9 122.2C688.9 122.2 691.2 123.7 692.1 124.0" fill="none" stroke="#d8d9b0" stroke-width="0.9" stroke-linecap="round"/>
<path d="M776.6 113.6C777.4 114.2 781.4 115.9 781.7 117.1C782.0 118.2 780.9 119.7 778.3 120.5C775.7 121.4 768.2 122.0 766.2 122.2" fill="none" stroke="#85866a" stroke-width="2.0" stroke-linecap="round" stroke-linejoin="round"/><path d="M776.6 113.6C777.4 114.2 781.4 115.9 781.7 117.1C782.0 118.2 780.9 119.7 778.3 120.5C775.7 121.4 768.2 122.0 766.2 122.2" fill="none" stroke="#d8d9b0" stroke-width="0.9" stroke-linecap="round"/>
<path d="M697.2 106.7C699.3 106.4 706.7 105.4 709.3 105.0C711.9 104.6 712.2 104.3 712.8 104.1" fill="none" stroke="#85866a" stroke-width="2.0" stroke-linecap="round" stroke-linejoin="round"/><path d="M697.2 106.7C699.3 106.4 706.7 105.4 709.3 105.0C711.9 104.6 712.2 104.3 712.8 104.1" fill="none" stroke="#d8d9b0" stroke-width="0.9" stroke-linecap="round"/>
<path d="M709.3 116.2C708.2 116.6 703.9 117.5 702.4 118.8C701.0 120.1 698.7 122.5 700.7 124.0C702.7 125.4 709.3 126.3 714.5 127.4C719.7 128.6 728.9 130.3 731.7 130.9" fill="none" stroke="#85866a" stroke-width="2.0" stroke-linecap="round" stroke-linejoin="round"/><path d="M709.3 116.2C708.2 116.6 703.9 117.5 702.4 118.8C701.0 120.1 698.7 122.5 700.7 124.0C702.7 125.4 709.3 126.3 714.5 127.4C719.7 128.6 728.9 130.3 731.7 130.9" fill="none" stroke="#d8d9b0" stroke-width="0.9" stroke-linecap="round"/>
<path d="M719.7 98.1C724.5 97.5 741.8 95.7 749.0 94.7C756.1 93.6 760.5 92.5 762.8 92.1" fill="none" stroke="#7c7d5c" stroke-width="4.3" stroke-linecap="butt" stroke-linejoin="round"/><path d="M719.7 98.1C724.5 97.5 741.8 95.7 749.0 94.7C756.1 93.6 760.5 92.5 762.8 92.1" fill="none" stroke="#d9dcab" stroke-width="3.2" stroke-linecap="butt" stroke-linejoin="round"/>
<path d="M712.8 104.1C717.4 103.9 730.9 102.3 740.3 102.4C749.8 102.6 764.8 104.6 769.7 105.0" fill="none" stroke="#7c7d5c" stroke-width="4.3" stroke-linecap="butt" stroke-linejoin="round"/><path d="M712.8 104.1C717.4 103.9 730.9 102.3 740.3 102.4C749.8 102.6 764.8 104.6 769.7 105.0" fill="none" stroke="#d9dcab" stroke-width="3.2" stroke-linecap="butt" stroke-linejoin="round"/>
<path d="M709.3 110.2C714.5 110.2 729.1 109.6 740.3 110.2C751.6 110.7 770.5 113.0 776.6 113.6" fill="none" stroke="#7c7d5c" stroke-width="4.3" stroke-linecap="butt" stroke-linejoin="round"/><path d="M709.3 110.2C714.5 110.2 729.1 109.6 740.3 110.2C751.6 110.7 770.5 113.0 776.6 113.6" fill="none" stroke="#d9dcab" stroke-width="3.2" stroke-linecap="butt" stroke-linejoin="round"/>
<path d="M709.3 116.2C714.2 116.2 726.8 116.4 738.6 116.2C750.4 116.1 773.1 115.5 780.0 115.3" fill="none" stroke="#7c7d5c" stroke-width="4.3" stroke-linecap="butt" stroke-linejoin="round"/><path d="M709.3 116.2C714.2 116.2 726.8 116.4 738.6 116.2C750.4 116.1 773.1 115.5 780.0 115.3" fill="none" stroke="#d9dcab" stroke-width="3.2" stroke-linecap="butt" stroke-linejoin="round"/><path d="M774.9 118.5L781.5 115.3L774.8 112.4Z" fill="#d9dcab" stroke="#7c7d5c" stroke-width="0.8" stroke-linejoin="round"/>
<path d="M719.7 121.4C724.5 121.2 739.5 121.1 749.0 120.5C758.4 119.9 772.0 118.4 776.6 117.9" fill="none" stroke="#7c7d5c" stroke-width="4.2" stroke-linecap="butt" stroke-linejoin="round"/><path d="M719.7 121.4C724.5 121.2 739.5 121.1 749.0 120.5C758.4 119.9 772.0 118.4 776.6 117.9" fill="none" stroke="#d9dcab" stroke-width="3.1" stroke-linecap="butt" stroke-linejoin="round"/>
<path d="M764.5 94.7C765.3 95.5 768.2 97.8 769.7 99.8C771.1 101.8 771.4 104.7 773.1 106.7C774.8 108.7 778.9 111.0 780.0 111.9" fill="none" stroke="#7c7d5c" stroke-width="5.6" stroke-linecap="butt" stroke-linejoin="round"/><path d="M764.5 94.7C765.3 95.5 768.2 97.8 769.7 99.8C771.1 101.8 771.4 104.7 773.1 106.7C774.8 108.7 778.9 111.0 780.0 111.9" fill="none" stroke="#d9dcab" stroke-width="4.5" stroke-linecap="butt" stroke-linejoin="round"/>
<path d="M757.6 99.8C758.7 99.5 762.5 98.7 764.5 98.1C766.5 97.5 768.8 96.7 769.7 96.4" fill="none" stroke="#7c7d5c" stroke-width="4.7" stroke-linecap="butt" stroke-linejoin="round"/><path d="M757.6 99.8C758.7 99.5 762.5 98.7 764.5 98.1C766.5 97.5 768.8 96.7 769.7 96.4" fill="none" stroke="#d9dcab" stroke-width="3.6" stroke-linecap="butt" stroke-linejoin="round"/>
<path d="M717.9 72.2C718.8 71.7 722.0 70.2 723.1 68.8C724.3 67.4 724.8 64.8 724.8 63.6C724.8 62.5 723.4 62.2 723.1 61.9" fill="none" stroke="#4f7282" stroke-width="2.0" stroke-linecap="round" stroke-linejoin="round"/><path d="M717.9 72.2C718.8 71.7 722.0 70.2 723.1 68.8C724.3 67.4 724.8 64.8 724.8 63.6C724.8 62.5 723.4 62.2 723.1 61.9" fill="none" stroke="#9fc2d3" stroke-width="0.9" stroke-linecap="round"/>
<path d="M724.8 70.5C726.3 70.2 731.7 69.9 733.4 68.8C735.2 67.6 735.5 64.8 735.2 63.6C734.9 62.5 732.6 61.3 731.7 61.9C730.9 62.5 729.1 65.6 730.0 67.1C730.9 68.5 734.0 69.7 736.9 70.5C739.8 71.4 745.2 70.8 747.2 72.2C749.3 73.7 749.0 77.1 749.0 79.1C749.0 81.1 747.5 83.4 747.2 84.3" fill="none" stroke="#4f7282" stroke-width="2.0" stroke-linecap="round" stroke-linejoin="round"/><path d="M724.8 70.5C726.3 70.2 731.7 69.9 733.4 68.8C735.2 67.6 735.5 64.8 735.2 63.6C734.9 62.5 732.6 61.3 731.7 61.9C730.9 62.5 729.1 65.6 730.0 67.1C730.9 68.5 734.0 69.7 736.9 70.5C739.8 71.4 745.2 70.8 747.2 72.2C749.3 73.7 749.0 77.1 749.0 79.1C749.0 81.1 747.5 83.4 747.2 84.3" fill="none" stroke="#9fc2d3" stroke-width="0.9" stroke-linecap="round"/>
<path d="M719.7 72.2L719.7 80.9" fill="none" stroke="#4f7282" stroke-width="2.0" stroke-linecap="round" stroke-linejoin="round"/><path d="M719.7 72.2L719.7 80.9" fill="none" stroke="#9fc2d3" stroke-width="0.9" stroke-linecap="round"/>
<path d="M762.8 71.4C761.9 72.4 759.9 76.6 757.6 77.4C755.3 78.3 750.4 76.7 749.0 76.6" fill="none" stroke="#4f7282" stroke-width="2.0" stroke-linecap="round" stroke-linejoin="round"/><path d="M762.8 71.4C761.9 72.4 759.9 76.6 757.6 77.4C755.3 78.3 750.4 76.7 749.0 76.6" fill="none" stroke="#9fc2d3" stroke-width="0.9" stroke-linecap="round"/>
<path d="M705.9 92.9C707.3 93.2 712.8 95.5 714.5 94.7C716.2 93.8 715.9 86.9 716.2 87.8C716.5 88.6 716.2 97.8 716.2 99.8" fill="none" stroke="#4f7282" stroke-width="2.0" stroke-linecap="round" stroke-linejoin="round"/><path d="M705.9 92.9C707.3 93.2 712.8 95.5 714.5 94.7C716.2 93.8 715.9 86.9 716.2 87.8C716.5 88.6 716.2 97.8 716.2 99.8" fill="none" stroke="#9fc2d3" stroke-width="0.9" stroke-linecap="round"/>
<path d="M731.7 79.1C732.0 80.3 732.9 84.9 733.4 86.0C734.0 87.2 734.9 86.0 735.2 86.0" fill="none" stroke="#4f7282" stroke-width="2.0" stroke-linecap="round" stroke-linejoin="round"/><path d="M731.7 79.1C732.0 80.3 732.9 84.9 733.4 86.0C734.0 87.2 734.9 86.0 735.2 86.0" fill="none" stroke="#9fc2d3" stroke-width="0.9" stroke-linecap="round"/>
<path d="M736.9 129.1C738.3 129.7 742.9 131.7 745.5 132.6C748.1 133.4 751.3 134.0 752.4 134.3" fill="none" stroke="#4f7282" stroke-width="2.0" stroke-linecap="round" stroke-linejoin="round"/><path d="M736.9 129.1C738.3 129.7 742.9 131.7 745.5 132.6C748.1 133.4 751.3 134.0 752.4 134.3" fill="none" stroke="#9fc2d3" stroke-width="0.9" stroke-linecap="round"/>
<path d="M719.7 80.9C720.5 83.7 723.1 92.4 724.8 98.1C726.6 103.9 729.1 112.5 730.0 115.3" fill="none" stroke="#456778" stroke-width="5.2" stroke-linecap="butt" stroke-linejoin="round"/><path d="M719.7 80.9C720.5 83.7 723.1 92.4 724.8 98.1C726.6 103.9 729.1 112.5 730.0 115.3" fill="none" stroke="#8fbad0" stroke-width="4.1" stroke-linecap="butt" stroke-linejoin="round"/><path d="M724.3 110.1L730.4 116.8L731.9 107.9Z" fill="#8fbad0" stroke="#456778" stroke-width="0.8" stroke-linejoin="round"/>
<path d="M716.2 99.8C716.8 101.6 718.2 107.0 719.7 110.2C721.1 113.3 724.0 117.4 724.8 118.8" fill="none" stroke="#456778" stroke-width="4.9" stroke-linecap="butt" stroke-linejoin="round"/><path d="M716.2 99.8C716.8 101.6 718.2 107.0 719.7 110.2C721.1 113.3 724.0 117.4 724.8 118.8" fill="none" stroke="#8fbad0" stroke-width="3.8" stroke-linecap="butt" stroke-linejoin="round"/>
<path d="M723.1 89.5C724.0 92.4 726.0 101.0 728.3 106.7C730.6 112.5 735.5 121.1 736.9 124.0" fill="none" stroke="#456778" stroke-width="4.7" stroke-linecap="butt" stroke-linejoin="round"/><path d="M723.1 89.5C724.0 92.4 726.0 101.0 728.3 106.7C730.6 112.5 735.5 121.1 736.9 124.0" fill="none" stroke="#8fbad0" stroke-width="3.6" stroke-linecap="butt" stroke-linejoin="round"/><path d="M731.3 120.3L737.6 125.3L737.4 117.3Z" fill="#8fbad0" stroke="#456778" stroke-width="0.8" stroke-linejoin="round"/>
<path d="M735.2 86.0C735.5 88.9 736.0 97.0 736.9 103.3C737.8 109.6 739.8 120.5 740.3 124.0" fill="none" stroke="#456778" stroke-width="5.2" stroke-linecap="butt" stroke-linejoin="round"/><path d="M735.2 86.0C735.5 88.9 736.0 97.0 736.9 103.3C737.8 109.6 739.8 120.5 740.3 124.0" fill="none" stroke="#8fbad0" stroke-width="4.1" stroke-linecap="butt" stroke-linejoin="round"/>
<path d="M743.8 84.3C744.1 87.2 745.1 94.9 745.5 101.6C745.9 108.2 746.2 120.2 746.4 124.0" fill="none" stroke="#456778" stroke-width="5.2" stroke-linecap="butt" stroke-linejoin="round"/><path d="M743.8 84.3C744.1 87.2 745.1 94.9 745.5 101.6C745.9 108.2 746.2 120.2 746.4 124.0" fill="none" stroke="#8fbad0" stroke-width="4.1" stroke-linecap="butt" stroke-linejoin="round"/>
<path d="M749.0 96.4C749.5 98.1 751.6 103.6 752.4 106.7C753.3 109.9 753.9 113.9 754.1 115.3" fill="none" stroke="#456778" stroke-width="4.5" stroke-linecap="butt" stroke-linejoin="round"/><path d="M749.0 96.4C749.5 98.1 751.6 103.6 752.4 106.7C753.3 109.9 753.9 113.9 754.1 115.3" fill="none" stroke="#8fbad0" stroke-width="3.4" stroke-linecap="butt" stroke-linejoin="round"/>
<path d="M735.2 122.2C736.3 123.1 739.2 126.0 742.1 127.4C744.9 128.9 750.7 130.3 752.4 130.9" fill="none" stroke="#456778" stroke-width="5.6" stroke-linecap="butt" stroke-linejoin="round"/><path d="M735.2 122.2C736.3 123.1 739.2 126.0 742.1 127.4C744.9 128.9 750.7 130.3 752.4 130.9" fill="none" stroke="#8fbad0" stroke-width="4.5" stroke-linecap="butt" stroke-linejoin="round"/>
<path d="M653.8 142.6C654.9 142.3 658.4 139.7 660.7 140.9C663.0 142.0 666.4 148.0 667.6 149.5" fill="none" stroke="#85866a" stroke-width="2.0" stroke-linecap="round" stroke-linejoin="round"/><path d="M653.8 142.6C654.9 142.3 658.4 139.7 660.7 140.9C663.0 142.0 666.4 148.0 667.6 149.5" fill="none" stroke="#d8d9b0" stroke-width="0.9" stroke-linecap="round"/>
<path d="M660.7 130.5C661.6 129.7 663.6 126.8 665.9 125.3C668.2 123.9 672.2 122.8 674.5 121.9C676.8 121.0 677.4 120.5 679.7 120.2C682.0 119.9 687.1 121.0 688.3 120.2C689.4 119.3 686.8 115.9 686.6 115.0" fill="none" stroke="#85866a" stroke-width="2.0" stroke-linecap="round" stroke-linejoin="round"/><path d="M660.7 130.5C661.6 129.7 663.6 126.8 665.9 125.3C668.2 123.9 672.2 122.8 674.5 121.9C676.8 121.0 677.4 120.5 679.7 120.2C682.0 119.9 687.1 121.0 688.3 120.2C689.4 119.3 686.8 115.9 686.6 115.0" fill="none" stroke="#d8d9b0" stroke-width="0.9" stroke-linecap="round"/>
<path d="M696.9 135.7C698.0 135.5 703.5 134.3 703.8 134.8C704.1 135.4 700.1 136.7 698.6 139.1C697.2 141.6 695.7 147.8 695.2 149.5" fill="none" stroke="#85866a" stroke-width="2.0" stroke-linecap="round" stroke-linejoin="round"/><path d="M696.9 135.7C698.0 135.5 703.5 134.3 703.8 134.8C704.1 135.4 700.1 136.7 698.6 139.1C697.2 141.6 695.7 147.8 695.2 149.5" fill="none" stroke="#d8d9b0" stroke-width="0.9" stroke-linecap="round"/>
<path d="M657.2 149.5C657.0 150.9 654.9 154.1 655.5 158.1C656.1 162.1 658.4 169.9 660.7 173.6C663.0 177.4 667.9 179.4 669.3 180.5" fill="none" stroke="#85866a" stroke-width="2.0" stroke-linecap="round" stroke-linejoin="round"/><path d="M657.2 149.5C657.0 150.9 654.9 154.1 655.5 158.1C656.1 162.1 658.4 169.9 660.7 173.6C663.0 177.4 667.9 179.4 669.3 180.5" fill="none" stroke="#d8d9b0" stroke-width="0.9" stroke-linecap="round"/>
<path d="M700.3 115.0C701.2 115.9 703.5 118.7 705.5 120.2C707.5 121.6 709.5 123.0 712.4 123.6C715.3 124.2 719.9 123.3 722.8 123.6C725.6 123.9 728.5 125.1 729.7 125.3" fill="none" stroke="#85866a" stroke-width="2.0" stroke-linecap="round" stroke-linejoin="round"/><path d="M700.3 115.0C701.2 115.9 703.5 118.7 705.5 120.2C707.5 121.6 709.5 123.0 712.4 123.6C715.3 124.2 719.9 123.3 722.8 123.6C725.6 123.9 728.5 125.1 729.7 125.3" fill="none" stroke="#d8d9b0" stroke-width="0.9" stroke-linecap="round"/>
<path d="M664.1 166.7C665.0 168.2 667.6 173.0 669.3 175.3C671.0 177.6 672.5 178.5 674.5 180.5C676.5 182.5 680.2 186.3 681.4 187.4" fill="none" stroke="#85866a" stroke-width="2.0" stroke-linecap="round" stroke-linejoin="round"/><path d="M664.1 166.7C665.0 168.2 667.6 173.0 669.3 175.3C671.0 177.6 672.5 178.5 674.5 180.5C676.5 182.5 680.2 186.3 681.4 187.4" fill="none" stroke="#d8d9b0" stroke-width="0.9" stroke-linecap="round"/>
<path d="M676.2 123.6L677.9 135.7" fill="none" stroke="#7c7d5c" stroke-width="4.3" stroke-linecap="butt" stroke-linejoin="round"/><path d="M676.2 123.6L677.9 135.7" fill="none" stroke="#d9dcab" stroke-width="3.2" stroke-linecap="butt" stroke-linejoin="round"/><path d="M674.2 131.0L678.1 137.2L680.2 130.1Z" fill="#d9dcab" stroke="#7c7d5c" stroke-width="0.8" stroke-linejoin="round"/>
<path d="M686.6 125.3C687.1 127.4 688.6 134.5 690.0 137.4C691.4 140.3 694.3 141.7 695.2 142.6" fill="none" stroke="#7c7d5c" stroke-width="4.3" stroke-linecap="butt" stroke-linejoin="round"/><path d="M686.6 125.3C687.1 127.4 688.6 134.5 690.0 137.4C691.4 140.3 694.3 141.7 695.2 142.6" fill="none" stroke="#d9dcab" stroke-width="3.2" stroke-linecap="butt" stroke-linejoin="round"/>
<path d="M672.8 142.6C673.3 144.6 674.8 150.6 676.2 154.7C677.6 158.7 680.5 164.7 681.4 166.7" fill="none" stroke="#7c7d5c" stroke-width="4.5" stroke-linecap="butt" stroke-linejoin="round"/><path d="M672.8 142.6C673.3 144.6 674.8 150.6 676.2 154.7C677.6 158.7 680.5 164.7 681.4 166.7" fill="none" stroke="#d9dcab" stroke-width="3.4" stroke-linecap="butt" stroke-linejoin="round"/>
<path d="M660.7 146.0C661.0 148.0 661.8 154.7 662.4 158.1C663.0 161.6 663.9 165.3 664.1 166.7" fill="none" stroke="#7c7d5c" stroke-width="4.3" stroke-linecap="butt" stroke-linejoin="round"/><path d="M660.7 146.0C661.0 148.0 661.8 154.7 662.4 158.1C663.0 161.6 663.9 165.3 664.1 166.7" fill="none" stroke="#d9dcab" stroke-width="3.2" stroke-linecap="butt" stroke-linejoin="round"/>
<path d="M688.3 156.4C688.0 158.1 687.4 163.6 686.6 166.7C685.7 169.9 683.7 173.9 683.1 175.3" fill="none" stroke="#7c7d5c" stroke-width="4.3" stroke-linecap="butt" stroke-linejoin="round"/><path d="M688.3 156.4C688.0 158.1 687.4 163.6 686.6 166.7C685.7 169.9 683.7 173.9 683.1 175.3" fill="none" stroke="#d9dcab" stroke-width="3.2" stroke-linecap="butt" stroke-linejoin="round"/>
<path d="M667.6 166.7C669.0 167.6 673.9 170.2 676.2 171.9C678.5 173.6 680.5 176.2 681.4 177.1" fill="none" stroke="#7c7d5c" stroke-width="4.2" stroke-linecap="butt" stroke-linejoin="round"/><path d="M667.6 166.7C669.0 167.6 673.9 170.2 676.2 171.9C678.5 173.6 680.5 176.2 681.4 177.1" fill="none" stroke="#d9dcab" stroke-width="3.1" stroke-linecap="butt" stroke-linejoin="round"/>
<path d="M681.4 130.5C683.1 131.7 689.1 135.4 691.7 137.4C694.3 139.4 696.0 141.7 696.9 142.6" fill="none" stroke="#7c7d5c" stroke-width="4.2" stroke-linecap="butt" stroke-linejoin="round"/><path d="M681.4 130.5C683.1 131.7 689.1 135.4 691.7 137.4C694.3 139.4 696.0 141.7 696.9 142.6" fill="none" stroke="#d9dcab" stroke-width="3.1" stroke-linecap="butt" stroke-linejoin="round"/>
<path d="M674.5 178.8C675.1 179.9 678.2 184.3 677.9 185.7C677.6 187.1 673.9 188.0 672.8 187.4C671.6 186.8 670.7 183.7 671.0 182.2C671.3 180.8 673.9 179.4 674.5 178.8" fill="none" stroke="#4f7282" stroke-width="2.2" stroke-linecap="round" stroke-linejoin="round"/><path d="M674.5 178.8C675.1 179.9 678.2 184.3 677.9 185.7C677.6 187.1 673.9 188.0 672.8 187.4C671.6 186.8 670.7 183.7 671.0 182.2C671.3 180.8 673.9 179.4 674.5 178.8" fill="none" stroke="#9fc2d3" stroke-width="1.1" stroke-linecap="round"/>
<path d="M714.1 158.1C715.0 156.7 717.3 150.6 719.3 149.5C721.3 148.3 724.5 150.1 726.2 151.2C727.9 152.4 729.1 155.5 729.7 156.4" fill="none" stroke="#4f7282" stroke-width="2.0" stroke-linecap="round" stroke-linejoin="round"/><path d="M714.1 158.1C715.0 156.7 717.3 150.6 719.3 149.5C721.3 148.3 724.5 150.1 726.2 151.2C727.9 152.4 729.1 155.5 729.7 156.4" fill="none" stroke="#9fc2d3" stroke-width="0.9" stroke-linecap="round"/>
<path d="M740.0 168.4C740.6 169.3 742.3 172.2 743.4 173.6C744.6 175.1 745.7 177.4 746.9 177.1C748.0 176.8 749.5 175.1 750.3 171.9C751.2 168.7 750.6 162.4 752.1 158.1C753.5 153.8 758.4 149.2 759.0 146.0C759.5 142.9 757.0 141.4 755.5 139.1C754.1 136.8 751.8 134.5 750.3 132.2C748.9 129.9 747.5 126.5 746.9 125.3" fill="none" stroke="#4f7282" stroke-width="2.0" stroke-linecap="round" stroke-linejoin="round"/><path d="M740.0 168.4C740.6 169.3 742.3 172.2 743.4 173.6C744.6 175.1 745.7 177.4 746.9 177.1C748.0 176.8 749.5 175.1 750.3 171.9C751.2 168.7 750.6 162.4 752.1 158.1C753.5 153.8 758.4 149.2 759.0 146.0C759.5 142.9 757.0 141.4 755.5 139.1C754.1 136.8 751.8 134.5 750.3 132.2C748.9 129.9 747.5 126.5 746.9 125.3" fill="none" stroke="#9fc2d3" stroke-width="0.9" stroke-linecap="round"/>
<path d="M726.2 171.9C727.9 172.8 734.8 175.3 736.6 177.1C738.3 178.8 738.9 180.5 736.6 182.2C734.3 184.0 725.1 186.6 722.8 187.4" fill="none" stroke="#4f7282" stroke-width="2.0" stroke-linecap="round" stroke-linejoin="round"/><path d="M726.2 171.9C727.9 172.8 734.8 175.3 736.6 177.1C738.3 178.8 738.9 180.5 736.6 182.2C734.3 184.0 725.1 186.6 722.8 187.4" fill="none" stroke="#9fc2d3" stroke-width="0.9" stroke-linecap="round"/>
<path d="M683.1 152.9C681.7 153.5 676.5 154.1 674.5 156.4C672.5 158.7 671.0 163.9 671.0 166.7C671.0 169.6 673.9 172.5 674.5 173.6" fill="none" stroke="#4f7282" stroke-width="2.0" stroke-linecap="round" stroke-linejoin="round"/><path d="M683.1 152.9C681.7 153.5 676.5 154.1 674.5 156.4C672.5 158.7 671.0 163.9 671.0 166.7C671.0 169.6 673.9 172.5 674.5 173.6" fill="none" stroke="#9fc2d3" stroke-width="0.9" stroke-linecap="round"/>
<path d="M721.0 187.4C722.5 188.0 727.6 189.6 729.7 190.9C731.7 192.1 732.5 194.3 733.1 195.0" fill="none" stroke="#4f7282" stroke-width="2.0" stroke-linecap="round" stroke-linejoin="round"/><path d="M721.0 187.4C722.5 188.0 727.6 189.6 729.7 190.9C731.7 192.1 732.5 194.3 733.1 195.0" fill="none" stroke="#9fc2d3" stroke-width="0.9" stroke-linecap="round"/>
<path d="M683.1 152.9C686.0 153.2 695.2 153.8 700.3 154.7C705.5 155.5 711.8 157.5 714.1 158.1" fill="none" stroke="#456778" stroke-width="4.7" stroke-linecap="butt" stroke-linejoin="round"/><path d="M683.1 152.9C686.0 153.2 695.2 153.8 700.3 154.7C705.5 155.5 711.8 157.5 714.1 158.1" fill="none" stroke="#8fbad0" stroke-width="3.6" stroke-linecap="butt" stroke-linejoin="round"/>
<path d="M676.2 159.8C680.2 160.4 691.4 161.8 700.3 163.3C709.3 164.7 722.8 167.6 729.7 168.4C736.6 169.3 739.7 168.4 741.7 168.4" fill="none" stroke="#456778" stroke-width="4.9" stroke-linecap="butt" stroke-linejoin="round"/><path d="M676.2 159.8C680.2 160.4 691.4 161.8 700.3 163.3C709.3 164.7 722.8 167.6 729.7 168.4C736.6 169.3 739.7 168.4 741.7 168.4" fill="none" stroke="#8fbad0" stroke-width="3.8" stroke-linecap="butt" stroke-linejoin="round"/><path d="M735.7 172.0L743.2 168.4L735.7 164.9Z" fill="#8fbad0" stroke="#456778" stroke-width="0.8" stroke-linejoin="round"/>
<path d="M691.7 168.4C695.2 168.7 705.8 169.6 712.4 170.2C719.0 170.7 728.2 171.6 731.4 171.9" fill="none" stroke="#456778" stroke-width="4.9" stroke-linecap="butt" stroke-linejoin="round"/><path d="M691.7 168.4C695.2 168.7 705.8 169.6 712.4 170.2C719.0 170.7 728.2 171.6 731.4 171.9" fill="none" stroke="#8fbad0" stroke-width="3.8" stroke-linecap="butt" stroke-linejoin="round"/>
<path d="M695.2 175.3C698.0 175.6 707.5 176.5 712.4 177.1C717.3 177.6 722.5 178.5 724.5 178.8" fill="none" stroke="#456778" stroke-width="4.9" stroke-linecap="butt" stroke-linejoin="round"/><path d="M695.2 175.3C698.0 175.6 707.5 176.5 712.4 177.1C717.3 177.6 722.5 178.5 724.5 178.8" fill="none" stroke="#8fbad0" stroke-width="3.8" stroke-linecap="butt" stroke-linejoin="round"/>
<path d="M691.7 184.0C694.0 184.3 700.6 185.1 705.5 185.7C710.4 186.3 718.4 187.1 721.0 187.4" fill="none" stroke="#456778" stroke-width="4.9" stroke-linecap="butt" stroke-linejoin="round"/><path d="M691.7 184.0C694.0 184.3 700.6 185.1 705.5 185.7C710.4 186.3 718.4 187.1 721.0 187.4" fill="none" stroke="#8fbad0" stroke-width="3.8" stroke-linecap="butt" stroke-linejoin="round"/>
<path d="M717.6 154.7C720.7 154.9 730.8 156.1 736.6 156.4C742.3 156.7 749.5 156.4 752.1 156.4" fill="none" stroke="#456778" stroke-width="3.3" stroke-linecap="butt" stroke-linejoin="round"/><path d="M717.6 154.7C720.7 154.9 730.8 156.1 736.6 156.4C742.3 156.7 749.5 156.4 752.1 156.4" fill="none" stroke="#8fbad0" stroke-width="2.2" stroke-linecap="butt" stroke-linejoin="round"/>
<path d="M679.7 175.3L688.3 173.6" fill="none" stroke="#456778" stroke-width="4.3" stroke-linecap="butt" stroke-linejoin="round"/><path d="M679.7 175.3L688.3 173.6" fill="none" stroke="#8fbad0" stroke-width="3.2" stroke-linecap="butt" stroke-linejoin="round"/>
<path d="M683.1 180.5L688.3 184.0" fill="none" stroke="#456778" stroke-width="4.3" stroke-linecap="butt" stroke-linejoin="round"/><path d="M683.1 180.5L688.3 184.0" fill="none" stroke="#8fbad0" stroke-width="3.2" stroke-linecap="butt" stroke-linejoin="round"/><path d="M930.3 83.3C927.5 86.1 917.4 95.2 913.1 100.5C908.8 105.8 905.9 112.6 904.5 115.0" fill="none" stroke="#7c7d5c" stroke-width="5.2" stroke-linecap="butt" stroke-linejoin="round"/><path d="M930.3 83.3C927.5 86.1 917.4 95.2 913.1 100.5C908.8 105.8 905.9 112.6 904.5 115.0" fill="none" stroke="#d9dcab" stroke-width="4.1" stroke-linecap="butt" stroke-linejoin="round"/>
<path d="M918.3 83.3C916.0 85.3 907.6 92.2 904.5 95.3C901.3 98.5 900.2 101.1 899.3 102.2" fill="none" stroke="#7c7d5c" stroke-width="5.1" stroke-linecap="butt" stroke-linejoin="round"/><path d="M918.3 83.3C916.0 85.3 907.6 92.2 904.5 95.3C901.3 98.5 900.2 101.1 899.3 102.2" fill="none" stroke="#d9dcab" stroke-width="4.0" stroke-linecap="butt" stroke-linejoin="round"/>
<path d="M942.4 86.7C939.5 89.6 929.8 99.3 925.2 104.0C920.6 108.7 916.6 113.2 914.8 115.0" fill="none" stroke="#7c7d5c" stroke-width="5.1" stroke-linecap="butt" stroke-linejoin="round"/><path d="M942.4 86.7C939.5 89.6 929.8 99.3 925.2 104.0C920.6 108.7 916.6 113.2 914.8 115.0" fill="none" stroke="#d9dcab" stroke-width="4.0" stroke-linecap="butt" stroke-linejoin="round"/>
<path d="M937.2 85.0C934.7 87.6 926.3 95.5 921.7 100.5C917.1 105.5 911.7 112.6 909.7 115.0" fill="none" stroke="#a0a0a0" stroke-width="4.3" stroke-linecap="butt" stroke-linejoin="round"/><path d="M937.2 85.0C934.7 87.6 926.3 95.5 921.7 100.5C917.1 105.5 911.7 112.6 909.7 115.0" fill="none" stroke="#c4c4c4" stroke-width="3.2" stroke-linecap="butt" stroke-linejoin="round"/>
<path d="M952.8 86.7C950.5 89.0 943.3 95.8 939.0 100.5C934.7 105.2 928.9 112.6 926.9 115.0" fill="none" stroke="#7c7d5c" stroke-width="4.7" stroke-linecap="butt" stroke-linejoin="round"/><path d="M952.8 86.7C950.5 89.0 943.3 95.8 939.0 100.5C934.7 105.2 928.9 112.6 926.9 115.0" fill="none" stroke="#d9dcab" stroke-width="3.6" stroke-linecap="butt" stroke-linejoin="round"/>
<path d="M939.0 54.0C941.0 54.0 947.6 53.7 951.0 54.0C954.5 54.3 958.2 55.4 959.7 55.7" fill="none" stroke="#7c7d5c" stroke-width="4.7" stroke-linecap="butt" stroke-linejoin="round"/><path d="M939.0 54.0C941.0 54.0 947.6 53.7 951.0 54.0C954.5 54.3 958.2 55.4 959.7 55.7" fill="none" stroke="#d9dcab" stroke-width="3.6" stroke-linecap="butt" stroke-linejoin="round"/>
<path d="M897.6 100.5C897.3 102.0 895.6 106.7 895.9 109.1C896.1 111.6 898.7 114.0 899.3 115.0" fill="none" stroke="#85866a" stroke-width="2.0" stroke-linecap="round" stroke-linejoin="round"/><path d="M897.6 100.5C897.3 102.0 895.6 106.7 895.9 109.1C896.1 111.6 898.7 114.0 899.3 115.0" fill="none" stroke="#d8d9b0" stroke-width="0.9" stroke-linecap="round"/>
<path d="M895.9 43.6C897.0 44.5 901.3 47.1 902.8 48.8C904.2 50.5 904.2 53.1 904.5 54.0" fill="none" stroke="#a0a0a0" stroke-width="5.6" stroke-linecap="butt" stroke-linejoin="round"/><path d="M895.9 43.6C897.0 44.5 901.3 47.1 902.8 48.8C904.2 50.5 904.2 53.1 904.5 54.0" fill="none" stroke="#c4c4c4" stroke-width="4.5" stroke-linecap="butt" stroke-linejoin="round"/>
<path d="M882.1 71.2C882.9 70.9 885.5 69.5 887.2 69.5C889.0 69.5 891.6 70.9 892.4 71.2" fill="none" stroke="#4f7282" stroke-width="2.0" stroke-linecap="round" stroke-linejoin="round"/><path d="M882.1 71.2C882.9 70.9 885.5 69.5 887.2 69.5C889.0 69.5 891.6 70.9 892.4 71.2" fill="none" stroke="#9fc2d3" stroke-width="0.9" stroke-linecap="round"/>
<path d="M911.4 45.3C911.7 46.2 912.0 49.1 913.1 50.5C914.3 52.0 916.8 53.7 918.3 54.0C919.7 54.3 920.6 52.7 921.7 52.2C922.9 51.8 924.6 51.5 925.2 51.4" fill="none" stroke="#4f7282" stroke-width="2.0" stroke-linecap="round" stroke-linejoin="round"/><path d="M911.4 45.3C911.7 46.2 912.0 49.1 913.1 50.5C914.3 52.0 916.8 53.7 918.3 54.0C919.7 54.3 920.6 52.7 921.7 52.2C922.9 51.8 924.6 51.5 925.2 51.4" fill="none" stroke="#9fc2d3" stroke-width="0.9" stroke-linecap="round"/>
<path d="M966.6 62.6C967.1 63.7 968.9 67.2 970.0 69.5C971.1 71.8 972.0 74.9 973.4 76.4C974.9 77.8 975.9 76.4 978.6 78.1C981.4 79.8 988.1 85.3 990.0 86.7" fill="none" stroke="#4f7282" stroke-width="2.0" stroke-linecap="round" stroke-linejoin="round"/><path d="M966.6 62.6C967.1 63.7 968.9 67.2 970.0 69.5C971.1 71.8 972.0 74.9 973.4 76.4C974.9 77.8 975.9 76.4 978.6 78.1C981.4 79.8 988.1 85.3 990.0 86.7" fill="none" stroke="#9fc2d3" stroke-width="0.9" stroke-linecap="round"/>
<path d="M966.6 88.4C967.7 89.3 972.9 91.6 973.4 93.6C974.0 95.6 972.3 99.1 970.0 100.5C967.7 102.0 961.4 102.0 959.7 102.2" fill="none" stroke="#4f7282" stroke-width="2.0" stroke-linecap="round" stroke-linejoin="round"/><path d="M966.6 88.4C967.7 89.3 972.9 91.6 973.4 93.6C974.0 95.6 972.3 99.1 970.0 100.5C967.7 102.0 961.4 102.0 959.7 102.2" fill="none" stroke="#9fc2d3" stroke-width="0.9" stroke-linecap="round"/>
<path d="M890.7 64.3C889.8 65.7 886.7 70.3 885.5 72.9C884.4 75.5 884.1 78.7 883.8 79.8" fill="none" stroke="#4f7282" stroke-width="2.0" stroke-linecap="round" stroke-linejoin="round"/><path d="M890.7 64.3C889.8 65.7 886.7 70.3 885.5 72.9C884.4 75.5 884.1 78.7 883.8 79.8" fill="none" stroke="#9fc2d3" stroke-width="0.9" stroke-linecap="round"/>
<path d="M904.5 54.0C905.3 55.1 907.9 58.9 909.7 60.9C911.4 62.9 914.0 65.2 914.8 66.0" fill="none" stroke="#4f7282" stroke-width="2.0" stroke-linecap="round" stroke-linejoin="round"/><path d="M904.5 54.0C905.3 55.1 907.9 58.9 909.7 60.9C911.4 62.9 914.0 65.2 914.8 66.0" fill="none" stroke="#9fc2d3" stroke-width="0.9" stroke-linecap="round"/>
<path d="M904.5 83.3C903.9 83.9 901.3 85.6 901.0 86.7C900.7 87.9 902.5 89.6 902.8 90.2" fill="none" stroke="#4f7282" stroke-width="2.0" stroke-linecap="round" stroke-linejoin="round"/><path d="M904.5 83.3C903.9 83.9 901.3 85.6 901.0 86.7C900.7 87.9 902.5 89.6 902.8 90.2" fill="none" stroke="#9fc2d3" stroke-width="0.9" stroke-linecap="round"/>
<path d="M921.7 95.3C923.2 96.2 926.9 99.7 930.3 100.5C933.8 101.4 939.0 100.8 942.4 100.5C945.9 100.2 949.6 99.1 951.0 98.8" fill="none" stroke="#4f7282" stroke-width="2.0" stroke-linecap="round" stroke-linejoin="round"/><path d="M921.7 95.3C923.2 96.2 926.9 99.7 930.3 100.5C933.8 101.4 939.0 100.8 942.4 100.5C945.9 100.2 949.6 99.1 951.0 98.8" fill="none" stroke="#9fc2d3" stroke-width="0.9" stroke-linecap="round"/>
<path d="M884.7 60.9C885.4 60.1 887.7 56.0 889.0 56.6C890.3 57.1 891.8 63.0 892.4 64.3" fill="none" stroke="#456778" stroke-width="5.6" stroke-linecap="butt" stroke-linejoin="round"/><path d="M884.7 60.9C885.4 60.1 887.7 56.0 889.0 56.6C890.3 57.1 891.8 63.0 892.4 64.3" fill="none" stroke="#8fbad0" stroke-width="4.5" stroke-linecap="butt" stroke-linejoin="round"/>
<path d="M890.7 71.2C894.4 71.8 907.1 74.1 913.1 74.7C919.1 75.2 924.6 74.7 926.9 74.7" fill="none" stroke="#456778" stroke-width="4.5" stroke-linecap="butt" stroke-linejoin="round"/><path d="M890.7 71.2C894.4 71.8 907.1 74.1 913.1 74.7C919.1 75.2 924.6 74.7 926.9 74.7" fill="none" stroke="#8fbad0" stroke-width="3.4" stroke-linecap="butt" stroke-linejoin="round"/>
<path d="M921.7 69.5C923.4 70.3 928.3 72.9 932.1 74.7C935.8 76.4 942.1 79.0 944.1 79.8" fill="none" stroke="#456778" stroke-width="4.9" stroke-linecap="butt" stroke-linejoin="round"/><path d="M921.7 69.5C923.4 70.3 928.3 72.9 932.1 74.7C935.8 76.4 942.1 79.0 944.1 79.8" fill="none" stroke="#8fbad0" stroke-width="3.8" stroke-linecap="butt" stroke-linejoin="round"/>
<path d="M925.2 52.2C928.9 53.1 940.7 55.7 947.6 57.4C954.5 59.1 963.4 61.7 966.6 62.6" fill="none" stroke="#456778" stroke-width="5.2" stroke-linecap="butt" stroke-linejoin="round"/><path d="M925.2 52.2C928.9 53.1 940.7 55.7 947.6 57.4C954.5 59.1 963.4 61.7 966.6 62.6" fill="none" stroke="#8fbad0" stroke-width="4.1" stroke-linecap="butt" stroke-linejoin="round"/><path d="M959.1 64.6L968.0 63.0L961.2 57.0Z" fill="#8fbad0" stroke="#456778" stroke-width="0.8" stroke-linejoin="round"/>
<path d="M921.7 59.1C924.6 60.3 933.2 64.0 939.0 66.0C944.7 68.0 953.3 70.3 956.2 71.2" fill="none" stroke="#456778" stroke-width="5.1" stroke-linecap="butt" stroke-linejoin="round"/><path d="M921.7 59.1C924.6 60.3 933.2 64.0 939.0 66.0C944.7 68.0 953.3 70.3 956.2 71.2" fill="none" stroke="#8fbad0" stroke-width="4.0" stroke-linecap="butt" stroke-linejoin="round"/>
<path d="M914.8 66.0C918.3 67.2 929.2 70.9 935.5 72.9C941.8 74.9 949.9 77.2 952.8 78.1" fill="none" stroke="#456778" stroke-width="4.9" stroke-linecap="butt" stroke-linejoin="round"/><path d="M914.8 66.0C918.3 67.2 929.2 70.9 935.5 72.9C941.8 74.9 949.9 77.2 952.8 78.1" fill="none" stroke="#8fbad0" stroke-width="3.8" stroke-linecap="butt" stroke-linejoin="round"/>
<path d="M909.7 78.1C914.5 79.3 929.5 83.3 939.0 85.0C948.4 86.7 962.0 87.9 966.6 88.4" fill="none" stroke="#8c8c8c" stroke-width="5.1" stroke-linecap="butt" stroke-linejoin="round"/><path d="M909.7 78.1C914.5 79.3 929.5 83.3 939.0 85.0C948.4 86.7 962.0 87.9 966.6 88.4" fill="none" stroke="#a9a9a9" stroke-width="4.0" stroke-linecap="butt" stroke-linejoin="round"/>
<path d="M911.4 86.7C913.1 87.6 918.3 90.5 921.7 91.9C925.2 93.3 930.3 94.8 932.1 95.3" fill="none" stroke="#456778" stroke-width="4.9" stroke-linecap="butt" stroke-linejoin="round"/><path d="M911.4 86.7C913.1 87.6 918.3 90.5 921.7 91.9C925.2 93.3 930.3 94.8 932.1 95.3" fill="none" stroke="#8fbad0" stroke-width="3.8" stroke-linecap="butt" stroke-linejoin="round"/><path d="M925.2 96.8L933.5 95.8L927.5 90.0Z" fill="#8fbad0" stroke="#456778" stroke-width="0.8" stroke-linejoin="round"/>
<path d="M951.0 98.8C952.2 98.5 956.2 96.9 957.9 97.1C959.7 97.2 960.8 99.2 961.4 99.7" fill="none" stroke="#456778" stroke-width="4.3" stroke-linecap="butt" stroke-linejoin="round"/><path d="M951.0 98.8C952.2 98.5 956.2 96.9 957.9 97.1C959.7 97.2 960.8 99.2 961.4 99.7" fill="none" stroke="#8fbad0" stroke-width="3.2" stroke-linecap="butt" stroke-linejoin="round"/><path d="M957.5 100.6L962.6 100.6L961.2 95.6Z" fill="#8fbad0" stroke="#456778" stroke-width="0.8" stroke-linejoin="round"/>
<path d="M967.2 64.3C968.1 65.5 969.5 68.6 972.4 71.2C975.3 73.8 981.9 76.7 984.5 79.8C987.1 83.0 986.8 87.3 987.9 90.2C989.1 93.0 991.7 94.8 991.4 97.1C991.1 99.4 988.8 102.2 986.2 104.0C983.6 105.7 977.9 105.7 975.9 107.4C973.9 109.1 974.4 113.2 974.1 114.3" fill="none" stroke="#4f7282" stroke-width="2.0" stroke-linecap="round" stroke-linejoin="round"/><path d="M967.2 64.3C968.1 65.5 969.5 68.6 972.4 71.2C975.3 73.8 981.9 76.7 984.5 79.8C987.1 83.0 986.8 87.3 987.9 90.2C989.1 93.0 991.7 94.8 991.4 97.1C991.1 99.4 988.8 102.2 986.2 104.0C983.6 105.7 977.9 105.7 975.9 107.4C973.9 109.1 974.4 113.2 974.1 114.3" fill="none" stroke="#9fc2d3" stroke-width="0.9" stroke-linecap="round"/>
<path d="M984.5 104.0C986.2 103.4 992.5 99.9 994.8 100.5C997.1 101.1 996.6 105.7 998.3 107.4C1000.0 109.1 1004.0 110.3 1005.2 110.9" fill="none" stroke="#4f7282" stroke-width="2.0" stroke-linecap="round" stroke-linejoin="round"/><path d="M984.5 104.0C986.2 103.4 992.5 99.9 994.8 100.5C997.1 101.1 996.6 105.7 998.3 107.4C1000.0 109.1 1004.0 110.3 1005.2 110.9" fill="none" stroke="#9fc2d3" stroke-width="0.9" stroke-linecap="round"/>
<path d="M887.2 127.6C888.7 127.3 893.6 126.7 895.9 125.9C898.2 125.0 900.5 123.9 901.0 122.4C901.6 121.0 900.5 118.7 899.3 117.2C898.2 115.8 895.0 114.4 894.1 113.8" fill="none" stroke="#85866a" stroke-width="2.0" stroke-linecap="round" stroke-linejoin="round"/><path d="M887.2 127.6C888.7 127.3 893.6 126.7 895.9 125.9C898.2 125.0 900.5 123.9 901.0 122.4C901.6 121.0 900.5 118.7 899.3 117.2C898.2 115.8 895.0 114.4 894.1 113.8" fill="none" stroke="#d8d9b0" stroke-width="0.9" stroke-linecap="round"/>
<path d="M892.4 120.7C893.6 121.8 896.7 126.7 899.3 127.6C901.9 128.4 905.1 125.9 907.9 125.9C910.8 125.9 914.8 128.7 916.6 127.6C918.3 126.4 918.0 120.4 918.3 119.0" fill="none" stroke="#85866a" stroke-width="2.0" stroke-linecap="round" stroke-linejoin="round"/><path d="M892.4 120.7C893.6 121.8 896.7 126.7 899.3 127.6C901.9 128.4 905.1 125.9 907.9 125.9C910.8 125.9 914.8 128.7 916.6 127.6C918.3 126.4 918.0 120.4 918.3 119.0" fill="none" stroke="#d8d9b0" stroke-width="0.9" stroke-linecap="round"/>
<path d="M894.1 141.4C893.6 143.1 889.8 148.6 890.7 151.7C891.6 154.9 897.0 158.6 899.3 160.3C901.6 162.1 903.6 161.8 904.5 162.1" fill="none" stroke="#85866a" stroke-width="2.0" stroke-linecap="round" stroke-linejoin="round"/><path d="M894.1 141.4C893.6 143.1 889.8 148.6 890.7 151.7C891.6 154.9 897.0 158.6 899.3 160.3C901.6 162.1 903.6 161.8 904.5 162.1" fill="none" stroke="#d8d9b0" stroke-width="0.9" stroke-linecap="round"/>
<path d="M935.5 122.4C936.7 122.1 940.7 120.1 942.4 120.7C944.1 121.3 944.7 123.6 945.9 125.9C947.0 128.2 949.0 131.6 949.3 134.5C949.6 137.4 948.4 141.1 947.6 143.1C946.7 145.1 944.7 146.0 944.1 146.6" fill="none" stroke="#85866a" stroke-width="2.0" stroke-linecap="round" stroke-linejoin="round"/><path d="M935.5 122.4C936.7 122.1 940.7 120.1 942.4 120.7C944.1 121.3 944.7 123.6 945.9 125.9C947.0 128.2 949.0 131.6 949.3 134.5C949.6 137.4 948.4 141.1 947.6 143.1C946.7 145.1 944.7 146.0 944.1 146.6" fill="none" stroke="#d8d9b0" stroke-width="0.9" stroke-linecap="round"/>
<path d="M935.5 122.4C935.5 123.9 934.9 128.2 935.5 131.0C936.1 133.9 938.1 137.4 939.0 139.7C939.8 142.0 940.4 144.0 940.7 144.8" fill="none" stroke="#85866a" stroke-width="2.0" stroke-linecap="round" stroke-linejoin="round"/><path d="M935.5 122.4C935.5 123.9 934.9 128.2 935.5 131.0C936.1 133.9 938.1 137.4 939.0 139.7C939.8 142.0 940.4 144.0 940.7 144.8" fill="none" stroke="#d8d9b0" stroke-width="0.9" stroke-linecap="round"/>
<path d="M895.9 110.3C897.3 110.9 901.6 112.9 904.5 113.8C907.4 114.7 911.7 115.2 913.1 115.5" fill="none" stroke="#85866a" stroke-width="2.0" stroke-linecap="round" stroke-linejoin="round"/><path d="M895.9 110.3C897.3 110.9 901.6 112.9 904.5 113.8C907.4 114.7 911.7 115.2 913.1 115.5" fill="none" stroke="#d8d9b0" stroke-width="0.9" stroke-linecap="round"/>
<path d="M921.7 139.7C922.6 141.7 924.6 148.9 926.9 151.7C929.2 154.6 932.9 156.0 935.5 156.9C938.1 157.8 941.3 156.9 942.4 156.9" fill="none" stroke="#85866a" stroke-width="2.0" stroke-linecap="round" stroke-linejoin="round"/><path d="M921.7 139.7C922.6 141.7 924.6 148.9 926.9 151.7C929.2 154.6 932.9 156.0 935.5 156.9C938.1 157.8 941.3 156.9 942.4 156.9" fill="none" stroke="#d8d9b0" stroke-width="0.9" stroke-linecap="round"/>
<path d="M904.5 162.1C905.3 163.8 906.8 169.5 909.7 172.4C912.5 175.3 919.7 178.2 921.7 179.3" fill="none" stroke="#85866a" stroke-width="2.0" stroke-linecap="round" stroke-linejoin="round"/><path d="M904.5 162.1C905.3 163.8 906.8 169.5 909.7 172.4C912.5 175.3 919.7 178.2 921.7 179.3" fill="none" stroke="#d8d9b0" stroke-width="0.9" stroke-linecap="round"/>
<path d="M904.5 100.0C905.9 101.1 910.2 105.2 913.1 106.9C916.0 108.6 920.3 109.8 921.7 110.3" fill="none" stroke="#7c7d5c" stroke-width="4.7" stroke-linecap="butt" stroke-linejoin="round"/><path d="M904.5 100.0C905.9 101.1 910.2 105.2 913.1 106.9C916.0 108.6 920.3 109.8 921.7 110.3" fill="none" stroke="#d9dcab" stroke-width="3.6" stroke-linecap="butt" stroke-linejoin="round"/>
<path d="M914.8 100.0C916.0 101.4 920.3 106.0 921.7 108.6C923.2 111.2 923.2 114.4 923.4 115.5" fill="none" stroke="#7c7d5c" stroke-width="4.7" stroke-linecap="butt" stroke-linejoin="round"/><path d="M914.8 100.0C916.0 101.4 920.3 106.0 921.7 108.6C923.2 111.2 923.2 114.4 923.4 115.5" fill="none" stroke="#d9dcab" stroke-width="3.6" stroke-linecap="butt" stroke-linejoin="round"/>
<path d="M926.9 100.0C926.3 101.4 924.3 106.0 923.4 108.6C922.6 111.2 922.0 114.4 921.7 115.5" fill="none" stroke="#7c7d5c" stroke-width="4.7" stroke-linecap="butt" stroke-linejoin="round"/><path d="M926.9 100.0C926.3 101.4 924.3 106.0 923.4 108.6C922.6 111.2 922.0 114.4 921.7 115.5" fill="none" stroke="#d9dcab" stroke-width="3.6" stroke-linecap="butt" stroke-linejoin="round"/>
<path d="M904.5 132.8C906.8 133.3 914.5 135.1 918.3 136.2C922.0 137.4 925.5 139.1 926.9 139.7" fill="none" stroke="#7c7d5c" stroke-width="4.5" stroke-linecap="butt" stroke-linejoin="round"/><path d="M904.5 132.8C906.8 133.3 914.5 135.1 918.3 136.2C922.0 137.4 925.5 139.1 926.9 139.7" fill="none" stroke="#d9dcab" stroke-width="3.4" stroke-linecap="butt" stroke-linejoin="round"/>
<path d="M906.2 143.1C908.8 143.4 916.6 144.3 921.7 144.8C926.9 145.4 934.7 146.3 937.2 146.6" fill="none" stroke="#8c8c8c" stroke-width="4.5" stroke-linecap="butt" stroke-linejoin="round"/><path d="M906.2 143.1C908.8 143.4 916.6 144.3 921.7 144.8C926.9 145.4 934.7 146.3 937.2 146.6" fill="none" stroke="#a9a9a9" stroke-width="3.4" stroke-linecap="butt" stroke-linejoin="round"/>
<path d="M925.2 136.2C926.0 137.1 928.3 139.4 930.3 141.4C932.4 143.4 936.1 147.1 937.2 148.3" fill="none" stroke="#7c7d5c" stroke-width="4.3" stroke-linecap="butt" stroke-linejoin="round"/><path d="M925.2 136.2C926.0 137.1 928.3 139.4 930.3 141.4C932.4 143.4 936.1 147.1 937.2 148.3" fill="none" stroke="#d9dcab" stroke-width="3.2" stroke-linecap="butt" stroke-linejoin="round"/>
<path d="M942.4 148.3C942.7 150.3 943.6 156.3 944.1 160.3C944.7 164.4 945.6 170.4 945.9 172.4" fill="none" stroke="#7c7d5c" stroke-width="4.7" stroke-linecap="butt" stroke-linejoin="round"/><path d="M942.4 148.3C942.7 150.3 943.6 156.3 944.1 160.3C944.7 164.4 945.6 170.4 945.9 172.4" fill="none" stroke="#d9dcab" stroke-width="3.6" stroke-linecap="butt" stroke-linejoin="round"/><path d="M941.7 167.2L946.1 173.9L948.4 166.2Z" fill="#d9dcab" stroke="#7c7d5c" stroke-width="0.8" stroke-linejoin="round"/>
<path d="M920.0 165.5C922.6 166.4 930.6 169.0 935.5 170.7C940.4 172.4 947.0 175.0 949.3 175.9" fill="none" stroke="#7c7d5c" stroke-width="4.5" stroke-linecap="butt" stroke-linejoin="round"/><path d="M920.0 165.5C922.6 166.4 930.6 169.0 935.5 170.7C940.4 172.4 947.0 175.0 949.3 175.9" fill="none" stroke="#d9dcab" stroke-width="3.4" stroke-linecap="butt" stroke-linejoin="round"/>
<path d="M904.5 162.1C906.5 162.6 913.4 164.4 916.6 165.5C919.7 166.7 922.3 168.4 923.4 169.0" fill="none" stroke="#7c7d5c" stroke-width="4.3" stroke-linecap="butt" stroke-linejoin="round"/><path d="M904.5 162.1C906.5 162.6 913.4 164.4 916.6 165.5C919.7 166.7 922.3 168.4 923.4 169.0" fill="none" stroke="#d9dcab" stroke-width="3.2" stroke-linecap="butt" stroke-linejoin="round"/>
<path d="M947.6 158.6C948.7 160.1 952.5 164.9 954.5 167.2C956.5 169.5 958.8 171.6 959.7 172.4" fill="none" stroke="#7c7d5c" stroke-width="4.3" stroke-linecap="butt" stroke-linejoin="round"/><path d="M947.6 158.6C948.7 160.1 952.5 164.9 954.5 167.2C956.5 169.5 958.8 171.6 959.7 172.4" fill="none" stroke="#d9dcab" stroke-width="3.2" stroke-linecap="butt" stroke-linejoin="round"/>
<path d="M975.9 106.9C977.3 106.6 981.6 106.0 984.5 105.2C987.4 104.3 991.1 101.7 993.1 101.7C995.1 101.7 995.4 103.7 996.6 105.2C997.7 106.6 998.6 109.2 1000.0 110.3C1001.4 111.5 1004.3 111.8 1005.2 112.1" fill="none" stroke="#4f7282" stroke-width="2.0" stroke-linecap="round" stroke-linejoin="round"/><path d="M975.9 106.9C977.3 106.6 981.6 106.0 984.5 105.2C987.4 104.3 991.1 101.7 993.1 101.7C995.1 101.7 995.4 103.7 996.6 105.2C997.7 106.6 998.6 109.2 1000.0 110.3C1001.4 111.5 1004.3 111.8 1005.2 112.1" fill="none" stroke="#9fc2d3" stroke-width="0.9" stroke-linecap="round"/>
<path d="M951.7 122.4C952.9 122.1 956.3 120.4 958.6 120.7C960.9 121.0 964.4 123.6 965.5 124.1" fill="none" stroke="#4f7282" stroke-width="2.0" stroke-linecap="round" stroke-linejoin="round"/><path d="M951.7 122.4C952.9 122.1 956.3 120.4 958.6 120.7C960.9 121.0 964.4 123.6 965.5 124.1" fill="none" stroke="#9fc2d3" stroke-width="0.9" stroke-linecap="round"/>
<path d="M975.9 115.5C976.4 114.7 979.3 111.8 979.3 110.3C979.3 108.9 976.4 107.5 975.9 106.9" fill="none" stroke="#4f7282" stroke-width="2.0" stroke-linecap="round" stroke-linejoin="round"/><path d="M975.9 115.5C976.4 114.7 979.3 111.8 979.3 110.3C979.3 108.9 976.4 107.5 975.9 106.9" fill="none" stroke="#9fc2d3" stroke-width="0.9" stroke-linecap="round"/>
<path d="M955.2 136.2C955.7 137.9 958.6 143.4 958.6 146.6C958.6 149.7 955.7 153.7 955.2 155.2" fill="none" stroke="#4f7282" stroke-width="2.0" stroke-linecap="round" stroke-linejoin="round"/><path d="M955.2 136.2C955.7 137.9 958.6 143.4 958.6 146.6C958.6 149.7 955.7 153.7 955.2 155.2" fill="none" stroke="#9fc2d3" stroke-width="0.9" stroke-linecap="round"/>
<path d="M994.8 148.3C996.3 149.4 1001.4 152.9 1003.4 155.2C1005.5 157.5 1007.5 160.1 1006.9 162.1C1006.3 164.1 1001.1 166.4 1000.0 167.2" fill="none" stroke="#4f7282" stroke-width="2.0" stroke-linecap="round" stroke-linejoin="round"/><path d="M994.8 148.3C996.3 149.4 1001.4 152.9 1003.4 155.2C1005.5 157.5 1007.5 160.1 1006.9 162.1C1006.3 164.1 1001.1 166.4 1000.0 167.2" fill="none" stroke="#9fc2d3" stroke-width="0.9" stroke-linecap="round"/>
<path d="M1005.2 119.0C1004.3 119.8 1001.4 122.4 1000.0 124.1C998.6 125.9 997.1 128.4 996.6 129.3" fill="none" stroke="#4f7282" stroke-width="2.0" stroke-linecap="round" stroke-linejoin="round"/><path d="M1005.2 119.0C1004.3 119.8 1001.4 122.4 1000.0 124.1C998.6 125.9 997.1 128.4 996.6 129.3" fill="none" stroke="#9fc2d3" stroke-width="0.9" stroke-linecap="round"/>
<path d="M951.7 125.9C952.0 127.9 952.3 134.8 953.4 137.9C954.6 141.1 957.8 143.7 958.6 144.8" fill="none" stroke="#4f7282" stroke-width="2.0" stroke-linecap="round" stroke-linejoin="round"/><path d="M951.7 125.9C952.0 127.9 952.3 134.8 953.4 137.9C954.6 141.1 957.8 143.7 958.6 144.8" fill="none" stroke="#9fc2d3" stroke-width="0.9" stroke-linecap="round"/>
<path d="M960.3 151.7C961.5 153.2 964.7 158.0 967.2 160.3C969.8 162.6 973.9 163.5 975.9 165.5C977.9 167.5 978.7 171.3 979.3 172.4" fill="none" stroke="#4f7282" stroke-width="2.0" stroke-linecap="round" stroke-linejoin="round"/><path d="M960.3 151.7C961.5 153.2 964.7 158.0 967.2 160.3C969.8 162.6 973.9 163.5 975.9 165.5C977.9 167.5 978.7 171.3 979.3 172.4" fill="none" stroke="#9fc2d3" stroke-width="0.9" stroke-linecap="round"/>
<path d="M993.1 144.8L998.3 151.7" fill="none" stroke="#a0a0a0" stroke-width="4.7" stroke-linecap="butt" stroke-linejoin="round"/><path d="M993.1 144.8L998.3 151.7" fill="none" stroke="#c4c4c4" stroke-width="3.6" stroke-linecap="butt" stroke-linejoin="round"/>
<path d="M958.6 141.4L960.3 155.2" fill="none" stroke="#a0a0a0" stroke-width="4.7" stroke-linecap="butt" stroke-linejoin="round"/><path d="M958.6 141.4L960.3 155.2" fill="none" stroke="#c4c4c4" stroke-width="3.6" stroke-linecap="butt" stroke-linejoin="round"/>
<path d="M975.9 134.5C977.6 133.0 982.5 129.0 986.2 125.9C989.9 122.7 996.3 117.2 998.3 115.5" fill="none" stroke="#456778" stroke-width="5.6" stroke-linecap="butt" stroke-linejoin="round"/><path d="M975.9 134.5C977.6 133.0 982.5 129.0 986.2 125.9C989.9 122.7 996.3 117.2 998.3 115.5" fill="none" stroke="#8fbad0" stroke-width="4.5" stroke-linecap="butt" stroke-linejoin="round"/><path d="M995.6 123.4L999.4 114.5L990.0 117.0Z" fill="#8fbad0" stroke="#456778" stroke-width="0.8" stroke-linejoin="round"/>
<path d="M962.1 134.5C963.2 133.3 966.7 129.3 969.0 127.6C971.3 125.9 974.7 124.7 975.9 124.1" fill="none" stroke="#456778" stroke-width="5.2" stroke-linecap="butt" stroke-linejoin="round"/><path d="M962.1 134.5C963.2 133.3 966.7 129.3 969.0 127.6C971.3 125.9 974.7 124.7 975.9 124.1" fill="none" stroke="#8fbad0" stroke-width="4.1" stroke-linecap="butt" stroke-linejoin="round"/><path d="M973.5 129.7L977.2 123.5L970.0 122.7Z" fill="#8fbad0" stroke="#456778" stroke-width="0.8" stroke-linejoin="round"/>
<path d="M991.4 137.9L996.6 129.3" fill="none" stroke="#456778" stroke-width="4.7" stroke-linecap="butt" stroke-linejoin="round"/><path d="M991.4 137.9L996.6 129.3" fill="none" stroke="#8fbad0" stroke-width="3.6" stroke-linecap="butt" stroke-linejoin="round"/>
<path d="M998.3 132.8C999.4 133.6 1003.7 135.9 1005.2 137.9C1006.6 139.9 1007.8 143.1 1006.9 144.8C1006.0 146.6 1001.1 147.7 1000.0 148.3" fill="none" stroke="#456778" stroke-width="5.6" stroke-linecap="butt" stroke-linejoin="round"/><path d="M998.3 132.8C999.4 133.6 1003.7 135.9 1005.2 137.9C1006.6 139.9 1007.8 143.1 1006.9 144.8C1006.0 146.6 1001.1 147.7 1000.0 148.3" fill="none" stroke="#8fbad0" stroke-width="4.5" stroke-linecap="butt" stroke-linejoin="round"/>
<path d="M967.2 148.3C967.8 149.4 970.4 153.2 970.7 155.2C971.0 157.2 969.3 159.5 969.0 160.3" fill="none" stroke="#456778" stroke-width="4.7" stroke-linecap="butt" stroke-linejoin="round"/><path d="M967.2 148.3C967.8 149.4 970.4 153.2 970.7 155.2C971.0 157.2 969.3 159.5 969.0 160.3" fill="none" stroke="#8fbad0" stroke-width="3.6" stroke-linecap="butt" stroke-linejoin="round"/>
<path d="M979.3 163.8C980.7 164.1 985.6 166.1 987.9 165.5C990.2 164.9 992.2 161.2 993.1 160.3" fill="none" stroke="#456778" stroke-width="5.6" stroke-linecap="butt" stroke-linejoin="round"/><path d="M979.3 163.8C980.7 164.1 985.6 166.1 987.9 165.5C990.2 164.9 992.2 161.2 993.1 160.3" fill="none" stroke="#8fbad0" stroke-width="4.5" stroke-linecap="butt" stroke-linejoin="round"/>
<path d="M989.7 155.2C990.8 156.0 994.0 159.5 996.6 160.3C999.1 161.2 1003.7 160.3 1005.2 160.3" fill="none" stroke="#456778" stroke-width="4.3" stroke-linecap="butt" stroke-linejoin="round"/><path d="M989.7 155.2C990.8 156.0 994.0 159.5 996.6 160.3C999.1 161.2 1003.7 160.3 1005.2 160.3" fill="none" stroke="#8fbad0" stroke-width="3.2" stroke-linecap="butt" stroke-linejoin="round"/>
<path d="M920.0 168.4C922.3 169.3 929.5 171.9 933.8 173.6C938.1 175.3 943.9 177.9 945.9 178.8" fill="none" stroke="#7c7d5c" stroke-width="4.7" stroke-linecap="butt" stroke-linejoin="round"/><path d="M920.0 168.4C922.3 169.3 929.5 171.9 933.8 173.6C938.1 175.3 943.9 177.9 945.9 178.8" fill="none" stroke="#d9dcab" stroke-width="3.6" stroke-linecap="butt" stroke-linejoin="round"/>
<path d="M930.3 165.0C932.1 166.1 937.0 170.2 940.7 171.9C944.4 173.6 950.7 174.8 952.8 175.3" fill="none" stroke="#7c7d5c" stroke-width="4.7" stroke-linecap="butt" stroke-linejoin="round"/><path d="M930.3 165.0C932.1 166.1 937.0 170.2 940.7 171.9C944.4 173.6 950.7 174.8 952.8 175.3" fill="none" stroke="#d9dcab" stroke-width="3.6" stroke-linecap="butt" stroke-linejoin="round"/>
<path d="M942.4 165.0C943.6 166.1 947.3 170.2 949.3 171.9C951.3 173.6 953.6 174.8 954.5 175.3" fill="none" stroke="#7c7d5c" stroke-width="4.3" stroke-linecap="butt" stroke-linejoin="round"/><path d="M942.4 165.0C943.6 166.1 947.3 170.2 949.3 171.9C951.3 173.6 953.6 174.8 954.5 175.3" fill="none" stroke="#d9dcab" stroke-width="3.2" stroke-linecap="butt" stroke-linejoin="round"/>
<path d="M925.2 178.8C926.6 180.2 930.3 185.1 933.8 187.4C937.2 189.7 943.3 190.9 945.9 192.6C948.4 194.3 948.7 196.9 949.3 197.8" fill="none" stroke="#85866a" stroke-width="2.0" stroke-linecap="round" stroke-linejoin="round"/><path d="M925.2 178.8C926.6 180.2 930.3 185.1 933.8 187.4C937.2 189.7 943.3 190.9 945.9 192.6C948.4 194.3 948.7 196.9 949.3 197.8" fill="none" stroke="#d8d9b0" stroke-width="0.9" stroke-linecap="round"/>
<path d="M930.3 185.7C931.5 187.1 934.4 192.3 937.2 194.3C940.1 196.3 945.9 197.2 947.6 197.8" fill="none" stroke="#85866a" stroke-width="2.0" stroke-linecap="round" stroke-linejoin="round"/><path d="M930.3 185.7C931.5 187.1 934.4 192.3 937.2 194.3C940.1 196.3 945.9 197.2 947.6 197.8" fill="none" stroke="#d8d9b0" stroke-width="0.9" stroke-linecap="round"/>
<path d="M954.5 182.2C955.1 184.0 956.8 190.0 957.9 192.6C959.1 195.2 959.4 196.9 961.4 197.8C963.4 198.6 968.0 196.9 970.0 197.8C972.0 198.6 973.7 201.5 973.4 202.9C973.2 204.4 970.3 206.4 968.3 206.4C966.3 206.4 962.5 203.5 961.4 202.9" fill="none" stroke="#85866a" stroke-width="2.0" stroke-linecap="round" stroke-linejoin="round"/><path d="M954.5 182.2C955.1 184.0 956.8 190.0 957.9 192.6C959.1 195.2 959.4 196.9 961.4 197.8C963.4 198.6 968.0 196.9 970.0 197.8C972.0 198.6 973.7 201.5 973.4 202.9C973.2 204.4 970.3 206.4 968.3 206.4C966.3 206.4 962.5 203.5 961.4 202.9" fill="none" stroke="#d8d9b0" stroke-width="0.9" stroke-linecap="round"/>
<path d="M959.7 165.0C959.9 166.7 960.5 171.9 961.4 175.3C962.2 178.8 963.1 183.1 964.8 185.7C966.6 188.3 970.0 190.6 971.7 190.9C973.4 191.1 974.6 189.4 975.2 187.4C975.7 185.4 976.6 181.1 975.2 178.8C973.7 176.5 968.0 174.5 966.6 173.6" fill="none" stroke="#4f7282" stroke-width="2.0" stroke-linecap="round" stroke-linejoin="round"/><path d="M959.7 165.0C959.9 166.7 960.5 171.9 961.4 175.3C962.2 178.8 963.1 183.1 964.8 185.7C966.6 188.3 970.0 190.6 971.7 190.9C973.4 191.1 974.6 189.4 975.2 187.4C975.7 185.4 976.6 181.1 975.2 178.8C973.7 176.5 968.0 174.5 966.6 173.6" fill="none" stroke="#9fc2d3" stroke-width="0.9" stroke-linecap="round"/>
<path d="M1023.4 189.1L1037.2 197.8" fill="none" stroke="#a0a0a0" stroke-width="4.7" stroke-linecap="butt" stroke-linejoin="round"/><path d="M1023.4 189.1L1037.2 197.8" fill="none" stroke="#c4c4c4" stroke-width="3.6" stroke-linecap="butt" stroke-linejoin="round"/>
<path d="M982.1 175.3C983.8 175.9 989.8 177.4 992.4 178.8C995.0 180.2 998.2 182.5 997.6 184.0C997.0 185.4 991.0 187.7 989.0 187.4C987.0 187.1 986.1 183.1 985.5 182.2" fill="none" stroke="#7a4746" stroke-width="2.4" stroke-linecap="round" stroke-linejoin="round"/><path d="M982.1 175.3C983.8 175.9 989.8 177.4 992.4 178.8C995.0 180.2 998.2 182.5 997.6 184.0C997.0 185.4 991.0 187.7 989.0 187.4C987.0 187.1 986.1 183.1 985.5 182.2" fill="none" stroke="#e9a4a2" stroke-width="1.3" stroke-linecap="round"/>
<path d="M968.3 221.9C969.4 220.7 973.2 217.6 975.2 215.0C977.2 212.4 978.0 209.3 980.3 206.4C982.6 203.5 985.2 199.2 989.0 197.8C992.7 196.3 999.3 196.9 1002.8 197.8C1006.2 198.6 1008.5 202.1 1009.7 202.9" fill="none" stroke="#7a4746" stroke-width="2.4" stroke-linecap="round" stroke-linejoin="round"/><path d="M968.3 221.9C969.4 220.7 973.2 217.6 975.2 215.0C977.2 212.4 978.0 209.3 980.3 206.4C982.6 203.5 985.2 199.2 989.0 197.8C992.7 196.3 999.3 196.9 1002.8 197.8C1006.2 198.6 1008.5 202.1 1009.7 202.9" fill="none" stroke="#e9a4a2" stroke-width="1.3" stroke-linecap="round"/>
<path d="M947.6 220.2C949.0 219.9 953.9 218.2 956.2 218.4C958.5 218.7 960.2 219.9 961.4 221.9C962.5 223.9 962.8 229.1 963.1 230.5" fill="none" stroke="#7a4746" stroke-width="2.4" stroke-linecap="round" stroke-linejoin="round"/><path d="M947.6 220.2C949.0 219.9 953.9 218.2 956.2 218.4C958.5 218.7 960.2 219.9 961.4 221.9C962.5 223.9 962.8 229.1 963.1 230.5" fill="none" stroke="#e9a4a2" stroke-width="1.3" stroke-linecap="round"/>
<path d="M959.7 216.7C960.8 216.4 964.5 214.7 966.6 215.0C968.6 215.3 970.9 217.9 971.7 218.4" fill="none" stroke="#7a4746" stroke-width="2.4" stroke-linecap="round" stroke-linejoin="round"/><path d="M959.7 216.7C960.8 216.4 964.5 214.7 966.6 215.0C968.6 215.3 970.9 217.9 971.7 218.4" fill="none" stroke="#e9a4a2" stroke-width="1.3" stroke-linecap="round"/>
<path d="M971.7 209.8C972.9 209.0 975.2 205.8 978.6 204.7C982.1 203.5 987.8 202.4 992.4 202.9C997.0 203.5 1003.9 207.2 1006.2 208.1" fill="none" stroke="#9a9a9a" stroke-width="1.8" stroke-linecap="round" stroke-linejoin="round"/><path d="M971.7 209.8C972.9 209.0 975.2 205.8 978.6 204.7C982.1 203.5 987.8 202.4 992.4 202.9C997.0 203.5 1003.9 207.2 1006.2 208.1" fill="none" stroke="#e6e6e6" stroke-width="0.7" stroke-linecap="round"/>
<path d="M985.5 213.3C986.7 212.7 989.8 209.5 992.4 209.8C995.0 210.1 999.3 212.7 1001.0 215.0C1002.8 217.3 1003.6 221.3 1002.8 223.6C1001.9 225.9 997.0 227.9 995.9 228.8" fill="none" stroke="#7a4746" stroke-width="2.4" stroke-linecap="round" stroke-linejoin="round"/><path d="M985.5 213.3C986.7 212.7 989.8 209.5 992.4 209.8C995.0 210.1 999.3 212.7 1001.0 215.0C1002.8 217.3 1003.6 221.3 1002.8 223.6C1001.9 225.9 997.0 227.9 995.9 228.8" fill="none" stroke="#e9a4a2" stroke-width="1.3" stroke-linecap="round"/>
<path d="M1026.9 202.9C1028.0 203.5 1031.8 204.7 1033.8 206.4C1035.8 208.1 1038.1 212.1 1039.0 213.3" fill="none" stroke="#7a4746" stroke-width="2.4" stroke-linecap="round" stroke-linejoin="round"/><path d="M1026.9 202.9C1028.0 203.5 1031.8 204.7 1033.8 206.4C1035.8 208.1 1038.1 212.1 1039.0 213.3" fill="none" stroke="#e9a4a2" stroke-width="1.3" stroke-linecap="round"/>
<path d="M942.4 230.5C943.0 232.2 944.4 238.4 945.9 240.9C947.3 243.3 950.2 244.3 951.0 245.0" fill="none" stroke="#70403f" stroke-width="4.9" stroke-linecap="butt" stroke-linejoin="round"/><path d="M942.4 230.5C943.0 232.2 944.4 238.4 945.9 240.9C947.3 243.3 950.2 244.3 951.0 245.0" fill="none" stroke="#ec9d9b" stroke-width="3.8" stroke-linecap="butt" stroke-linejoin="round"/>
<path d="M980.3 230.5C982.6 229.9 989.8 228.2 994.1 227.1C998.4 225.9 1004.2 224.2 1006.2 223.6" fill="none" stroke="#a0a0a0" stroke-width="4.9" stroke-linecap="butt" stroke-linejoin="round"/><path d="M980.3 230.5C982.6 229.9 989.8 228.2 994.1 227.1C998.4 225.9 1004.2 224.2 1006.2 223.6" fill="none" stroke="#c4c4c4" stroke-width="3.8" stroke-linecap="butt" stroke-linejoin="round"/>
<path d="M1013.1 234.0C1016.0 232.0 1025.9 224.8 1030.3 221.9C1034.8 219.0 1038.4 217.6 1040.0 216.7" fill="none" stroke="#70403f" stroke-width="5.1" stroke-linecap="butt" stroke-linejoin="round"/><path d="M1013.1 234.0C1016.0 232.0 1025.9 224.8 1030.3 221.9C1034.8 219.0 1038.4 217.6 1040.0 216.7" fill="none" stroke="#ec9d9b" stroke-width="4.0" stroke-linecap="butt" stroke-linejoin="round"/>
<path d="M1016.6 240.9C1019.1 239.1 1028.2 232.8 1032.1 230.5C1036.0 228.2 1038.7 227.6 1040.0 227.1" fill="none" stroke="#70403f" stroke-width="5.1" stroke-linecap="butt" stroke-linejoin="round"/><path d="M1016.6 240.9C1019.1 239.1 1028.2 232.8 1032.1 230.5C1036.0 228.2 1038.7 227.6 1040.0 227.1" fill="none" stroke="#ec9d9b" stroke-width="4.0" stroke-linecap="butt" stroke-linejoin="round"/>
<path d="M976.9 220.2C978.3 221.3 982.4 225.3 985.5 227.1C988.7 228.8 994.1 229.9 995.9 230.5" fill="none" stroke="#6a3e3e" stroke-width="4.7" stroke-linecap="butt" stroke-linejoin="round"/><path d="M976.9 220.2C978.3 221.3 982.4 225.3 985.5 227.1C988.7 228.8 994.1 229.9 995.9 230.5" fill="none" stroke="#bb8e8d" stroke-width="3.6" stroke-linecap="butt" stroke-linejoin="round"/>
<path d="M926.9 236.7C926.6 238.2 924.6 242.5 925.2 245.3C925.7 248.2 928.0 251.7 930.3 254.0C932.6 256.3 936.1 257.7 939.0 259.1C941.8 260.6 946.1 262.0 947.6 262.6" fill="none" stroke="#7a4746" stroke-width="2.4" stroke-linecap="round" stroke-linejoin="round"/><path d="M926.9 236.7C926.6 238.2 924.6 242.5 925.2 245.3C925.7 248.2 928.0 251.7 930.3 254.0C932.6 256.3 936.1 257.7 939.0 259.1C941.8 260.6 946.1 262.0 947.6 262.6" fill="none" stroke="#e9a4a2" stroke-width="1.3" stroke-linecap="round"/>
<path d="M921.7 255.7C922.3 257.1 922.9 262.3 925.2 264.3C927.5 266.3 932.6 266.0 935.5 267.8C938.4 269.5 941.3 273.5 942.4 274.7" fill="none" stroke="#7a4746" stroke-width="2.4" stroke-linecap="round" stroke-linejoin="round"/><path d="M921.7 255.7C922.3 257.1 922.9 262.3 925.2 264.3C927.5 266.3 932.6 266.0 935.5 267.8C938.4 269.5 941.3 273.5 942.4 274.7" fill="none" stroke="#e9a4a2" stroke-width="1.3" stroke-linecap="round"/>
<path d="M944.1 278.1C944.7 279.3 945.9 283.6 947.6 285.0C949.3 286.4 953.3 286.4 954.5 286.7" fill="none" stroke="#7a4746" stroke-width="2.4" stroke-linecap="round" stroke-linejoin="round"/><path d="M944.1 278.1C944.7 279.3 945.9 283.6 947.6 285.0C949.3 286.4 953.3 286.4 954.5 286.7" fill="none" stroke="#e9a4a2" stroke-width="1.3" stroke-linecap="round"/>
<path d="M947.6 295.3C947.3 296.8 944.7 302.0 945.9 304.0C947.0 306.0 951.6 307.4 954.5 307.4C957.4 307.4 961.7 304.5 963.1 304.0" fill="none" stroke="#7a4746" stroke-width="2.4" stroke-linecap="round" stroke-linejoin="round"/><path d="M947.6 295.3C947.3 296.8 944.7 302.0 945.9 304.0C947.0 306.0 951.6 307.4 954.5 307.4C957.4 307.4 961.7 304.5 963.1 304.0" fill="none" stroke="#e9a4a2" stroke-width="1.3" stroke-linecap="round"/>
<path d="M995.9 300.5C996.4 301.7 998.2 306.0 999.3 307.4C1000.5 308.9 1002.2 308.9 1002.8 309.1" fill="none" stroke="#7a4746" stroke-width="2.4" stroke-linecap="round" stroke-linejoin="round"/><path d="M995.9 300.5C996.4 301.7 998.2 306.0 999.3 307.4C1000.5 308.9 1002.2 308.9 1002.8 309.1" fill="none" stroke="#e9a4a2" stroke-width="1.3" stroke-linecap="round"/>
<path d="M1023.4 291.9C1024.9 292.2 1029.8 293.9 1032.1 293.6C1034.4 293.3 1036.4 290.7 1037.2 290.2" fill="none" stroke="#7a4746" stroke-width="2.4" stroke-linecap="round" stroke-linejoin="round"/><path d="M1023.4 291.9C1024.9 292.2 1029.8 293.9 1032.1 293.6C1034.4 293.3 1036.4 290.7 1037.2 290.2" fill="none" stroke="#e9a4a2" stroke-width="1.3" stroke-linecap="round"/>
<path d="M930.3 241.9C931.5 243.3 934.7 248.2 937.2 250.5C939.8 252.8 944.4 254.8 945.9 255.7" fill="none" stroke="#9a9a9a" stroke-width="1.8" stroke-linecap="round" stroke-linejoin="round"/><path d="M930.3 241.9C931.5 243.3 934.7 248.2 937.2 250.5C939.8 252.8 944.4 254.8 945.9 255.7" fill="none" stroke="#e6e6e6" stroke-width="0.7" stroke-linecap="round"/>
<path d="M954.5 269.5C956.2 268.9 962.0 267.5 964.8 266.0C967.7 264.6 970.6 261.7 971.7 260.9" fill="none" stroke="#9a9a9a" stroke-width="1.8" stroke-linecap="round" stroke-linejoin="round"/><path d="M954.5 269.5C956.2 268.9 962.0 267.5 964.8 266.0C967.7 264.6 970.6 261.7 971.7 260.9" fill="none" stroke="#e6e6e6" stroke-width="0.7" stroke-linecap="round"/>
<path d="M963.1 260.9C965.4 260.3 972.6 258.0 976.9 257.4C981.2 256.8 987.0 257.4 989.0 257.4" fill="none" stroke="#a0a0a0" stroke-width="4.9" stroke-linecap="butt" stroke-linejoin="round"/><path d="M963.1 260.9C965.4 260.3 972.6 258.0 976.9 257.4C981.2 256.8 987.0 257.4 989.0 257.4" fill="none" stroke="#c4c4c4" stroke-width="3.8" stroke-linecap="butt" stroke-linejoin="round"/>
<path d="M968.3 269.5C971.1 269.2 980.6 267.8 985.5 267.8C990.4 267.8 995.6 269.2 997.6 269.5" fill="none" stroke="#a0a0a0" stroke-width="4.9" stroke-linecap="butt" stroke-linejoin="round"/><path d="M968.3 269.5C971.1 269.2 980.6 267.8 985.5 267.8C990.4 267.8 995.6 269.2 997.6 269.5" fill="none" stroke="#c4c4c4" stroke-width="3.8" stroke-linecap="butt" stroke-linejoin="round"/>
<path d="M1007.9 274.7C1009.9 274.9 1016.0 276.4 1020.0 276.4C1024.0 276.4 1030.1 274.9 1032.1 274.7" fill="none" stroke="#a0a0a0" stroke-width="4.9" stroke-linecap="butt" stroke-linejoin="round"/><path d="M1007.9 274.7C1009.9 274.9 1016.0 276.4 1020.0 276.4C1024.0 276.4 1030.1 274.9 1032.1 274.7" fill="none" stroke="#c4c4c4" stroke-width="3.8" stroke-linecap="butt" stroke-linejoin="round"/>
<path d="M1016.6 252.2L1030.3 259.1" fill="none" stroke="#a0a0a0" stroke-width="4.9" stroke-linecap="butt" stroke-linejoin="round"/><path d="M1016.6 252.2L1030.3 259.1" fill="none" stroke="#c4c4c4" stroke-width="3.8" stroke-linecap="butt" stroke-linejoin="round"/>
<path d="M942.4 235.0C942.7 236.7 942.7 241.9 944.1 245.3C945.6 248.8 949.9 254.0 951.0 255.7" fill="none" stroke="#70403f" stroke-width="5.6" stroke-linecap="butt" stroke-linejoin="round"/><path d="M942.4 235.0C942.7 236.7 942.7 241.9 944.1 245.3C945.6 248.8 949.9 254.0 951.0 255.7" fill="none" stroke="#ec9d9b" stroke-width="4.5" stroke-linecap="butt" stroke-linejoin="round"/>
<path d="M954.5 241.9C956.2 243.3 960.5 248.5 964.8 250.5C969.1 252.5 976.3 254.0 980.3 254.0C984.4 254.0 987.5 251.1 989.0 250.5" fill="none" stroke="#6a3e3e" stroke-width="4.9" stroke-linecap="butt" stroke-linejoin="round"/><path d="M954.5 241.9C956.2 243.3 960.5 248.5 964.8 250.5C969.1 252.5 976.3 254.0 980.3 254.0C984.4 254.0 987.5 251.1 989.0 250.5" fill="none" stroke="#bb8e8d" stroke-width="3.8" stroke-linecap="butt" stroke-linejoin="round"/>
<path d="M971.7 252.2C973.4 251.7 978.3 249.9 982.1 248.8C985.8 247.6 992.1 245.9 994.1 245.3" fill="none" stroke="#70403f" stroke-width="4.9" stroke-linecap="butt" stroke-linejoin="round"/><path d="M971.7 252.2C973.4 251.7 978.3 249.9 982.1 248.8C985.8 247.6 992.1 245.9 994.1 245.3" fill="none" stroke="#ec9d9b" stroke-width="3.8" stroke-linecap="butt" stroke-linejoin="round"/>
<path d="M942.4 274.7C945.9 274.7 956.8 274.1 963.1 274.7C969.4 275.2 975.5 277.2 980.3 278.1C985.2 279.0 990.4 279.5 992.4 279.8" fill="none" stroke="#6a3e3e" stroke-width="5.1" stroke-linecap="butt" stroke-linejoin="round"/><path d="M942.4 274.7C945.9 274.7 956.8 274.1 963.1 274.7C969.4 275.2 975.5 277.2 980.3 278.1C985.2 279.0 990.4 279.5 992.4 279.8" fill="none" stroke="#bb8e8d" stroke-width="4.0" stroke-linecap="butt" stroke-linejoin="round"/><path d="M985.6 282.7L993.9 280.0L986.7 275.2Z" fill="#bb8e8d" stroke="#6a3e3e" stroke-width="0.8" stroke-linejoin="round"/>
<path d="M954.5 279.8C957.4 280.1 966.0 280.7 971.7 281.6C977.5 282.4 983.2 284.1 989.0 285.0C994.7 285.9 1003.3 286.4 1006.2 286.7" fill="none" stroke="#70403f" stroke-width="4.9" stroke-linecap="butt" stroke-linejoin="round"/><path d="M954.5 279.8C957.4 280.1 966.0 280.7 971.7 281.6C977.5 282.4 983.2 284.1 989.0 285.0C994.7 285.9 1003.3 286.4 1006.2 286.7" fill="none" stroke="#ec9d9b" stroke-width="3.8" stroke-linecap="butt" stroke-linejoin="round"/>
<path d="M982.1 285.0C984.9 284.4 993.6 282.1 999.3 281.6C1005.1 281.0 1013.7 281.6 1016.6 281.6" fill="none" stroke="#6a3e3e" stroke-width="4.9" stroke-linecap="butt" stroke-linejoin="round"/><path d="M982.1 285.0C984.9 284.4 993.6 282.1 999.3 281.6C1005.1 281.0 1013.7 281.6 1016.6 281.6" fill="none" stroke="#bb8e8d" stroke-width="3.8" stroke-linecap="butt" stroke-linejoin="round"/>
<path d="M951.0 293.6C955.1 293.6 967.4 293.6 975.2 293.6C982.9 293.6 990.7 293.9 997.6 293.6C1004.5 293.3 1013.4 292.2 1016.6 291.9" fill="none" stroke="#70403f" stroke-width="5.1" stroke-linecap="butt" stroke-linejoin="round"/><path d="M951.0 293.6C955.1 293.6 967.4 293.6 975.2 293.6C982.9 293.6 990.7 293.9 997.6 293.6C1004.5 293.3 1013.4 292.2 1016.6 291.9" fill="none" stroke="#ec9d9b" stroke-width="4.0" stroke-linecap="butt" stroke-linejoin="round"/>
<path d="M954.5 307.4C957.4 306.8 965.4 305.1 971.7 304.0C978.0 302.8 985.8 301.4 992.4 300.5C999.0 299.7 1008.2 299.1 1011.4 298.8" fill="none" stroke="#70403f" stroke-width="5.1" stroke-linecap="butt" stroke-linejoin="round"/><path d="M954.5 307.4C957.4 306.8 965.4 305.1 971.7 304.0C978.0 302.8 985.8 301.4 992.4 300.5C999.0 299.7 1008.2 299.1 1011.4 298.8" fill="none" stroke="#ec9d9b" stroke-width="4.0" stroke-linecap="butt" stroke-linejoin="round"/>
<path d="M1009.7 235.0C1011.4 236.1 1017.1 239.3 1020.0 241.9C1022.9 244.5 1025.7 249.1 1026.9 250.5" fill="none" stroke="#70403f" stroke-width="4.9" stroke-linecap="butt" stroke-linejoin="round"/><path d="M1009.7 235.0C1011.4 236.1 1017.1 239.3 1020.0 241.9C1022.9 244.5 1025.7 249.1 1026.9 250.5" fill="none" stroke="#ec9d9b" stroke-width="3.8" stroke-linecap="butt" stroke-linejoin="round"/>
<path d="M1006.2 269.5C1008.5 268.0 1015.4 263.7 1020.0 260.9C1024.6 258.0 1031.5 253.7 1033.8 252.2" fill="none" stroke="#70403f" stroke-width="4.9" stroke-linecap="butt" stroke-linejoin="round"/><path d="M1006.2 269.5C1008.5 268.0 1015.4 263.7 1020.0 260.9C1024.6 258.0 1031.5 253.7 1033.8 252.2" fill="none" stroke="#ec9d9b" stroke-width="3.8" stroke-linecap="butt" stroke-linejoin="round"/>
<path d="M1009.7 278.1C1012.0 276.7 1018.9 272.1 1023.4 269.5C1028.0 266.9 1034.9 263.7 1037.2 262.6" fill="none" stroke="#70403f" stroke-width="4.9" stroke-linecap="butt" stroke-linejoin="round"/><path d="M1009.7 278.1C1012.0 276.7 1018.9 272.1 1023.4 269.5C1028.0 266.9 1034.9 263.7 1037.2 262.6" fill="none" stroke="#ec9d9b" stroke-width="3.8" stroke-linecap="butt" stroke-linejoin="round"/>
<path d="M1016.6 281.6C1018.9 279.8 1026.4 273.8 1030.3 271.2C1034.3 268.6 1038.4 266.9 1040.0 266.0" fill="none" stroke="#70403f" stroke-width="4.9" stroke-linecap="butt" stroke-linejoin="round"/><path d="M1016.6 281.6C1018.9 279.8 1026.4 273.8 1030.3 271.2C1034.3 268.6 1038.4 266.9 1040.0 266.0" fill="none" stroke="#ec9d9b" stroke-width="3.8" stroke-linecap="butt" stroke-linejoin="round"/>
<path d="M1023.4 236.7C1024.9 237.6 1029.3 240.5 1032.1 241.9C1034.8 243.3 1038.7 244.8 1040.0 245.3" fill="none" stroke="#70403f" stroke-width="4.9" stroke-linecap="butt" stroke-linejoin="round"/><path d="M1023.4 236.7C1024.9 237.6 1029.3 240.5 1032.1 241.9C1034.8 243.3 1038.7 244.8 1040.0 245.3" fill="none" stroke="#ec9d9b" stroke-width="3.8" stroke-linecap="butt" stroke-linejoin="round"/>
<path d="M961.4 269.5C964.0 268.6 971.7 265.7 976.9 264.3C982.1 262.9 989.8 261.4 992.4 260.9" fill="none" stroke="#6a3e3e" stroke-width="4.7" stroke-linecap="butt" stroke-linejoin="round"/><path d="M961.4 269.5C964.0 268.6 971.7 265.7 976.9 264.3C982.1 262.9 989.8 261.4 992.4 260.9" fill="none" stroke="#bb8e8d" stroke-width="3.6" stroke-linecap="butt" stroke-linejoin="round"/>
<path d="M1045.2 227.1C1046.9 228.2 1054.4 230.5 1055.5 234.0C1056.7 237.4 1054.4 244.3 1052.1 247.8C1049.8 251.2 1043.4 253.5 1041.7 254.7" fill="none" stroke="#7a4746" stroke-width="2.4" stroke-linecap="round" stroke-linejoin="round"/><path d="M1045.2 227.1C1046.9 228.2 1054.4 230.5 1055.5 234.0C1056.7 237.4 1054.4 244.3 1052.1 247.8C1049.8 251.2 1043.4 253.5 1041.7 254.7" fill="none" stroke="#e9a4a2" stroke-width="1.3" stroke-linecap="round"/>
<path d="M1041.7 258.1C1044.0 259.3 1054.4 261.6 1055.5 265.0C1056.7 268.4 1049.8 276.5 1048.6 278.8" fill="none" stroke="#7a4746" stroke-width="2.4" stroke-linecap="round" stroke-linejoin="round"/><path d="M1041.7 258.1C1044.0 259.3 1054.4 261.6 1055.5 265.0C1056.7 268.4 1049.8 276.5 1048.6 278.8" fill="none" stroke="#e9a4a2" stroke-width="1.3" stroke-linecap="round"/>
<path d="M1038.3 220.2C1040.6 219.6 1048.6 215.6 1052.1 216.7C1055.5 217.9 1057.8 225.3 1059.0 227.1" fill="none" stroke="#9a9a9a" stroke-width="1.8" stroke-linecap="round" stroke-linejoin="round"/><path d="M1038.3 220.2C1040.6 219.6 1048.6 215.6 1052.1 216.7C1055.5 217.9 1057.8 225.3 1059.0 227.1" fill="none" stroke="#e6e6e6" stroke-width="0.7" stroke-linecap="round"/>
<path d="M1024.5 296.0C1026.2 297.2 1032.0 302.4 1034.8 302.9C1037.7 303.5 1040.6 300.1 1041.7 299.5" fill="none" stroke="#7a4746" stroke-width="2.4" stroke-linecap="round" stroke-linejoin="round"/><path d="M1024.5 296.0C1026.2 297.2 1032.0 302.4 1034.8 302.9C1037.7 303.5 1040.6 300.1 1041.7 299.5" fill="none" stroke="#e9a4a2" stroke-width="1.3" stroke-linecap="round"/>
<path d="M1014.1 234.0L1038.3 223.6" fill="none" stroke="#70403f" stroke-width="4.9" stroke-linecap="butt" stroke-linejoin="round"/><path d="M1014.1 234.0L1038.3 223.6" fill="none" stroke="#ec9d9b" stroke-width="3.8" stroke-linecap="butt" stroke-linejoin="round"/>
<path d="M1010.7 254.7L1041.7 234.0" fill="none" stroke="#70403f" stroke-width="4.9" stroke-linecap="butt" stroke-linejoin="round"/><path d="M1010.7 254.7L1041.7 234.0" fill="none" stroke="#ec9d9b" stroke-width="3.8" stroke-linecap="butt" stroke-linejoin="round"/>
<path d="M1024.5 278.8L1045.2 254.7" fill="none" stroke="#70403f" stroke-width="4.9" stroke-linecap="butt" stroke-linejoin="round"/><path d="M1024.5 278.8L1045.2 254.7" fill="none" stroke="#ec9d9b" stroke-width="3.8" stroke-linecap="butt" stroke-linejoin="round"/>
<path d="M996.9 289.1C1001.5 288.0 1017.0 284.5 1024.5 282.2C1032.0 279.9 1038.9 276.5 1041.7 275.3" fill="none" stroke="#6a3e3e" stroke-width="4.9" stroke-linecap="butt" stroke-linejoin="round"/><path d="M996.9 289.1C1001.5 288.0 1017.0 284.5 1024.5 282.2C1032.0 279.9 1038.9 276.5 1041.7 275.3" fill="none" stroke="#bb8e8d" stroke-width="3.8" stroke-linecap="butt" stroke-linejoin="round"/>
<path d="M981.0 176.2C982.9 177.0 988.8 179.9 992.3 181.0C995.8 182.1 1000.4 182.4 1002.0 182.6" fill="none" stroke="#7a4746" stroke-width="2.4" stroke-linecap="round" stroke-linejoin="round"/><path d="M981.0 176.2C982.9 177.0 988.8 179.9 992.3 181.0C995.8 182.1 1000.4 182.4 1002.0 182.6" fill="none" stroke="#e9a4a2" stroke-width="1.3" stroke-linecap="round"/>
<path d="M984.2 179.4C985.3 180.7 987.7 186.1 990.7 187.5C993.7 188.8 1000.1 187.5 1002.0 187.5" fill="none" stroke="#7a4746" stroke-width="2.4" stroke-linecap="round" stroke-linejoin="round"/><path d="M984.2 179.4C985.3 180.7 987.7 186.1 990.7 187.5C993.7 188.8 1000.1 187.5 1002.0 187.5" fill="none" stroke="#e9a4a2" stroke-width="1.3" stroke-linecap="round"/>
<path d="M1021.4 189.1C1023.0 189.6 1026.8 191.5 1031.1 192.3C1035.4 193.1 1044.5 193.7 1047.2 193.9" fill="none" stroke="#9a9a9a" stroke-width="1.8" stroke-linecap="round" stroke-linejoin="round"/><path d="M1021.4 189.1C1023.0 189.6 1026.8 191.5 1031.1 192.3C1035.4 193.1 1044.5 193.7 1047.2 193.9" fill="none" stroke="#e6e6e6" stroke-width="0.7" stroke-linecap="round"/>
<path d="M985.8 197.2C988.3 197.2 996.6 196.4 1000.4 197.2C1004.2 198.0 1007.1 201.2 1008.5 202.0" fill="none" stroke="#7a4746" stroke-width="2.4" stroke-linecap="round" stroke-linejoin="round"/><path d="M985.8 197.2C988.3 197.2 996.6 196.4 1000.4 197.2C1004.2 198.0 1007.1 201.2 1008.5 202.0" fill="none" stroke="#e9a4a2" stroke-width="1.3" stroke-linecap="round"/>
<path d="M972.9 208.5C974.0 207.7 977.0 203.6 979.4 203.6C981.8 203.6 986.1 207.7 987.5 208.5" fill="none" stroke="#7a4746" stroke-width="2.4" stroke-linecap="round" stroke-linejoin="round"/><path d="M972.9 208.5C974.0 207.7 977.0 203.6 979.4 203.6C981.8 203.6 986.1 207.7 987.5 208.5" fill="none" stroke="#e9a4a2" stroke-width="1.3" stroke-linecap="round"/>
<path d="M960.0 215.0C961.1 214.4 964.3 211.2 966.5 211.7C968.6 212.3 971.8 217.1 972.9 218.2" fill="none" stroke="#7a4746" stroke-width="2.4" stroke-linecap="round" stroke-linejoin="round"/><path d="M960.0 215.0C961.1 214.4 964.3 211.2 966.5 211.7C968.6 212.3 971.8 217.1 972.9 218.2" fill="none" stroke="#e9a4a2" stroke-width="1.3" stroke-linecap="round"/>
<path d="M1035.9 193.1L1047.2 194.8" fill="none" stroke="#a0a0a0" stroke-width="4.7" stroke-linecap="butt" stroke-linejoin="round"/><path d="M1035.9 193.1L1047.2 194.8" fill="none" stroke="#c4c4c4" stroke-width="3.6" stroke-linecap="butt" stroke-linejoin="round"/>
<path d="M1000.4 174.5C1002.5 174.3 1010.6 171.3 1013.3 172.9C1016.0 174.5 1015.2 179.7 1016.5 184.2C1017.9 188.8 1020.3 196.4 1021.4 200.4C1022.5 204.5 1022.7 207.1 1023.0 208.5" fill="none" stroke="#a0a0a0" stroke-width="7.0" stroke-linecap="butt" stroke-linejoin="round"/><path d="M1000.4 174.5C1002.5 174.3 1010.6 171.3 1013.3 172.9C1016.0 174.5 1015.2 179.7 1016.5 184.2C1017.9 188.8 1020.3 196.4 1021.4 200.4C1022.5 204.5 1022.7 207.1 1023.0 208.5" fill="none" stroke="#c4c4c4" stroke-width="5.9" stroke-linecap="butt" stroke-linejoin="round"/>
<path d="M1004.4 181.0C1005.9 181.6 1011.6 181.6 1013.3 184.2C1015.1 186.9 1014.0 193.0 1014.9 197.2C1015.9 201.4 1018.3 207.3 1019.0 209.3" fill="none" stroke="#70403f" stroke-width="8.8" stroke-linecap="butt" stroke-linejoin="round"/><path d="M1004.4 181.0C1005.9 181.6 1011.6 181.6 1013.3 184.2C1015.1 186.9 1014.0 193.0 1014.9 197.2C1015.9 201.4 1018.3 207.3 1019.0 209.3" fill="none" stroke="#ec9d9b" stroke-width="7.7" stroke-linecap="butt" stroke-linejoin="round"/>
<path d="M1037.5 202.0C1038.3 202.8 1041.8 204.7 1042.4 206.9C1042.9 209.0 1041.0 213.6 1040.8 215.0" fill="none" stroke="#70403f" stroke-width="6.5" stroke-linecap="butt" stroke-linejoin="round"/><path d="M1037.5 202.0C1038.3 202.8 1041.8 204.7 1042.4 206.9C1042.9 209.0 1041.0 213.6 1040.8 215.0" fill="none" stroke="#ec9d9b" stroke-width="5.4" stroke-linecap="butt" stroke-linejoin="round"/>
<path d="M1043.6 225.6C1045.3 225.9 1051.9 225.6 1054.1 227.2C1056.4 228.7 1057.4 232.2 1057.1 234.7C1056.9 237.2 1052.9 239.5 1052.6 242.2C1052.4 245.0 1056.1 248.3 1055.6 251.3C1055.1 254.3 1050.6 258.8 1049.6 260.3" fill="none" stroke="#9a9a9a" stroke-width="1.8" stroke-linecap="round" stroke-linejoin="round"/><path d="M1043.6 225.6C1045.3 225.9 1051.9 225.6 1054.1 227.2C1056.4 228.7 1057.4 232.2 1057.1 234.7C1056.9 237.2 1052.9 239.5 1052.6 242.2C1052.4 245.0 1056.1 248.3 1055.6 251.3C1055.1 254.3 1050.6 258.8 1049.6 260.3" fill="none" stroke="#e6e6e6" stroke-width="0.7" stroke-linecap="round"/>
<path d="M980.2 212.1C982.7 211.8 990.2 210.3 995.3 210.6C1000.3 210.8 1007.8 213.1 1010.4 213.6" fill="none" stroke="#a0a0a0" stroke-width="5.6" stroke-linecap="butt" stroke-linejoin="round"/><path d="M980.2 212.1C982.7 211.8 990.2 210.3 995.3 210.6C1000.3 210.8 1007.8 213.1 1010.4 213.6" fill="none" stroke="#c4c4c4" stroke-width="4.5" stroke-linecap="butt" stroke-linejoin="round"/>
<path d="M950.0 242.2C952.5 242.7 960.1 245.0 965.1 245.3C970.1 245.5 977.7 244.0 980.2 243.8" fill="none" stroke="#a0a0a0" stroke-width="5.6" stroke-linecap="butt" stroke-linejoin="round"/><path d="M950.0 242.2C952.5 242.7 960.1 245.0 965.1 245.3C970.1 245.5 977.7 244.0 980.2 243.8" fill="none" stroke="#c4c4c4" stroke-width="4.5" stroke-linecap="butt" stroke-linejoin="round"/>
<path d="M1031.5 230.2C1033.5 230.2 1039.5 230.4 1043.6 230.2C1047.6 229.9 1053.6 228.9 1055.6 228.7" fill="none" stroke="#a0a0a0" stroke-width="4.7" stroke-linecap="butt" stroke-linejoin="round"/><path d="M1031.5 230.2C1033.5 230.2 1039.5 230.4 1043.6 230.2C1047.6 229.9 1053.6 228.9 1055.6 228.7" fill="none" stroke="#c4c4c4" stroke-width="3.6" stroke-linecap="butt" stroke-linejoin="round"/>
<path d="M950.0 219.6C951.0 219.4 954.8 217.3 956.0 218.1C957.3 218.9 958.0 220.9 957.5 224.1C957.0 227.4 953.3 233.4 953.0 237.7C952.8 242.0 954.0 246.8 956.0 249.8C958.0 252.8 963.6 254.8 965.1 255.8" fill="none" stroke="#7a4746" stroke-width="2.4" stroke-linecap="round" stroke-linejoin="round"/><path d="M950.0 219.6C951.0 219.4 954.8 217.3 956.0 218.1C957.3 218.9 958.0 220.9 957.5 224.1C957.0 227.4 953.3 233.4 953.0 237.7C952.8 242.0 954.0 246.8 956.0 249.8C958.0 252.8 963.6 254.8 965.1 255.8" fill="none" stroke="#e9a4a2" stroke-width="1.3" stroke-linecap="round"/>
<path d="M959.1 215.1C960.6 214.8 966.8 212.8 968.1 213.6C969.4 214.3 967.9 217.1 966.6 219.6C965.3 222.1 960.3 225.4 960.6 228.7C960.8 231.9 965.3 236.7 968.1 239.2C970.9 241.7 975.7 243.0 977.2 243.8" fill="none" stroke="#7a4746" stroke-width="2.4" stroke-linecap="round" stroke-linejoin="round"/><path d="M959.1 215.1C960.6 214.8 966.8 212.8 968.1 213.6C969.4 214.3 967.9 217.1 966.6 219.6C965.3 222.1 960.3 225.4 960.6 228.7C960.8 231.9 965.3 236.7 968.1 239.2C970.9 241.7 975.7 243.0 977.2 243.8" fill="none" stroke="#e9a4a2" stroke-width="1.3" stroke-linecap="round"/>
<path d="M975.7 209.1C976.9 208.5 979.9 206.0 983.2 206.0C986.5 206.0 992.0 207.5 995.3 209.1C998.5 210.6 1000.3 212.3 1002.8 215.1C1005.3 217.9 1008.6 221.9 1010.4 225.6C1012.1 229.4 1013.4 233.9 1013.4 237.7C1013.4 241.5 1010.9 246.5 1010.4 248.3" fill="none" stroke="#7a4746" stroke-width="2.4" stroke-linecap="round" stroke-linejoin="round"/><path d="M975.7 209.1C976.9 208.5 979.9 206.0 983.2 206.0C986.5 206.0 992.0 207.5 995.3 209.1C998.5 210.6 1000.3 212.3 1002.8 215.1C1005.3 217.9 1008.6 221.9 1010.4 225.6C1012.1 229.4 1013.4 233.9 1013.4 237.7C1013.4 241.5 1010.9 246.5 1010.4 248.3" fill="none" stroke="#e9a4a2" stroke-width="1.3" stroke-linecap="round"/>
<path d="M1022.4 200.0C1022.9 202.0 1023.4 209.3 1025.4 212.1C1027.5 214.8 1032.0 216.3 1034.5 216.6C1037.0 216.8 1039.5 214.1 1040.5 213.6" fill="none" stroke="#7a4746" stroke-width="2.4" stroke-linecap="round" stroke-linejoin="round"/><path d="M1022.4 200.0C1022.9 202.0 1023.4 209.3 1025.4 212.1C1027.5 214.8 1032.0 216.3 1034.5 216.6C1037.0 216.8 1039.5 214.1 1040.5 213.6" fill="none" stroke="#e9a4a2" stroke-width="1.3" stroke-linecap="round"/>
<path d="M1040.5 219.6C1041.8 220.6 1046.6 222.6 1048.1 225.6C1049.6 228.7 1050.3 234.2 1049.6 237.7C1048.8 241.2 1044.1 244.3 1043.6 246.8C1043.0 249.3 1046.8 250.0 1046.6 252.8C1046.3 255.6 1042.8 261.6 1042.0 263.4" fill="none" stroke="#7a4746" stroke-width="2.4" stroke-linecap="round" stroke-linejoin="round"/><path d="M1040.5 219.6C1041.8 220.6 1046.6 222.6 1048.1 225.6C1049.6 228.7 1050.3 234.2 1049.6 237.7C1048.8 241.2 1044.1 244.3 1043.6 246.8C1043.0 249.3 1046.8 250.0 1046.6 252.8C1046.3 255.6 1042.8 261.6 1042.0 263.4" fill="none" stroke="#e9a4a2" stroke-width="1.3" stroke-linecap="round"/>
<path d="M1010.4 248.3C1012.4 246.3 1018.4 240.0 1022.4 236.2C1026.5 232.4 1031.5 228.4 1034.5 225.6C1037.5 222.9 1039.5 220.6 1040.5 219.6" fill="none" stroke="#70403f" stroke-width="4.7" stroke-linecap="butt" stroke-linejoin="round"/><path d="M1010.4 248.3C1012.4 246.3 1018.4 240.0 1022.4 236.2C1026.5 232.4 1031.5 228.4 1034.5 225.6C1037.5 222.9 1039.5 220.6 1040.5 219.6" fill="none" stroke="#ec9d9b" stroke-width="3.6" stroke-linecap="butt" stroke-linejoin="round"/><path d="M1039.3 225.7L1041.6 218.6L1034.5 220.8Z" fill="#ec9d9b" stroke="#70403f" stroke-width="0.8" stroke-linejoin="round"/>
<path d="M1016.4 245.3C1018.7 243.5 1025.9 237.7 1030.0 234.7C1034.0 231.7 1038.8 228.4 1040.5 227.2" fill="none" stroke="#70403f" stroke-width="4.7" stroke-linecap="butt" stroke-linejoin="round"/><path d="M1016.4 245.3C1018.7 243.5 1025.9 237.7 1030.0 234.7C1034.0 231.7 1038.8 228.4 1040.5 227.2" fill="none" stroke="#ec9d9b" stroke-width="3.6" stroke-linecap="butt" stroke-linejoin="round"/>
<path d="M1020.9 254.3C1023.2 252.8 1030.5 248.5 1034.5 245.3C1038.5 242.0 1043.3 236.5 1045.1 234.7" fill="none" stroke="#70403f" stroke-width="4.7" stroke-linecap="butt" stroke-linejoin="round"/><path d="M1020.9 254.3C1023.2 252.8 1030.5 248.5 1034.5 245.3C1038.5 242.0 1043.3 236.5 1045.1 234.7" fill="none" stroke="#ec9d9b" stroke-width="3.6" stroke-linecap="butt" stroke-linejoin="round"/>
<path d="M1034.5 263.4C1035.5 261.6 1038.5 255.8 1040.5 252.8C1042.5 249.8 1045.6 246.5 1046.6 245.3" fill="none" stroke="#70403f" stroke-width="4.7" stroke-linecap="butt" stroke-linejoin="round"/><path d="M1034.5 263.4C1035.5 261.6 1038.5 255.8 1040.5 252.8C1042.5 249.8 1045.6 246.5 1046.6 245.3" fill="none" stroke="#ec9d9b" stroke-width="3.6" stroke-linecap="butt" stroke-linejoin="round"/>
<path d="M1034.5 200.0C1035.5 200.5 1038.8 202.3 1040.5 203.0C1042.3 203.8 1044.3 204.3 1045.1 204.5" fill="none" stroke="#70403f" stroke-width="5.6" stroke-linecap="butt" stroke-linejoin="round"/><path d="M1034.5 200.0C1035.5 200.5 1038.8 202.3 1040.5 203.0C1042.3 203.8 1044.3 204.3 1045.1 204.5" fill="none" stroke="#ec9d9b" stroke-width="4.5" stroke-linecap="butt" stroke-linejoin="round"/>
<path d="M1011.9 200.0C1012.6 201.0 1015.6 204.3 1016.4 206.0C1017.1 207.8 1016.4 209.8 1016.4 210.6" fill="none" stroke="#70403f" stroke-width="4.7" stroke-linecap="butt" stroke-linejoin="round"/><path d="M1011.9 200.0C1012.6 201.0 1015.6 204.3 1016.4 206.0C1017.1 207.8 1016.4 209.8 1016.4 210.6" fill="none" stroke="#ec9d9b" stroke-width="3.6" stroke-linecap="butt" stroke-linejoin="round"/>
<path d="M969.6 251.3C972.1 250.8 979.9 249.5 984.7 248.3C989.5 247.0 996.0 244.5 998.3 243.8" fill="none" stroke="#70403f" stroke-width="4.7" stroke-linecap="butt" stroke-linejoin="round"/><path d="M969.6 251.3C972.1 250.8 979.9 249.5 984.7 248.3C989.5 247.0 996.0 244.5 998.3 243.8" fill="none" stroke="#ec9d9b" stroke-width="3.6" stroke-linecap="butt" stroke-linejoin="round"/>
<path d="M971.1 257.3C973.9 256.8 982.9 255.6 987.7 254.3C992.5 253.1 997.8 250.5 999.8 249.8" fill="none" stroke="#6a3e3e" stroke-width="4.7" stroke-linecap="butt" stroke-linejoin="round"/><path d="M971.1 257.3C973.9 256.8 982.9 255.6 987.7 254.3C992.5 253.1 997.8 250.5 999.8 249.8" fill="none" stroke="#bb8e8d" stroke-width="3.6" stroke-linecap="butt" stroke-linejoin="round"/>
<path d="M977.2 222.6C978.9 223.1 984.7 225.4 987.7 225.6C990.7 225.9 994.0 224.4 995.3 224.1" fill="none" stroke="#6a3e3e" stroke-width="4.3" stroke-linecap="butt" stroke-linejoin="round"/><path d="M977.2 222.6C978.9 223.1 984.7 225.4 987.7 225.6C990.7 225.9 994.0 224.4 995.3 224.1" fill="none" stroke="#bb8e8d" stroke-width="3.2" stroke-linecap="butt" stroke-linejoin="round"/>
<path d="M980.2 231.7L990.7 234.7" fill="none" stroke="#70403f" stroke-width="4.3" stroke-linecap="butt" stroke-linejoin="round"/><path d="M980.2 231.7L990.7 234.7" fill="none" stroke="#ec9d9b" stroke-width="3.2" stroke-linecap="butt" stroke-linejoin="round"/>
<path d="M896.8 108.4C896.2 110.2 894.4 115.8 892.9 118.8C891.4 121.8 886.7 125.5 887.8 126.6C888.8 127.6 895.1 125.9 899.4 125.3C903.7 124.6 910.4 122.2 913.6 122.7C916.8 123.1 917.9 127.0 918.8 127.8" fill="none" stroke="#85866a" stroke-width="2.0" stroke-linecap="round" stroke-linejoin="round"/><path d="M896.8 108.4C896.2 110.2 894.4 115.8 892.9 118.8C891.4 121.8 886.7 125.5 887.8 126.6C888.8 127.6 895.1 125.9 899.4 125.3C903.7 124.6 910.4 122.2 913.6 122.7C916.8 123.1 917.9 127.0 918.8 127.8" fill="none" stroke="#d8d9b0" stroke-width="0.9" stroke-linecap="round"/>
<path d="M899.4 112.3C900.5 113.4 905.2 116.9 905.8 118.8C906.5 120.7 903.7 123.1 903.3 124.0" fill="none" stroke="#85866a" stroke-width="2.0" stroke-linecap="round" stroke-linejoin="round"/><path d="M899.4 112.3C900.5 113.4 905.2 116.9 905.8 118.8C906.5 120.7 903.7 123.1 903.3 124.0" fill="none" stroke="#d8d9b0" stroke-width="0.9" stroke-linecap="round"/>
<path d="M934.3 122.7C935.4 122.0 939.2 118.6 940.7 118.8C942.3 119.0 943.5 121.8 943.3 124.0C943.1 126.1 939.7 129.6 939.5 131.7C939.2 133.9 941.6 136.0 942.0 136.9" fill="none" stroke="#85866a" stroke-width="2.0" stroke-linecap="round" stroke-linejoin="round"/><path d="M934.3 122.7C935.4 122.0 939.2 118.6 940.7 118.8C942.3 119.0 943.5 121.8 943.3 124.0C943.1 126.1 939.7 129.6 939.5 131.7C939.2 133.9 941.6 136.0 942.0 136.9" fill="none" stroke="#d8d9b0" stroke-width="0.9" stroke-linecap="round"/>
<path d="M895.5 111.0C895.9 112.3 896.4 116.9 898.1 118.8C899.8 120.7 904.6 122.0 905.8 122.7" fill="none" stroke="#9a9a9a" stroke-width="1.8" stroke-linecap="round" stroke-linejoin="round"/><path d="M895.5 111.0C895.9 112.3 896.4 116.9 898.1 118.8C899.8 120.7 904.6 122.0 905.8 122.7" fill="none" stroke="#e6e6e6" stroke-width="0.7" stroke-linecap="round"/>
<path d="M908.4 103.3L917.5 91.6" fill="none" stroke="#a0a0a0" stroke-width="5.2" stroke-linecap="butt" stroke-linejoin="round"/><path d="M908.4 103.3L917.5 91.6" fill="none" stroke="#c4c4c4" stroke-width="4.0" stroke-linecap="butt" stroke-linejoin="round"/>
<path d="M918.8 104.6L927.8 94.2" fill="none" stroke="#a0a0a0" stroke-width="5.2" stroke-linecap="butt" stroke-linejoin="round"/><path d="M918.8 104.6L927.8 94.2" fill="none" stroke="#c4c4c4" stroke-width="4.0" stroke-linecap="butt" stroke-linejoin="round"/>
<path d="M900.7 95.5C902.2 94.2 907.1 89.5 909.7 87.8C912.3 86.0 915.1 85.6 916.2 85.2" fill="none" stroke="#7c7d5c" stroke-width="5.6" stroke-linecap="butt" stroke-linejoin="round"/><path d="M900.7 95.5C902.2 94.2 907.1 89.5 909.7 87.8C912.3 86.0 915.1 85.6 916.2 85.2" fill="none" stroke="#d9dcab" stroke-width="4.5" stroke-linecap="butt" stroke-linejoin="round"/>
<path d="M903.3 105.9C905.0 104.1 910.4 98.5 913.6 95.5C916.8 92.5 921.1 89.1 922.6 87.8" fill="none" stroke="#7c7d5c" stroke-width="5.6" stroke-linecap="butt" stroke-linejoin="round"/><path d="M903.3 105.9C905.0 104.1 910.4 98.5 913.6 95.5C916.8 92.5 921.1 89.1 922.6 87.8" fill="none" stroke="#d9dcab" stroke-width="4.5" stroke-linecap="butt" stroke-linejoin="round"/>
<path d="M912.3 109.7C914.0 108.0 919.0 102.6 922.6 99.4C926.3 96.2 932.3 91.9 934.3 90.3" fill="none" stroke="#7c7d5c" stroke-width="5.6" stroke-linecap="butt" stroke-linejoin="round"/><path d="M912.3 109.7C914.0 108.0 919.0 102.6 922.6 99.4C926.3 96.2 932.3 91.9 934.3 90.3" fill="none" stroke="#d9dcab" stroke-width="4.5" stroke-linecap="butt" stroke-linejoin="round"/>
<path d="M920.1 114.9C921.6 113.0 925.7 107.2 929.1 103.3C932.6 99.4 938.8 93.6 940.7 91.6" fill="none" stroke="#7c7d5c" stroke-width="5.6" stroke-linecap="butt" stroke-linejoin="round"/><path d="M920.1 114.9C921.6 113.0 925.7 107.2 929.1 103.3C932.6 99.4 938.8 93.6 940.7 91.6" fill="none" stroke="#d9dcab" stroke-width="4.5" stroke-linecap="butt" stroke-linejoin="round"/>
<path d="M929.1 99.4C931.3 99.4 937.3 99.8 942.0 99.4C946.8 99.0 955.0 97.2 957.5 96.8" fill="none" stroke="#8c8c8c" stroke-width="5.2" stroke-linecap="butt" stroke-linejoin="round"/><path d="M929.1 99.4C931.3 99.4 937.3 99.8 942.0 99.4C946.8 99.0 955.0 97.2 957.5 96.8" fill="none" stroke="#a9a9a9" stroke-width="4.0" stroke-linecap="butt" stroke-linejoin="round"/>
<path d="M916.2 87.8C917.3 88.6 920.1 91.6 922.6 92.9C925.2 94.2 930.2 95.1 931.7 95.5" fill="none" stroke="#456778" stroke-width="5.2" stroke-linecap="butt" stroke-linejoin="round"/><path d="M916.2 87.8C917.3 88.6 920.1 91.6 922.6 92.9C925.2 94.2 930.2 95.1 931.7 95.5" fill="none" stroke="#8fbad0" stroke-width="4.0" stroke-linecap="butt" stroke-linejoin="round"/><g clip-path="url(#insetclip)"><path d="M725.7 368.8C725.1 367.6 723.0 364.0 722.5 361.5C722.0 358.9 722.6 356.2 722.7 353.5C722.7 350.8 722.2 348.0 722.7 345.5C723.3 342.9 725.3 340.7 726.0 338.2C726.7 335.6 726.7 332.9 727.1 330.3C727.5 327.6 727.6 324.9 728.4 322.4C729.1 319.8 731.1 316.3 731.6 315.1" fill="none" stroke="#7a4746" stroke-width="2.3" stroke-linecap="round" stroke-linejoin="round"/><path d="M725.7 368.8C725.1 367.6 723.0 364.0 722.5 361.5C722.0 358.9 722.6 356.2 722.7 353.5C722.7 350.8 722.2 348.0 722.7 345.5C723.3 342.9 725.3 340.7 726.0 338.2C726.7 335.6 726.7 332.9 727.1 330.3C727.5 327.6 727.6 324.9 728.4 322.4C729.1 319.8 731.1 316.3 731.6 315.1" fill="none" stroke="#e9a4a2" stroke-width="1.2" stroke-linecap="round"/>
<path d="M744.0 354.6C744.9 355.6 747.9 358.3 749.5 360.4C751.2 362.5 752.4 364.9 753.9 367.1C755.4 369.3 757.6 371.2 758.7 373.5C759.7 375.9 760.0 378.7 760.2 381.4C760.4 384.0 759.9 388.0 759.8 389.4" fill="none" stroke="#7a4746" stroke-width="2.3" stroke-linecap="round" stroke-linejoin="round"/><path d="M744.0 354.6C744.9 355.6 747.9 358.3 749.5 360.4C751.2 362.5 752.4 364.9 753.9 367.1C755.4 369.3 757.6 371.2 758.7 373.5C759.7 375.9 760.0 378.7 760.2 381.4C760.4 384.0 759.9 388.0 759.8 389.4" fill="none" stroke="#e9a4a2" stroke-width="1.2" stroke-linecap="round"/>
<path d="M740.3 342.7C741.5 343.1 745.5 344.0 747.9 345.0C750.4 346.1 752.4 348.1 754.9 349.0C757.4 349.8 760.3 349.4 762.8 350.1C765.3 350.9 767.5 352.9 770.1 353.4C772.6 353.9 777.9 352.7 778.1 353.3C778.3 354.0 772.2 356.5 771.1 357.2" fill="none" stroke="#7a4746" stroke-width="2.3" stroke-linecap="round" stroke-linejoin="round"/><path d="M740.3 342.7C741.5 343.1 745.5 344.0 747.9 345.0C750.4 346.1 752.4 348.1 754.9 349.0C757.4 349.8 760.3 349.4 762.8 350.1C765.3 350.9 767.5 352.9 770.1 353.4C772.6 353.9 777.9 352.7 778.1 353.3C778.3 354.0 772.2 356.5 771.1 357.2" fill="none" stroke="#e9a4a2" stroke-width="1.2" stroke-linecap="round"/>
<path d="M754.1 300.4C755.5 300.2 761.7 298.6 762.0 299.2C762.4 299.9 758.2 303.0 756.0 304.5C753.8 305.9 751.3 306.9 748.8 307.9C746.3 308.9 743.7 310.0 741.1 310.3C738.5 310.5 734.5 309.6 733.2 309.5" fill="none" stroke="#9a9a9a" stroke-width="2.3" stroke-linecap="round" stroke-linejoin="round"/><path d="M754.1 300.4C755.5 300.2 761.7 298.6 762.0 299.2C762.4 299.9 758.2 303.0 756.0 304.5C753.8 305.9 751.3 306.9 748.8 307.9C746.3 308.9 743.7 310.0 741.1 310.3C738.5 310.5 734.5 309.6 733.2 309.5" fill="none" stroke="#e6e6e6" stroke-width="1.2" stroke-linecap="round"/>
<path d="M760.9 351.0C759.6 351.4 755.9 353.2 753.3 353.6C750.7 353.9 747.9 353.3 745.3 353.3C742.6 353.4 739.9 353.5 737.3 353.8C734.6 354.1 732.0 354.7 729.4 355.2C726.8 355.7 724.2 356.2 721.6 356.9C719.0 357.7 715.3 359.1 714.0 359.5" fill="none" stroke="#7a4746" stroke-width="2.3" stroke-linecap="round" stroke-linejoin="round"/><path d="M760.9 351.0C759.6 351.4 755.9 353.2 753.3 353.6C750.7 353.9 747.9 353.3 745.3 353.3C742.6 353.4 739.9 353.5 737.3 353.8C734.6 354.1 732.0 354.7 729.4 355.2C726.8 355.7 724.2 356.2 721.6 356.9C719.0 357.7 715.3 359.1 714.0 359.5" fill="none" stroke="#e9a4a2" stroke-width="1.2" stroke-linecap="round"/>
<path d="M745.4 278.6C746.4 279.6 749.7 282.1 751.1 284.3C752.5 286.5 752.5 289.6 753.9 291.8C755.3 294.0 757.4 295.9 759.6 297.3C761.8 298.7 767.2 299.6 767.1 300.3C767.0 301.0 761.8 301.1 759.1 301.3C756.5 301.6 753.8 301.4 751.2 301.8C748.5 302.2 746.0 303.6 743.4 303.6C740.8 303.6 738.1 302.1 735.5 302.0C732.9 301.9 728.9 302.9 727.6 303.1" fill="none" stroke="#9a9a9a" stroke-width="2.3" stroke-linecap="round" stroke-linejoin="round"/><path d="M745.4 278.6C746.4 279.6 749.7 282.1 751.1 284.3C752.5 286.5 752.5 289.6 753.9 291.8C755.3 294.0 757.4 295.9 759.6 297.3C761.8 298.7 767.2 299.6 767.1 300.3C767.0 301.0 761.8 301.1 759.1 301.3C756.5 301.6 753.8 301.4 751.2 301.8C748.5 302.2 746.0 303.6 743.4 303.6C740.8 303.6 738.1 302.1 735.5 302.0C732.9 301.9 728.9 302.9 727.6 303.1" fill="none" stroke="#e6e6e6" stroke-width="1.2" stroke-linecap="round"/>
<path d="M726.1 322.4C727.4 322.1 731.3 320.7 733.9 320.6C736.6 320.5 739.2 321.8 741.8 321.9C744.5 322.0 747.2 321.9 749.8 321.4C752.4 320.8 754.7 319.0 757.3 318.5C759.9 318.1 764.6 317.5 765.3 318.7C766.0 319.9 762.0 324.5 761.4 325.7" fill="none" stroke="#7a4746" stroke-width="2.3" stroke-linecap="round" stroke-linejoin="round"/><path d="M726.1 322.4C727.4 322.1 731.3 320.7 733.9 320.6C736.6 320.5 739.2 321.8 741.8 321.9C744.5 322.0 747.2 321.9 749.8 321.4C752.4 320.8 754.7 319.0 757.3 318.5C759.9 318.1 764.6 317.5 765.3 318.7C766.0 319.9 762.0 324.5 761.4 325.7" fill="none" stroke="#e9a4a2" stroke-width="1.2" stroke-linecap="round"/>
<path d="M771.8 366.9C772.8 366.0 778.2 362.5 777.8 361.6C777.5 360.8 772.5 361.7 769.8 361.6C767.2 361.5 764.4 361.6 761.9 361.0C759.3 360.3 757.0 358.8 754.6 357.7C752.1 356.6 748.5 354.9 747.3 354.4" fill="none" stroke="#7a4746" stroke-width="2.3" stroke-linecap="round" stroke-linejoin="round"/><path d="M771.8 366.9C772.8 366.0 778.2 362.5 777.8 361.6C777.5 360.8 772.5 361.7 769.8 361.6C767.2 361.5 764.4 361.6 761.9 361.0C759.3 360.3 757.0 358.8 754.6 357.7C752.1 356.6 748.5 354.9 747.3 354.4" fill="none" stroke="#e9a4a2" stroke-width="1.2" stroke-linecap="round"/>
<path d="M770.4 402.3C770.9 403.6 773.3 409.7 773.6 409.7C773.8 409.6 772.4 404.5 771.7 401.9C771.1 399.3 770.0 396.7 769.8 394.1C769.5 391.5 770.6 388.7 770.2 386.1C769.8 383.5 768.7 381.0 767.5 378.6C766.3 376.2 764.8 374.0 763.2 371.9C761.6 369.8 759.6 367.9 757.7 366.0C755.8 364.2 752.8 361.5 751.8 360.6" fill="none" stroke="#7a4746" stroke-width="2.3" stroke-linecap="round" stroke-linejoin="round"/><path d="M770.4 402.3C770.9 403.6 773.3 409.7 773.6 409.7C773.8 409.6 772.4 404.5 771.7 401.9C771.1 399.3 770.0 396.7 769.8 394.1C769.5 391.5 770.6 388.7 770.2 386.1C769.8 383.5 768.7 381.0 767.5 378.6C766.3 376.2 764.8 374.0 763.2 371.9C761.6 369.8 759.6 367.9 757.7 366.0C755.8 364.2 752.8 361.5 751.8 360.6" fill="none" stroke="#e9a4a2" stroke-width="1.2" stroke-linecap="round"/>
<path d="M746.1 393.4C745.8 392.1 744.6 388.2 744.4 385.6C744.1 382.9 744.4 380.2 744.3 377.6C744.3 374.9 744.5 372.2 744.2 369.6C743.8 366.9 742.4 364.4 742.3 361.8C742.2 359.2 743.4 355.2 743.6 353.9" fill="none" stroke="#9a9a9a" stroke-width="2.3" stroke-linecap="round" stroke-linejoin="round"/><path d="M746.1 393.4C745.8 392.1 744.6 388.2 744.4 385.6C744.1 382.9 744.4 380.2 744.3 377.6C744.3 374.9 744.5 372.2 744.2 369.6C743.8 366.9 742.4 364.4 742.3 361.8C742.2 359.2 743.4 355.2 743.6 353.9" fill="none" stroke="#e6e6e6" stroke-width="1.2" stroke-linecap="round"/>
<path d="M743.5 295.9C742.7 296.9 740.3 300.3 738.2 301.9C736.1 303.5 733.4 304.3 731.1 305.5C728.7 306.8 726.1 307.7 724.1 309.4C722.0 311.0 720.5 313.3 718.6 315.2C716.7 317.1 713.3 321.0 712.7 320.6C712.1 320.3 714.5 315.6 715.1 313.0C715.8 310.4 716.4 306.5 716.7 305.1" fill="none" stroke="#7a4746" stroke-width="2.3" stroke-linecap="round" stroke-linejoin="round"/><path d="M743.5 295.9C742.7 296.9 740.3 300.3 738.2 301.9C736.1 303.5 733.4 304.3 731.1 305.5C728.7 306.8 726.1 307.7 724.1 309.4C722.0 311.0 720.5 313.3 718.6 315.2C716.7 317.1 713.3 321.0 712.7 320.6C712.1 320.3 714.5 315.6 715.1 313.0C715.8 310.4 716.4 306.5 716.7 305.1" fill="none" stroke="#e9a4a2" stroke-width="1.2" stroke-linecap="round"/>
<path d="M763.8 362.6C764.6 361.4 766.5 357.9 768.1 355.8C769.7 353.7 773.7 350.1 773.5 349.9C773.3 349.7 768.9 352.7 767.0 354.6C765.2 356.5 763.6 358.7 762.4 361.1C761.2 363.5 760.7 366.2 760.1 368.8C759.4 371.3 758.6 374.0 758.5 376.6C758.3 379.2 759.1 381.9 759.1 384.6C759.2 387.2 758.8 391.2 758.7 392.6" fill="none" stroke="#7a4746" stroke-width="2.3" stroke-linecap="round" stroke-linejoin="round"/><path d="M763.8 362.6C764.6 361.4 766.5 357.9 768.1 355.8C769.7 353.7 773.7 350.1 773.5 349.9C773.3 349.7 768.9 352.7 767.0 354.6C765.2 356.5 763.6 358.7 762.4 361.1C761.2 363.5 760.7 366.2 760.1 368.8C759.4 371.3 758.6 374.0 758.5 376.6C758.3 379.2 759.1 381.9 759.1 384.6C759.2 387.2 758.8 391.2 758.7 392.6" fill="none" stroke="#e9a4a2" stroke-width="1.2" stroke-linecap="round"/>
<path d="M717.4 291.2C717.1 292.5 716.0 296.4 715.6 299.0C715.2 301.6 715.2 304.3 715.0 307.0C714.8 309.6 714.3 312.3 714.4 314.9C714.6 317.6 715.0 320.3 715.9 322.8C716.8 325.3 718.1 327.7 719.6 329.9C721.2 332.0 724.3 334.7 725.2 335.6" fill="none" stroke="#7a4746" stroke-width="2.3" stroke-linecap="round" stroke-linejoin="round"/><path d="M717.4 291.2C717.1 292.5 716.0 296.4 715.6 299.0C715.2 301.6 715.2 304.3 715.0 307.0C714.8 309.6 714.3 312.3 714.4 314.9C714.6 317.6 715.0 320.3 715.9 322.8C716.8 325.3 718.1 327.7 719.6 329.9C721.2 332.0 724.3 334.7 725.2 335.6" fill="none" stroke="#e9a4a2" stroke-width="1.2" stroke-linecap="round"/>
<path d="M728.9 376.2C729.3 374.9 729.8 370.8 730.8 368.4C731.8 366.0 733.4 363.7 735.1 361.7C736.8 359.7 738.8 357.8 741.0 356.2C743.1 354.7 746.0 354.1 748.0 352.4C750.0 350.7 751.2 348.2 752.8 346.0C754.3 343.8 756.3 341.8 757.3 339.4C758.3 337.0 758.1 334.1 759.0 331.6C759.8 329.1 761.9 325.6 762.4 324.4" fill="none" stroke="#7a4746" stroke-width="2.3" stroke-linecap="round" stroke-linejoin="round"/><path d="M728.9 376.2C729.3 374.9 729.8 370.8 730.8 368.4C731.8 366.0 733.4 363.7 735.1 361.7C736.8 359.7 738.8 357.8 741.0 356.2C743.1 354.7 746.0 354.1 748.0 352.4C750.0 350.7 751.2 348.2 752.8 346.0C754.3 343.8 756.3 341.8 757.3 339.4C758.3 337.0 758.1 334.1 759.0 331.6C759.8 329.1 761.9 325.6 762.4 324.4" fill="none" stroke="#e9a4a2" stroke-width="1.2" stroke-linecap="round"/>
<path d="M724.9 373.8C726.2 374.0 730.1 374.9 732.7 375.4C735.3 376.0 738.0 376.4 740.6 377.1C743.1 377.7 745.7 378.4 748.3 379.2C750.8 380.0 753.3 381.4 755.9 381.6C758.5 381.9 761.2 381.1 763.9 381.0C766.5 380.8 769.2 381.2 771.9 381.0C774.5 380.8 777.1 380.1 779.8 379.7C782.4 379.3 786.3 378.7 787.7 378.6" fill="none" stroke="#7a4746" stroke-width="2.3" stroke-linecap="round" stroke-linejoin="round"/><path d="M724.9 373.8C726.2 374.0 730.1 374.9 732.7 375.4C735.3 376.0 738.0 376.4 740.6 377.1C743.1 377.7 745.7 378.4 748.3 379.2C750.8 380.0 753.3 381.4 755.9 381.6C758.5 381.9 761.2 381.1 763.9 381.0C766.5 380.8 769.2 381.2 771.9 381.0C774.5 380.8 777.1 380.1 779.8 379.7C782.4 379.3 786.3 378.7 787.7 378.6" fill="none" stroke="#e9a4a2" stroke-width="1.2" stroke-linecap="round"/>
<path d="M773.3 346.5C772.1 345.9 768.6 343.8 766.2 342.8C763.7 341.7 761.2 340.7 758.6 340.2C756.0 339.7 753.2 339.3 750.6 339.7C748.0 340.1 744.3 341.9 743.1 342.3" fill="none" stroke="#9a9a9a" stroke-width="2.3" stroke-linecap="round" stroke-linejoin="round"/><path d="M773.3 346.5C772.1 345.9 768.6 343.8 766.2 342.8C763.7 341.7 761.2 340.7 758.6 340.2C756.0 339.7 753.2 339.3 750.6 339.7C748.0 340.1 744.3 341.9 743.1 342.3" fill="none" stroke="#e6e6e6" stroke-width="1.2" stroke-linecap="round"/>
<path d="M886.6 275.0C885.4 274.4 879.3 271.8 879.4 271.4C879.5 271.0 884.7 272.5 887.3 272.6C890.0 272.7 894.8 271.2 895.3 272.1C895.8 273.1 892.3 276.7 890.3 278.4C888.3 280.1 885.4 280.8 883.4 282.5C881.4 284.2 880.4 287.1 878.4 288.7C876.4 290.3 872.4 291.6 871.2 292.2" fill="none" stroke="#85866a" stroke-width="2.3" stroke-linecap="round" stroke-linejoin="round"/><path d="M886.6 275.0C885.4 274.4 879.3 271.8 879.4 271.4C879.5 271.0 884.7 272.5 887.3 272.6C890.0 272.7 894.8 271.2 895.3 272.1C895.8 273.1 892.3 276.7 890.3 278.4C888.3 280.1 885.4 280.8 883.4 282.5C881.4 284.2 880.4 287.1 878.4 288.7C876.4 290.3 872.4 291.6 871.2 292.2" fill="none" stroke="#d8d9b0" stroke-width="1.2" stroke-linecap="round"/>
<path d="M827.7 300.8C827.8 299.4 828.8 295.5 828.8 292.8C828.8 290.2 828.7 287.4 827.8 284.9C827.0 282.4 825.2 280.2 823.7 278.0C822.2 275.8 820.6 271.8 818.9 271.7C817.1 271.6 815.1 275.4 813.1 277.2C811.1 279.0 808.0 281.5 807.0 282.4" fill="none" stroke="#85866a" stroke-width="2.3" stroke-linecap="round" stroke-linejoin="round"/><path d="M827.7 300.8C827.8 299.4 828.8 295.5 828.8 292.8C828.8 290.2 828.7 287.4 827.8 284.9C827.0 282.4 825.2 280.2 823.7 278.0C822.2 275.8 820.6 271.8 818.9 271.7C817.1 271.6 815.1 275.4 813.1 277.2C811.1 279.0 808.0 281.5 807.0 282.4" fill="none" stroke="#d8d9b0" stroke-width="1.2" stroke-linecap="round"/>
<path d="M896.1 286.9C895.6 288.1 894.5 292.0 893.4 294.4C892.2 296.8 890.7 299.0 889.2 301.3C887.8 303.5 886.1 305.6 884.6 307.8C883.1 310.0 881.8 312.3 880.2 314.5C878.6 316.6 876.9 320.4 875.0 320.6C873.2 320.7 871.1 316.9 868.9 315.4C866.8 313.8 864.1 312.9 862.1 311.2C860.1 309.6 857.6 306.3 856.7 305.4" fill="none" stroke="#85866a" stroke-width="2.3" stroke-linecap="round" stroke-linejoin="round"/><path d="M896.1 286.9C895.6 288.1 894.5 292.0 893.4 294.4C892.2 296.8 890.7 299.0 889.2 301.3C887.8 303.5 886.1 305.6 884.6 307.8C883.1 310.0 881.8 312.3 880.2 314.5C878.6 316.6 876.9 320.4 875.0 320.6C873.2 320.7 871.1 316.9 868.9 315.4C866.8 313.8 864.1 312.9 862.1 311.2C860.1 309.6 857.6 306.3 856.7 305.4" fill="none" stroke="#d8d9b0" stroke-width="1.2" stroke-linecap="round"/>
<path d="M847.8 274.9C846.7 275.8 843.6 278.3 841.5 279.9C839.3 281.5 837.3 283.2 834.9 284.4C832.5 285.6 829.7 285.9 827.3 286.9C824.8 287.9 822.4 289.1 820.1 290.4C817.8 291.8 815.5 293.2 813.4 294.8C811.4 296.5 809.4 298.4 807.7 300.4C806.0 302.4 804.8 305.0 803.0 306.9C801.2 308.8 797.9 311.2 796.9 312.0" fill="none" stroke="#9a9a9a" stroke-width="2.3" stroke-linecap="round" stroke-linejoin="round"/><path d="M847.8 274.9C846.7 275.8 843.6 278.3 841.5 279.9C839.3 281.5 837.3 283.2 834.9 284.4C832.5 285.6 829.7 285.9 827.3 286.9C824.8 287.9 822.4 289.1 820.1 290.4C817.8 291.8 815.5 293.2 813.4 294.8C811.4 296.5 809.4 298.4 807.7 300.4C806.0 302.4 804.8 305.0 803.0 306.9C801.2 308.8 797.9 311.2 796.9 312.0" fill="none" stroke="#e6e6e6" stroke-width="1.2" stroke-linecap="round"/>
<path d="M802.3 279.0C801.5 277.9 797.0 273.5 797.6 272.5C798.1 271.5 802.9 272.8 805.5 273.1C808.2 273.3 811.0 273.2 813.5 273.9C816.0 274.7 819.4 277.1 820.6 277.7" fill="none" stroke="#9a9a9a" stroke-width="2.3" stroke-linecap="round" stroke-linejoin="round"/><path d="M802.3 279.0C801.5 277.9 797.0 273.5 797.6 272.5C798.1 271.5 802.9 272.8 805.5 273.1C808.2 273.3 811.0 273.2 813.5 273.9C816.0 274.7 819.4 277.1 820.6 277.7" fill="none" stroke="#e6e6e6" stroke-width="1.2" stroke-linecap="round"/>
<path d="M787.5 293.0C786.5 293.9 783.5 298.3 781.5 298.2C779.5 298.2 775.7 292.8 775.7 292.8C775.7 292.8 780.0 296.2 781.5 298.3C782.9 300.5 783.9 304.5 784.4 305.7" fill="none" stroke="#9a9a9a" stroke-width="2.3" stroke-linecap="round" stroke-linejoin="round"/><path d="M787.5 293.0C786.5 293.9 783.5 298.3 781.5 298.2C779.5 298.2 775.7 292.8 775.7 292.8C775.7 292.8 780.0 296.2 781.5 298.3C782.9 300.5 783.9 304.5 784.4 305.7" fill="none" stroke="#e6e6e6" stroke-width="1.2" stroke-linecap="round"/>
<path d="M893.6 302.3C894.2 303.5 896.4 306.9 897.3 309.4C898.2 311.9 900.0 315.6 899.0 317.2C898.0 318.8 893.7 318.1 891.2 319.0C888.7 319.9 886.4 321.3 884.0 322.4C881.6 323.5 879.2 324.7 876.6 325.5C874.1 326.2 871.3 326.3 868.7 326.8C866.1 327.3 862.5 329.4 860.9 328.4C859.2 327.4 859.4 323.3 858.7 320.7C858.1 318.1 857.3 314.2 857.0 312.9" fill="none" stroke="#9a9a9a" stroke-width="2.3" stroke-linecap="round" stroke-linejoin="round"/><path d="M893.6 302.3C894.2 303.5 896.4 306.9 897.3 309.4C898.2 311.9 900.0 315.6 899.0 317.2C898.0 318.8 893.7 318.1 891.2 319.0C888.7 319.9 886.4 321.3 884.0 322.4C881.6 323.5 879.2 324.7 876.6 325.5C874.1 326.2 871.3 326.3 868.7 326.8C866.1 327.3 862.5 329.4 860.9 328.4C859.2 327.4 859.4 323.3 858.7 320.7C858.1 318.1 857.3 314.2 857.0 312.9" fill="none" stroke="#e6e6e6" stroke-width="1.2" stroke-linecap="round"/>
<path d="M796.2 302.6C796.3 301.3 796.8 297.2 796.5 294.6C796.2 292.0 795.6 289.2 794.4 286.9C793.2 284.6 790.7 283.0 789.2 280.8C787.7 278.6 785.0 274.3 785.6 273.7C786.2 273.1 790.3 276.3 792.8 277.0C795.4 277.7 799.5 277.9 800.8 278.0" fill="none" stroke="#9a9a9a" stroke-width="2.3" stroke-linecap="round" stroke-linejoin="round"/><path d="M796.2 302.6C796.3 301.3 796.8 297.2 796.5 294.6C796.2 292.0 795.6 289.2 794.4 286.9C793.2 284.6 790.7 283.0 789.2 280.8C787.7 278.6 785.0 274.3 785.6 273.7C786.2 273.1 790.3 276.3 792.8 277.0C795.4 277.7 799.5 277.9 800.8 278.0" fill="none" stroke="#e6e6e6" stroke-width="1.2" stroke-linecap="round"/>
<path d="M861.0 294.8C860.8 293.4 860.2 289.5 859.9 286.8C859.6 284.2 859.5 281.5 859.1 278.9C858.8 276.2 857.7 271.0 857.8 271.0C857.9 270.9 859.3 276.1 859.9 278.7C860.5 281.3 860.3 284.1 861.2 286.6C862.2 289.0 863.9 291.2 865.5 293.3C867.2 295.4 868.9 297.6 871.1 299.1C873.2 300.6 875.9 301.5 878.5 302.1C881.1 302.6 885.2 302.4 886.5 302.5" fill="none" stroke="#9a9a9a" stroke-width="2.3" stroke-linecap="round" stroke-linejoin="round"/><path d="M861.0 294.8C860.8 293.4 860.2 289.5 859.9 286.8C859.6 284.2 859.5 281.5 859.1 278.9C858.8 276.2 857.7 271.0 857.8 271.0C857.9 270.9 859.3 276.1 859.9 278.7C860.5 281.3 860.3 284.1 861.2 286.6C862.2 289.0 863.9 291.2 865.5 293.3C867.2 295.4 868.9 297.6 871.1 299.1C873.2 300.6 875.9 301.5 878.5 302.1C881.1 302.6 885.2 302.4 886.5 302.5" fill="none" stroke="#e6e6e6" stroke-width="1.2" stroke-linecap="round"/>
<path d="M866.1 295.8C867.1 296.6 870.4 299.0 872.4 300.7C874.5 302.4 876.5 304.2 878.5 306.0C880.4 307.8 882.2 309.9 884.3 311.4C886.4 313.0 889.0 314.0 891.3 315.4C893.5 316.8 898.2 318.7 898.0 319.7C897.8 320.7 892.8 321.0 890.2 321.3C887.5 321.5 884.7 320.7 882.2 321.3C879.6 321.9 875.1 325.0 874.9 324.8C874.8 324.6 880.3 320.8 881.4 320.1" fill="none" stroke="#85866a" stroke-width="2.3" stroke-linecap="round" stroke-linejoin="round"/><path d="M866.1 295.8C867.1 296.6 870.4 299.0 872.4 300.7C874.5 302.4 876.5 304.2 878.5 306.0C880.4 307.8 882.2 309.9 884.3 311.4C886.4 313.0 889.0 314.0 891.3 315.4C893.5 316.8 898.2 318.7 898.0 319.7C897.8 320.7 892.8 321.0 890.2 321.3C887.5 321.5 884.7 320.7 882.2 321.3C879.6 321.9 875.1 325.0 874.9 324.8C874.8 324.6 880.3 320.8 881.4 320.1" fill="none" stroke="#d8d9b0" stroke-width="1.2" stroke-linecap="round"/>
<path d="M868.6 294.1C868.6 292.8 868.6 288.8 868.5 286.1C868.4 283.4 868.2 280.8 868.0 278.1C867.7 275.5 866.1 270.5 866.9 270.2C867.6 269.8 871.4 275.1 872.4 276.0" fill="none" stroke="#85866a" stroke-width="2.3" stroke-linecap="round" stroke-linejoin="round"/><path d="M868.6 294.1C868.6 292.8 868.6 288.8 868.5 286.1C868.4 283.4 868.2 280.8 868.0 278.1C867.7 275.5 866.1 270.5 866.9 270.2C867.6 269.8 871.4 275.1 872.4 276.0" fill="none" stroke="#d8d9b0" stroke-width="1.2" stroke-linecap="round"/>
<path d="M865.1 280.7C863.9 279.9 860.7 277.4 858.3 276.4C855.9 275.4 852.9 275.8 850.4 274.9C848.0 274.0 843.4 271.2 843.5 270.8C843.7 270.4 848.9 271.6 851.4 272.5C853.9 273.4 856.2 274.7 858.5 276.1C860.8 277.4 864.0 279.9 865.1 280.7" fill="none" stroke="#9a9a9a" stroke-width="2.3" stroke-linecap="round" stroke-linejoin="round"/><path d="M865.1 280.7C863.9 279.9 860.7 277.4 858.3 276.4C855.9 275.4 852.9 275.8 850.4 274.9C848.0 274.0 843.4 271.2 843.5 270.8C843.7 270.4 848.9 271.6 851.4 272.5C853.9 273.4 856.2 274.7 858.5 276.1C860.8 277.4 864.0 279.9 865.1 280.7" fill="none" stroke="#e6e6e6" stroke-width="1.2" stroke-linecap="round"/>
<path d="M826.5 310.9C825.5 311.8 823.0 315.1 820.8 316.5C818.7 318.0 815.5 320.1 813.5 319.6C811.4 319.1 809.7 315.8 808.4 313.5C807.1 311.2 806.4 308.5 805.7 305.9C805.0 303.4 804.4 300.7 804.2 298.1C804.0 295.4 804.4 291.4 804.5 290.1" fill="none" stroke="#85866a" stroke-width="2.3" stroke-linecap="round" stroke-linejoin="round"/><path d="M826.5 310.9C825.5 311.8 823.0 315.1 820.8 316.5C818.7 318.0 815.5 320.1 813.5 319.6C811.4 319.1 809.7 315.8 808.4 313.5C807.1 311.2 806.4 308.5 805.7 305.9C805.0 303.4 804.4 300.7 804.2 298.1C804.0 295.4 804.4 291.4 804.5 290.1" fill="none" stroke="#d8d9b0" stroke-width="1.2" stroke-linecap="round"/>
<path d="M842.3 311.5C841.1 311.8 837.1 312.6 834.7 313.7C832.3 314.9 828.6 318.8 828.1 318.3C827.6 317.9 830.0 313.1 831.6 311.1C833.2 309.1 835.9 307.9 837.8 306.0C839.6 304.2 840.9 301.7 842.8 299.9C844.8 298.0 848.2 295.9 849.3 295.1" fill="none" stroke="#85866a" stroke-width="2.3" stroke-linecap="round" stroke-linejoin="round"/><path d="M842.3 311.5C841.1 311.8 837.1 312.6 834.7 313.7C832.3 314.9 828.6 318.8 828.1 318.3C827.6 317.9 830.0 313.1 831.6 311.1C833.2 309.1 835.9 307.9 837.8 306.0C839.6 304.2 840.9 301.7 842.8 299.9C844.8 298.0 848.2 295.9 849.3 295.1" fill="none" stroke="#d8d9b0" stroke-width="1.2" stroke-linecap="round"/>
<path d="M856.4 394.1C857.5 393.4 860.9 391.3 863.0 389.7C865.1 388.0 866.9 386.0 868.7 384.1C870.6 382.2 872.2 379.9 874.3 378.4C876.5 376.8 879.0 375.6 881.5 374.7C883.9 373.8 887.9 373.1 889.2 372.8" fill="none" stroke="#4f7282" stroke-width="2.3" stroke-linecap="round" stroke-linejoin="round"/><path d="M856.4 394.1C857.5 393.4 860.9 391.3 863.0 389.7C865.1 388.0 866.9 386.0 868.7 384.1C870.6 382.2 872.2 379.9 874.3 378.4C876.5 376.8 879.0 375.6 881.5 374.7C883.9 373.8 887.9 373.1 889.2 372.8" fill="none" stroke="#9fc2d3" stroke-width="1.2" stroke-linecap="round"/>
<path d="M851.4 353.9C850.3 353.1 846.9 351.0 844.9 349.2C842.9 347.5 841.6 345.0 839.5 343.3C837.5 341.7 833.4 338.6 832.7 339.1C832.1 339.7 835.0 345.4 835.5 346.6" fill="none" stroke="#4f7282" stroke-width="2.3" stroke-linecap="round" stroke-linejoin="round"/><path d="M851.4 353.9C850.3 353.1 846.9 351.0 844.9 349.2C842.9 347.5 841.6 345.0 839.5 343.3C837.5 341.7 833.4 338.6 832.7 339.1C832.1 339.7 835.0 345.4 835.5 346.6" fill="none" stroke="#9fc2d3" stroke-width="1.2" stroke-linecap="round"/>
<path d="M887.7 334.5C886.9 335.5 884.6 338.9 882.6 340.6C880.5 342.2 878.1 343.6 875.6 344.5C873.2 345.5 870.4 345.9 867.8 346.3C865.2 346.7 862.5 346.7 859.8 346.8C857.2 346.8 854.5 346.4 851.8 346.5C849.2 346.6 846.5 346.9 843.9 347.3C841.2 347.8 837.4 348.9 836.1 349.2" fill="none" stroke="#9a9a9a" stroke-width="2.3" stroke-linecap="round" stroke-linejoin="round"/><path d="M887.7 334.5C886.9 335.5 884.6 338.9 882.6 340.6C880.5 342.2 878.1 343.6 875.6 344.5C873.2 345.5 870.4 345.9 867.8 346.3C865.2 346.7 862.5 346.7 859.8 346.8C857.2 346.8 854.5 346.4 851.8 346.5C849.2 346.6 846.5 346.9 843.9 347.3C841.2 347.8 837.4 348.9 836.1 349.2" fill="none" stroke="#e6e6e6" stroke-width="1.2" stroke-linecap="round"/>
<path d="M841.3 356.9C842.6 356.9 846.6 357.0 849.3 357.3C851.9 357.6 854.6 358.0 857.1 358.7C859.7 359.4 862.4 360.2 864.5 361.7C866.7 363.2 868.3 365.5 870.1 367.5C871.9 369.4 873.3 371.8 875.4 373.4C877.5 375.0 880.2 375.7 882.6 377.0C884.9 378.3 887.4 379.5 889.5 381.1C891.6 382.7 894.2 385.8 895.1 386.7" fill="none" stroke="#9a9a9a" stroke-width="2.3" stroke-linecap="round" stroke-linejoin="round"/><path d="M841.3 356.9C842.6 356.9 846.6 357.0 849.3 357.3C851.9 357.6 854.6 358.0 857.1 358.7C859.7 359.4 862.4 360.2 864.5 361.7C866.7 363.2 868.3 365.5 870.1 367.5C871.9 369.4 873.3 371.8 875.4 373.4C877.5 375.0 880.2 375.7 882.6 377.0C884.9 378.3 887.4 379.5 889.5 381.1C891.6 382.7 894.2 385.8 895.1 386.7" fill="none" stroke="#e6e6e6" stroke-width="1.2" stroke-linecap="round"/>
<path d="M861.3 384.4C860.2 383.6 856.8 381.4 854.9 379.5C853.0 377.7 851.7 375.3 850.2 373.1C848.6 371.0 847.3 368.5 845.4 366.7C843.5 364.8 840.6 363.9 838.9 362.0C837.2 360.0 836.0 357.4 835.1 354.9C834.2 352.5 834.2 349.7 833.5 347.1C832.8 344.5 831.5 340.7 831.0 339.5" fill="none" stroke="#4f7282" stroke-width="2.3" stroke-linecap="round" stroke-linejoin="round"/><path d="M861.3 384.4C860.2 383.6 856.8 381.4 854.9 379.5C853.0 377.7 851.7 375.3 850.2 373.1C848.6 371.0 847.3 368.5 845.4 366.7C843.5 364.8 840.6 363.9 838.9 362.0C837.2 360.0 836.0 357.4 835.1 354.9C834.2 352.5 834.2 349.7 833.5 347.1C832.8 344.5 831.5 340.7 831.0 339.5" fill="none" stroke="#9fc2d3" stroke-width="1.2" stroke-linecap="round"/>
<path d="M860.0 366.1C861.1 365.3 864.5 363.0 866.3 361.2C868.2 359.3 869.9 357.1 871.3 354.9C872.6 352.6 873.1 349.8 874.3 347.4C875.4 345.0 877.3 342.9 878.1 340.4C879.0 338.0 879.3 333.9 879.5 332.6" fill="none" stroke="#4f7282" stroke-width="2.3" stroke-linecap="round" stroke-linejoin="round"/><path d="M860.0 366.1C861.1 365.3 864.5 363.0 866.3 361.2C868.2 359.3 869.9 357.1 871.3 354.9C872.6 352.6 873.1 349.8 874.3 347.4C875.4 345.0 877.3 342.9 878.1 340.4C879.0 338.0 879.3 333.9 879.5 332.6" fill="none" stroke="#9fc2d3" stroke-width="1.2" stroke-linecap="round"/>
<path d="M891.9 380.7C891.7 382.0 891.6 386.1 891.0 388.6C890.4 391.2 889.2 396.0 888.1 396.1C887.0 396.2 885.6 391.3 884.2 389.1C882.7 386.9 881.0 384.8 879.4 382.7C877.9 380.5 876.3 378.4 874.7 376.2C873.1 374.1 871.4 372.0 869.7 370.0C868.0 367.9 866.2 365.9 864.3 364.1C862.4 362.2 859.3 359.7 858.3 358.8" fill="none" stroke="#9a9a9a" stroke-width="2.3" stroke-linecap="round" stroke-linejoin="round"/><path d="M891.9 380.7C891.7 382.0 891.6 386.1 891.0 388.6C890.4 391.2 889.2 396.0 888.1 396.1C887.0 396.2 885.6 391.3 884.2 389.1C882.7 386.9 881.0 384.8 879.4 382.7C877.9 380.5 876.3 378.4 874.7 376.2C873.1 374.1 871.4 372.0 869.7 370.0C868.0 367.9 866.2 365.9 864.3 364.1C862.4 362.2 859.3 359.7 858.3 358.8" fill="none" stroke="#e6e6e6" stroke-width="1.2" stroke-linecap="round"/>
<path d="M899.0 328.9C898.9 327.5 898.1 320.9 898.0 320.9C898.0 320.9 898.6 326.2 898.7 328.9C898.9 331.6 899.7 336.6 898.9 336.9C898.1 337.2 895.4 332.8 893.7 330.8C892.0 328.8 888.1 325.7 888.6 324.7C889.1 323.6 895.6 323.2 896.6 324.4C897.6 325.7 894.7 330.8 894.3 332.1" fill="none" stroke="#4f7282" stroke-width="2.3" stroke-linecap="round" stroke-linejoin="round"/><path d="M899.0 328.9C898.9 327.5 898.1 320.9 898.0 320.9C898.0 320.9 898.6 326.2 898.7 328.9C898.9 331.6 899.7 336.6 898.9 336.9C898.1 337.2 895.4 332.8 893.7 330.8C892.0 328.8 888.1 325.7 888.6 324.7C889.1 323.6 895.6 323.2 896.6 324.4C897.6 325.7 894.7 330.8 894.3 332.1" fill="none" stroke="#9fc2d3" stroke-width="1.2" stroke-linecap="round"/>
<path d="M811.9 372.6C812.9 371.8 816.3 369.6 818.2 367.7C820.1 365.9 821.6 363.6 823.4 361.6C825.1 359.6 827.2 357.8 828.7 355.7C830.3 353.5 831.0 350.8 832.6 348.7C834.2 346.6 837.4 344.1 838.4 343.2" fill="none" stroke="#9a9a9a" stroke-width="2.2" stroke-linecap="round" stroke-linejoin="round"/><path d="M811.9 372.6C812.9 371.8 816.3 369.6 818.2 367.7C820.1 365.9 821.6 363.6 823.4 361.6C825.1 359.6 827.2 357.8 828.7 355.7C830.3 353.5 831.0 350.8 832.6 348.7C834.2 346.6 837.4 344.1 838.4 343.2" fill="none" stroke="#e6e6e6" stroke-width="1.1" stroke-linecap="round"/>
<path d="M799.3 325.4C798.4 326.3 795.5 329.1 793.7 331.1C791.9 333.0 790.2 335.1 788.5 337.2C786.9 339.3 784.9 341.2 783.8 343.6C782.7 346.0 782.5 348.8 782.0 351.4C781.4 354.0 780.9 356.6 780.6 359.3C780.3 361.9 780.8 364.7 780.3 367.3C779.7 369.9 778.0 374.9 777.5 374.8C777.0 374.7 777.2 368.1 777.1 366.8" fill="none" stroke="#7a4746" stroke-width="2.2" stroke-linecap="round" stroke-linejoin="round"/><path d="M799.3 325.4C798.4 326.3 795.5 329.1 793.7 331.1C791.9 333.0 790.2 335.1 788.5 337.2C786.9 339.3 784.9 341.2 783.8 343.6C782.7 346.0 782.5 348.8 782.0 351.4C781.4 354.0 780.9 356.6 780.6 359.3C780.3 361.9 780.8 364.7 780.3 367.3C779.7 369.9 778.0 374.9 777.5 374.8C777.0 374.7 777.2 368.1 777.1 366.8" fill="none" stroke="#e9a4a2" stroke-width="1.1" stroke-linecap="round"/>
<path d="M809.0 345.3C807.9 344.6 804.2 342.6 802.5 340.7C800.7 338.7 799.6 336.2 798.5 333.7C797.5 331.3 796.6 326.0 796.2 326.1C795.8 326.1 795.5 331.5 796.0 334.1C796.5 336.7 798.2 339.0 799.0 341.5C799.8 344.0 799.8 346.9 800.8 349.3C801.9 351.7 803.8 353.7 805.4 355.9C806.9 358.0 809.3 361.2 810.1 362.3" fill="none" stroke="#7a4746" stroke-width="2.2" stroke-linecap="round" stroke-linejoin="round"/><path d="M809.0 345.3C807.9 344.6 804.2 342.6 802.5 340.7C800.7 338.7 799.6 336.2 798.5 333.7C797.5 331.3 796.6 326.0 796.2 326.1C795.8 326.1 795.5 331.5 796.0 334.1C796.5 336.7 798.2 339.0 799.0 341.5C799.8 344.0 799.8 346.9 800.8 349.3C801.9 351.7 803.8 353.7 805.4 355.9C806.9 358.0 809.3 361.2 810.1 362.3" fill="none" stroke="#e9a4a2" stroke-width="1.1" stroke-linecap="round"/>
<path d="M787.7 363.1C786.4 363.2 782.4 363.9 779.7 363.7C777.1 363.5 773.0 363.4 772.0 361.7C770.9 360.1 773.3 356.5 773.4 353.8C773.5 351.2 773.0 348.5 772.4 345.9C771.8 343.3 770.6 340.9 769.7 338.4C768.8 335.9 767.4 332.1 766.9 330.9" fill="none" stroke="#7a4746" stroke-width="2.2" stroke-linecap="round" stroke-linejoin="round"/><path d="M787.7 363.1C786.4 363.2 782.4 363.9 779.7 363.7C777.1 363.5 773.0 363.4 772.0 361.7C770.9 360.1 773.3 356.5 773.4 353.8C773.5 351.2 773.0 348.5 772.4 345.9C771.8 343.3 770.6 340.9 769.7 338.4C768.8 335.9 767.4 332.1 766.9 330.9" fill="none" stroke="#e9a4a2" stroke-width="1.1" stroke-linecap="round"/>
<path d="M801.4 332.7C801.6 331.4 802.2 324.8 802.5 324.8C802.9 324.8 803.0 330.1 803.5 332.8C803.9 335.4 804.8 337.9 805.2 340.6C805.6 343.2 805.5 345.9 806.0 348.5C806.5 351.2 807.8 353.6 808.2 356.2C808.5 358.9 808.4 361.6 808.2 364.2C808.0 366.9 807.1 370.8 806.9 372.1" fill="none" stroke="#7a4746" stroke-width="2.2" stroke-linecap="round" stroke-linejoin="round"/><path d="M801.4 332.7C801.6 331.4 802.2 324.8 802.5 324.8C802.9 324.8 803.0 330.1 803.5 332.8C803.9 335.4 804.8 337.9 805.2 340.6C805.6 343.2 805.5 345.9 806.0 348.5C806.5 351.2 807.8 353.6 808.2 356.2C808.5 358.9 808.4 361.6 808.2 364.2C808.0 366.9 807.1 370.8 806.9 372.1" fill="none" stroke="#e9a4a2" stroke-width="1.1" stroke-linecap="round"/></g>
<g clip-path="url(#insetclip)"><path d="M713.4 272.1C714.8 271.8 719.0 270.1 721.8 270.4C724.6 270.7 727.7 273.8 730.2 273.8C732.7 273.8 735.8 271.0 736.9 270.4" fill="none" stroke="#9a9a9a" stroke-width="2.0" stroke-linecap="round" stroke-linejoin="round"/><path d="M713.4 272.1C714.8 271.8 719.0 270.1 721.8 270.4C724.6 270.7 727.7 273.8 730.2 273.8C732.7 273.8 735.8 271.0 736.9 270.4" fill="none" stroke="#e6e6e6" stroke-width="0.9" stroke-linecap="round"/>
<path d="M715.1 315.8C716.8 318.0 722.1 325.3 725.2 329.2C728.2 333.2 732.2 337.6 733.6 339.3" fill="none" stroke="#a0a0a0" stroke-width="5.6" stroke-linecap="butt" stroke-linejoin="round"/><path d="M715.1 315.8C716.8 318.0 722.1 325.3 725.2 329.2C728.2 333.2 732.2 337.6 733.6 339.3" fill="none" stroke="#c4c4c4" stroke-width="4.5" stroke-linecap="butt" stroke-linejoin="round"/>
<path d="M721.8 309.1C723.2 311.0 727.4 316.9 730.2 320.8C733.0 324.8 737.2 330.6 738.6 332.6" fill="none" stroke="#a0a0a0" stroke-width="5.6" stroke-linecap="butt" stroke-linejoin="round"/><path d="M721.8 309.1C723.2 311.0 727.4 316.9 730.2 320.8C733.0 324.8 737.2 330.6 738.6 332.6" fill="none" stroke="#c4c4c4" stroke-width="4.5" stroke-linecap="butt" stroke-linejoin="round"/>
<path d="M715.1 292.3C717.3 293.7 724.0 298.4 728.5 300.7C733.0 302.9 739.7 304.9 742.0 305.7" fill="none" stroke="#a0a0a0" stroke-width="5.2" stroke-linecap="butt" stroke-linejoin="round"/><path d="M715.1 292.3C717.3 293.7 724.0 298.4 728.5 300.7C733.0 302.9 739.7 304.9 742.0 305.7" fill="none" stroke="#c4c4c4" stroke-width="4.0" stroke-linecap="butt" stroke-linejoin="round"/>
<path d="M738.6 302.3C740.3 301.5 745.3 297.6 748.7 297.3C752.0 297.0 756.5 298.1 758.8 300.7C761.0 303.2 761.6 310.5 762.1 312.4" fill="none" stroke="#9a9a9a" stroke-width="2.2" stroke-linecap="round" stroke-linejoin="round"/><path d="M738.6 302.3C740.3 301.5 745.3 297.6 748.7 297.3C752.0 297.0 756.5 298.1 758.8 300.7C761.0 303.2 761.6 310.5 762.1 312.4" fill="none" stroke="#e6e6e6" stroke-width="1.1" stroke-linecap="round"/>
<path d="M711.7 295.6C713.4 294.8 717.3 291.7 721.8 290.6C726.3 289.5 735.8 289.2 738.6 288.9" fill="none" stroke="#70403f" stroke-width="5.6" stroke-linecap="butt" stroke-linejoin="round"/><path d="M711.7 295.6C713.4 294.8 717.3 291.7 721.8 290.6C726.3 289.5 735.8 289.2 738.6 288.9" fill="none" stroke="#ec9d9b" stroke-width="4.5" stroke-linecap="butt" stroke-linejoin="round"/>
<path d="M711.7 305.7C712.8 304.6 715.4 300.7 718.4 299.0C721.5 297.3 728.2 296.2 730.2 295.6" fill="none" stroke="#6a3e3e" stroke-width="5.2" stroke-linecap="butt" stroke-linejoin="round"/><path d="M711.7 305.7C712.8 304.6 715.4 300.7 718.4 299.0C721.5 297.3 728.2 296.2 730.2 295.6" fill="none" stroke="#bb8e8d" stroke-width="4.0" stroke-linecap="butt" stroke-linejoin="round"/>
<path d="M715.1 312.4C716.2 311.0 718.4 306.0 721.8 304.0C725.2 302.1 733.0 301.2 735.2 300.7" fill="none" stroke="#70403f" stroke-width="5.2" stroke-linecap="butt" stroke-linejoin="round"/><path d="M715.1 312.4C716.2 311.0 718.4 306.0 721.8 304.0C725.2 302.1 733.0 301.2 735.2 300.7" fill="none" stroke="#ec9d9b" stroke-width="4.0" stroke-linecap="butt" stroke-linejoin="round"/>
<path d="M711.7 282.2C714.8 281.6 724.3 278.5 730.2 278.8C736.1 279.1 743.1 282.5 747.0 283.9C750.9 285.3 752.6 286.7 753.7 287.2" fill="none" stroke="#70403f" stroke-width="6.1" stroke-linecap="butt" stroke-linejoin="round"/><path d="M711.7 282.2C714.8 281.6 724.3 278.5 730.2 278.8C736.1 279.1 743.1 282.5 747.0 283.9C750.9 285.3 752.6 286.7 753.7 287.2" fill="none" stroke="#ec9d9b" stroke-width="5.0" stroke-linecap="butt" stroke-linejoin="round"/><path d="M747.6 289.4L755.1 287.9L751.8 281.0Z" fill="#ec9d9b" stroke="#70403f" stroke-width="0.8" stroke-linejoin="round"/>
<path d="M738.6 288.9C740.8 289.2 748.1 289.5 752.0 290.6C756.0 291.7 760.4 293.7 762.1 295.6C763.8 297.6 763.2 300.9 762.1 302.3C761.0 303.7 757.9 304.3 755.4 304.0C752.9 303.7 748.4 301.2 747.0 300.7" fill="none" stroke="#7a4746" stroke-width="2.2" stroke-linecap="round" stroke-linejoin="round"/><path d="M738.6 288.9C740.8 289.2 748.1 289.5 752.0 290.6C756.0 291.7 760.4 293.7 762.1 295.6C763.8 297.6 763.2 300.9 762.1 302.3C761.0 303.7 757.9 304.3 755.4 304.0C752.9 303.7 748.4 301.2 747.0 300.7" fill="none" stroke="#e9a4a2" stroke-width="1.1" stroke-linecap="round"/>
<path d="M745.3 312.4C745.9 311.9 746.4 309.9 748.7 309.1C750.9 308.2 756.2 306.8 758.8 307.4C761.3 307.9 763.5 310.2 763.8 312.4C764.1 314.7 761.8 318.6 760.4 320.8C759.0 323.1 756.0 323.4 755.4 325.9C754.8 328.4 756.8 334.3 757.1 336.0" fill="none" stroke="#7a4746" stroke-width="2.2" stroke-linecap="round" stroke-linejoin="round"/><path d="M745.3 312.4C745.9 311.9 746.4 309.9 748.7 309.1C750.9 308.2 756.2 306.8 758.8 307.4C761.3 307.9 763.5 310.2 763.8 312.4C764.1 314.7 761.8 318.6 760.4 320.8C759.0 323.1 756.0 323.4 755.4 325.9C754.8 328.4 756.8 334.3 757.1 336.0" fill="none" stroke="#e9a4a2" stroke-width="1.1" stroke-linecap="round"/>
<path d="M711.7 320.8C712.6 322.2 714.5 326.7 716.8 329.2C719.0 331.8 721.8 334.2 725.2 336.0C728.5 337.8 735.0 339.3 736.9 340.0" fill="none" stroke="#7a4746" stroke-width="2.2" stroke-linecap="round" stroke-linejoin="round"/><path d="M711.7 320.8C712.6 322.2 714.5 326.7 716.8 329.2C719.0 331.8 721.8 334.2 725.2 336.0C728.5 337.8 735.0 339.3 736.9 340.0" fill="none" stroke="#e9a4a2" stroke-width="1.1" stroke-linecap="round"/>
<path d="M805.8 270.4C804.4 271.8 799.1 275.7 797.4 278.8C795.7 281.9 794.3 286.4 795.7 288.9C797.1 291.4 804.1 293.1 805.8 293.9" fill="none" stroke="#85866a" stroke-width="2.2" stroke-linecap="round" stroke-linejoin="round"/><path d="M805.8 270.4C804.4 271.8 799.1 275.7 797.4 278.8C795.7 281.9 794.3 286.4 795.7 288.9C797.1 291.4 804.1 293.1 805.8 293.9" fill="none" stroke="#d8d9b0" stroke-width="1.1" stroke-linecap="round"/>
<path d="M807.5 272.1C806.1 273.5 800.5 277.4 799.1 280.5C797.7 283.6 797.4 288.6 799.1 290.6C800.8 292.5 807.5 292.0 809.2 292.3" fill="none" stroke="#9a9a9a" stroke-width="2.0" stroke-linecap="round" stroke-linejoin="round"/><path d="M807.5 272.1C806.1 273.5 800.5 277.4 799.1 280.5C797.7 283.6 797.4 288.6 799.1 290.6C800.8 292.5 807.5 292.0 809.2 292.3" fill="none" stroke="#e6e6e6" stroke-width="0.9" stroke-linecap="round"/>
<path d="M780.6 312.4C782.6 311.0 788.2 305.7 792.4 304.0C796.6 302.3 802.9 302.1 805.8 302.3C808.7 302.6 809.3 305.1 810.0 305.7" fill="none" stroke="#85866a" stroke-width="2.2" stroke-linecap="round" stroke-linejoin="round"/><path d="M780.6 312.4C782.6 311.0 788.2 305.7 792.4 304.0C796.6 302.3 802.9 302.1 805.8 302.3C808.7 302.6 809.3 305.1 810.0 305.7" fill="none" stroke="#d8d9b0" stroke-width="1.1" stroke-linecap="round"/>
<path d="M782.3 327.6C783.4 327.0 786.8 325.6 789.0 324.2C791.2 322.8 795.2 321.1 795.7 319.2C796.3 317.2 792.9 313.6 792.4 312.4" fill="none" stroke="#85866a" stroke-width="2.2" stroke-linecap="round" stroke-linejoin="round"/><path d="M782.3 327.6C783.4 327.0 786.8 325.6 789.0 324.2C791.2 322.8 795.2 321.1 795.7 319.2C796.3 317.2 792.9 313.6 792.4 312.4" fill="none" stroke="#d8d9b0" stroke-width="1.1" stroke-linecap="round"/>
<path d="M784.0 325.9C785.1 325.0 789.0 323.1 790.7 320.8C792.4 318.6 793.5 313.8 794.0 312.4" fill="none" stroke="#9a9a9a" stroke-width="2.0" stroke-linecap="round" stroke-linejoin="round"/><path d="M784.0 325.9C785.1 325.0 789.0 323.1 790.7 320.8C792.4 318.6 793.5 313.8 794.0 312.4" fill="none" stroke="#e6e6e6" stroke-width="0.9" stroke-linecap="round"/>
<path d="M810.0 320.8C809.3 321.7 806.5 323.4 805.8 325.9C805.1 328.4 805.8 334.3 805.8 336.0" fill="none" stroke="#4f7282" stroke-width="2.2" stroke-linecap="round" stroke-linejoin="round"/><path d="M810.0 320.8C809.3 321.7 806.5 323.4 805.8 325.9C805.1 328.4 805.8 334.3 805.8 336.0" fill="none" stroke="#9fc2d3" stroke-width="1.1" stroke-linecap="round"/>
<path d="M771.4 304.0C771.5 304.9 773.2 307.7 772.2 309.1C771.2 310.5 766.6 311.9 765.5 312.4" fill="none" stroke="#5a58a0" stroke-width="5.6" stroke-linecap="butt" stroke-linejoin="round"/><path d="M771.4 304.0C771.5 304.9 773.2 307.7 772.2 309.1C771.2 310.5 766.6 311.9 765.5 312.4" fill="none" stroke="#a9a6e0" stroke-width="4.5" stroke-linecap="butt" stroke-linejoin="round"/>
<path d="M758.8 319.2C759.9 320.0 763.2 322.5 765.5 324.2C767.7 325.9 770.5 327.6 772.2 329.2C773.9 330.9 774.4 332.9 775.6 334.3C776.7 335.7 778.4 337.1 778.9 337.6" fill="none" stroke="#5a58a0" stroke-width="5.6" stroke-linecap="butt" stroke-linejoin="round"/><path d="M758.8 319.2C759.9 320.0 763.2 322.5 765.5 324.2C767.7 325.9 770.5 327.6 772.2 329.2C773.9 330.9 774.4 332.9 775.6 334.3C776.7 335.7 778.4 337.1 778.9 337.6" fill="none" stroke="#a9a6e0" stroke-width="4.5" stroke-linecap="butt" stroke-linejoin="round"/>
<path d="M805.6 270.9C803.6 272.5 795.7 277.1 793.7 280.4C791.7 283.8 792.5 288.7 793.7 291.1C794.9 293.4 798.8 294.4 800.8 294.6C802.8 294.8 804.0 294.2 805.6 292.3C807.1 290.3 809.3 285.5 810.3 282.8C811.3 280.0 811.3 276.9 811.5 275.7" fill="none" stroke="#85866a" stroke-width="2.3" stroke-linecap="round" stroke-linejoin="round"/><path d="M805.6 270.9C803.6 272.5 795.7 277.1 793.7 280.4C791.7 283.8 792.5 288.7 793.7 291.1C794.9 293.4 798.8 294.4 800.8 294.6C802.8 294.8 804.0 294.2 805.6 292.3C807.1 290.3 809.3 285.5 810.3 282.8C811.3 280.0 811.3 276.9 811.5 275.7" fill="none" stroke="#d8d9b0" stroke-width="1.2" stroke-linecap="round"/>
<path d="M804.4 272.1C803.0 273.3 797.6 276.5 796.1 279.2C794.6 282.0 795.6 287.1 795.5 288.7" fill="none" stroke="#9a9a9a" stroke-width="2.0" stroke-linecap="round" stroke-linejoin="round"/><path d="M804.4 272.1C803.0 273.3 797.6 276.5 796.1 279.2C794.6 282.0 795.6 287.1 795.5 288.7" fill="none" stroke="#e6e6e6" stroke-width="0.9" stroke-linecap="round"/>
<path d="M779.5 317.2C780.5 316.0 782.4 312.2 785.4 310.0C788.4 307.9 793.5 304.9 797.3 304.1C801.0 303.3 804.6 305.3 807.9 305.3C811.3 305.3 815.4 305.9 817.4 304.1C819.4 302.3 819.4 296.2 819.8 294.6" fill="none" stroke="#85866a" stroke-width="2.3" stroke-linecap="round" stroke-linejoin="round"/><path d="M779.5 317.2C780.5 316.0 782.4 312.2 785.4 310.0C788.4 307.9 793.5 304.9 797.3 304.1C801.0 303.3 804.6 305.3 807.9 305.3C811.3 305.3 815.4 305.9 817.4 304.1C819.4 302.3 819.4 296.2 819.8 294.6" fill="none" stroke="#d8d9b0" stroke-width="1.2" stroke-linecap="round"/>
<path d="M781.9 314.8C782.8 313.8 785.0 310.2 787.8 308.9C790.5 307.5 794.9 306.7 798.4 306.5C802.0 306.3 807.3 307.5 809.1 307.7" fill="none" stroke="#9a9a9a" stroke-width="2.0" stroke-linecap="round" stroke-linejoin="round"/><path d="M781.9 314.8C782.8 313.8 785.0 310.2 787.8 308.9C790.5 307.5 794.9 306.7 798.4 306.5C802.0 306.3 807.3 307.5 809.1 307.7" fill="none" stroke="#e6e6e6" stroke-width="0.9" stroke-linecap="round"/>
<path d="M809.1 273.3C810.9 273.1 815.2 272.4 819.8 272.1C824.3 271.8 832.0 271.5 836.4 271.5C840.7 271.5 844.3 272.0 845.9 272.1" fill="none" stroke="#8c8c8c" stroke-width="6.5" stroke-linecap="butt" stroke-linejoin="round"/><path d="M809.1 273.3C810.9 273.1 815.2 272.4 819.8 272.1C824.3 271.8 832.0 271.5 836.4 271.5C840.7 271.5 844.3 272.0 845.9 272.1" fill="none" stroke="#a9a9a9" stroke-width="5.4" stroke-linecap="butt" stroke-linejoin="round"/>
<path d="M818.6 279.2C819.8 281.4 825.1 289.1 825.7 292.3C826.3 295.4 822.7 297.2 822.1 298.2" fill="none" stroke="#7c7d5c" stroke-width="7.0" stroke-linecap="butt" stroke-linejoin="round"/><path d="M818.6 279.2C819.8 281.4 825.1 289.1 825.7 292.3C826.3 295.4 822.7 297.2 822.1 298.2" fill="none" stroke="#d9dcab" stroke-width="5.9" stroke-linecap="butt" stroke-linejoin="round"/>
<path d="M831.6 274.5C832.4 275.9 836.4 279.6 836.4 282.8C836.4 285.9 832.4 291.7 831.6 293.4" fill="none" stroke="#7c7d5c" stroke-width="7.0" stroke-linecap="butt" stroke-linejoin="round"/><path d="M831.6 274.5C832.4 275.9 836.4 279.6 836.4 282.8C836.4 285.9 832.4 291.7 831.6 293.4" fill="none" stroke="#d9dcab" stroke-width="5.9" stroke-linecap="butt" stroke-linejoin="round"/>
<path d="M841.1 275.7C841.9 277.1 845.9 281.0 845.9 284.0C845.9 286.9 841.9 291.9 841.1 293.4" fill="none" stroke="#a0a0a0" stroke-width="5.6" stroke-linecap="butt" stroke-linejoin="round"/><path d="M841.1 275.7C841.9 277.1 845.9 281.0 845.9 284.0C845.9 286.9 841.9 291.9 841.1 293.4" fill="none" stroke="#c4c4c4" stroke-width="4.5" stroke-linecap="butt" stroke-linejoin="round"/>
<path d="M824.5 298.2C826.5 297.6 832.1 296.2 836.4 294.6C840.6 293.1 847.7 289.7 850.0 288.7" fill="none" stroke="#7c7d5c" stroke-width="7.0" stroke-linecap="butt" stroke-linejoin="round"/><path d="M824.5 298.2C826.5 297.6 832.1 296.2 836.4 294.6C840.6 293.1 847.7 289.7 850.0 288.7" fill="none" stroke="#d9dcab" stroke-width="5.9" stroke-linecap="butt" stroke-linejoin="round"/><path d="M844.0 297.4L851.4 288.1L839.6 287.2Z" fill="#d9dcab" stroke="#7c7d5c" stroke-width="0.8" stroke-linejoin="round"/>
<path d="M831.6 308.9C832.8 307.5 836.4 302.9 838.7 300.6C841.1 298.2 844.7 295.6 845.9 294.6" fill="none" stroke="#7c7d5c" stroke-width="6.1" stroke-linecap="butt" stroke-linejoin="round"/><path d="M831.6 308.9C832.8 307.5 836.4 302.9 838.7 300.6C841.1 298.2 844.7 295.6 845.9 294.6" fill="none" stroke="#d9dcab" stroke-width="5.0" stroke-linecap="butt" stroke-linejoin="round"/>
<path d="M800.0 292.3C801.1 293.4 803.4 297.6 806.7 299.0C810.1 300.4 816.2 300.4 820.2 300.7C824.1 300.9 828.6 300.7 830.2 300.7" fill="none" stroke="#9a9a9a" stroke-width="2.2" stroke-linecap="round" stroke-linejoin="round"/><path d="M800.0 292.3C801.1 293.4 803.4 297.6 806.7 299.0C810.1 300.4 816.2 300.4 820.2 300.7C824.1 300.9 828.6 300.7 830.2 300.7" fill="none" stroke="#e6e6e6" stroke-width="1.1" stroke-linecap="round"/>
<path d="M800.0 305.7C801.7 306.0 806.7 307.4 810.1 307.4C813.4 307.4 816.2 306.3 820.2 305.7C824.1 305.1 831.4 304.3 833.6 304.0" fill="none" stroke="#85866a" stroke-width="2.2" stroke-linecap="round" stroke-linejoin="round"/><path d="M800.0 305.7C801.7 306.0 806.7 307.4 810.1 307.4C813.4 307.4 816.2 306.3 820.2 305.7C824.1 305.1 831.4 304.3 833.6 304.0" fill="none" stroke="#d8d9b0" stroke-width="1.1" stroke-linecap="round"/>
<path d="M800.0 300.7C801.7 301.2 806.7 303.7 810.1 304.0C813.4 304.3 818.5 302.6 820.2 302.3" fill="none" stroke="#9a9a9a" stroke-width="2.0" stroke-linecap="round" stroke-linejoin="round"/><path d="M800.0 300.7C801.7 301.2 806.7 303.7 810.1 304.0C813.4 304.3 818.5 302.6 820.2 302.3" fill="none" stroke="#e6e6e6" stroke-width="0.9" stroke-linecap="round"/>
<path d="M843.7 280.5C844.8 281.1 847.9 283.9 850.4 283.9C852.9 283.9 856.0 281.9 858.8 280.5C861.6 279.1 864.4 277.1 867.2 275.4C870.0 273.8 874.2 271.2 875.6 270.4" fill="none" stroke="#85866a" stroke-width="2.2" stroke-linecap="round" stroke-linejoin="round"/><path d="M843.7 280.5C844.8 281.1 847.9 283.9 850.4 283.9C852.9 283.9 856.0 281.9 858.8 280.5C861.6 279.1 864.4 277.1 867.2 275.4C870.0 273.8 874.2 271.2 875.6 270.4" fill="none" stroke="#d8d9b0" stroke-width="1.1" stroke-linecap="round"/>
<path d="M873.9 293.9C875.0 294.8 877.8 297.6 880.6 299.0C883.4 300.4 887.5 301.8 890.7 302.3C893.9 302.9 898.4 302.3 900.0 302.3" fill="none" stroke="#85866a" stroke-width="2.2" stroke-linecap="round" stroke-linejoin="round"/><path d="M873.9 293.9C875.0 294.8 877.8 297.6 880.6 299.0C883.4 300.4 887.5 301.8 890.7 302.3C893.9 302.9 898.4 302.3 900.0 302.3" fill="none" stroke="#d8d9b0" stroke-width="1.1" stroke-linecap="round"/>
<path d="M875.6 282.2C877.6 281.9 883.3 281.3 887.4 280.5C891.4 279.7 897.9 277.7 900.0 277.1" fill="none" stroke="#9a9a9a" stroke-width="2.2" stroke-linecap="round" stroke-linejoin="round"/><path d="M875.6 282.2C877.6 281.9 883.3 281.3 887.4 280.5C891.4 279.7 897.9 277.7 900.0 277.1" fill="none" stroke="#e6e6e6" stroke-width="1.1" stroke-linecap="round"/>
<path d="M820.2 282.2C822.4 281.6 829.1 279.9 833.6 278.8C838.1 277.7 844.8 276.0 847.0 275.4" fill="none" stroke="#a0a0a0" stroke-width="5.6" stroke-linecap="butt" stroke-linejoin="round"/><path d="M820.2 282.2C822.4 281.6 829.1 279.9 833.6 278.8C838.1 277.7 844.8 276.0 847.0 275.4" fill="none" stroke="#c4c4c4" stroke-width="4.5" stroke-linecap="butt" stroke-linejoin="round"/>
<path d="M816.8 278.8C819.6 278.2 829.1 276.6 833.6 275.4C838.1 274.3 842.0 272.6 843.7 272.1" fill="none" stroke="#7c7d5c" stroke-width="5.6" stroke-linecap="butt" stroke-linejoin="round"/><path d="M816.8 278.8C819.6 278.2 829.1 276.6 833.6 275.4C838.1 274.3 842.0 272.6 843.7 272.1" fill="none" stroke="#d9dcab" stroke-width="4.5" stroke-linecap="butt" stroke-linejoin="round"/>
<path d="M828.6 270.4C830.0 271.8 835.0 275.2 837.0 278.8C838.9 282.5 840.9 287.2 840.3 292.3C839.8 297.3 834.7 306.3 833.6 309.1" fill="none" stroke="#7c7d5c" stroke-width="5.2" stroke-linecap="butt" stroke-linejoin="round"/><path d="M828.6 270.4C830.0 271.8 835.0 275.2 837.0 278.8C838.9 282.5 840.9 287.2 840.3 292.3C839.8 297.3 834.7 306.3 833.6 309.1" fill="none" stroke="#d9dcab" stroke-width="4.0" stroke-linecap="butt" stroke-linejoin="round"/>
<path d="M865.5 285.5C867.5 284.1 873.4 279.4 877.3 277.1C881.2 274.9 887.1 272.9 889.0 272.1" fill="none" stroke="#a0a0a0" stroke-width="5.6" stroke-linecap="butt" stroke-linejoin="round"/><path d="M865.5 285.5C867.5 284.1 873.4 279.4 877.3 277.1C881.2 274.9 887.1 272.9 889.0 272.1" fill="none" stroke="#c4c4c4" stroke-width="4.5" stroke-linecap="butt" stroke-linejoin="round"/>
<path d="M863.8 283.9C865.8 282.5 871.7 277.7 875.6 275.4C879.5 273.2 885.4 271.2 887.4 270.4" fill="none" stroke="#7c7d5c" stroke-width="5.2" stroke-linecap="butt" stroke-linejoin="round"/><path d="M863.8 283.9C865.8 282.5 871.7 277.7 875.6 275.4C879.5 273.2 885.4 271.2 887.4 270.4" fill="none" stroke="#d9dcab" stroke-width="4.0" stroke-linecap="butt" stroke-linejoin="round"/>
<path d="M816.8 292.3C817.9 290.6 820.7 285.0 823.5 282.2C826.3 279.4 831.9 276.6 833.6 275.4" fill="none" stroke="#7c7d5c" stroke-width="5.2" stroke-linecap="butt" stroke-linejoin="round"/><path d="M816.8 292.3C817.9 290.6 820.7 285.0 823.5 282.2C826.3 279.4 831.9 276.6 833.6 275.4" fill="none" stroke="#d9dcab" stroke-width="4.0" stroke-linecap="butt" stroke-linejoin="round"/>
<path d="M800.0 273.8C801.7 273.5 806.4 272.6 810.1 272.1C813.7 271.5 819.9 270.7 821.8 270.4" fill="none" stroke="#a0a0a0" stroke-width="4.7" stroke-linecap="butt" stroke-linejoin="round"/><path d="M800.0 273.8C801.7 273.5 806.4 272.6 810.1 272.1C813.7 271.5 819.9 270.7 821.8 270.4" fill="none" stroke="#c4c4c4" stroke-width="3.6" stroke-linecap="butt" stroke-linejoin="round"/>
<path d="M826.9 298.1C829.7 297.0 838.1 292.8 843.7 291.4C849.3 290.0 855.2 289.0 860.5 289.7C865.8 290.4 873.1 294.6 875.6 295.6" fill="none" stroke="#a0a0a0" stroke-width="6.5" stroke-linecap="butt" stroke-linejoin="round"/><path d="M826.9 298.1C829.7 297.0 838.1 292.8 843.7 291.4C849.3 290.0 855.2 289.0 860.5 289.7C865.8 290.4 873.1 294.6 875.6 295.6" fill="none" stroke="#c4c4c4" stroke-width="5.4" stroke-linecap="butt" stroke-linejoin="round"/>
<path d="M825.2 295.6C828.0 294.5 836.4 290.3 842.0 288.9C847.6 287.5 853.5 286.4 858.8 287.2C864.1 288.1 871.4 292.8 873.9 293.9" fill="none" stroke="#7c7d5c" stroke-width="6.1" stroke-linecap="butt" stroke-linejoin="round"/><path d="M825.2 295.6C828.0 294.5 836.4 290.3 842.0 288.9C847.6 287.5 853.5 286.4 858.8 287.2C864.1 288.1 871.4 292.8 873.9 293.9" fill="none" stroke="#d9dcab" stroke-width="5.0" stroke-linecap="butt" stroke-linejoin="round"/><path d="M864.8 295.0L875.3 294.5L868.6 286.4Z" fill="#d9dcab" stroke="#7c7d5c" stroke-width="0.8" stroke-linejoin="round"/>
<path d="M805.0 325.9C805.9 324.5 806.7 319.4 810.1 317.5C813.4 315.5 821.3 313.6 825.2 314.1C829.1 314.7 831.6 318.3 833.6 320.8C835.6 323.4 835.3 327.3 837.0 329.2C838.6 331.2 842.6 332.0 843.7 332.6" fill="none" stroke="#4f7282" stroke-width="2.2" stroke-linecap="round" stroke-linejoin="round"/><path d="M805.0 325.9C805.9 324.5 806.7 319.4 810.1 317.5C813.4 315.5 821.3 313.6 825.2 314.1C829.1 314.7 831.6 318.3 833.6 320.8C835.6 323.4 835.3 327.3 837.0 329.2C838.6 331.2 842.6 332.0 843.7 332.6" fill="none" stroke="#9fc2d3" stroke-width="1.1" stroke-linecap="round"/>
<path d="M855.4 310.8C856.8 310.2 861.0 307.9 863.8 307.4C866.6 306.8 869.4 307.9 872.2 307.4C875.0 306.8 877.6 304.9 880.6 304.0C883.7 303.2 887.9 301.5 890.7 302.3C893.5 303.2 896.9 306.5 897.4 309.1C898.0 311.6 894.6 316.1 894.1 317.5" fill="none" stroke="#4f7282" stroke-width="2.2" stroke-linecap="round" stroke-linejoin="round"/><path d="M855.4 310.8C856.8 310.2 861.0 307.9 863.8 307.4C866.6 306.8 869.4 307.9 872.2 307.4C875.0 306.8 877.6 304.9 880.6 304.0C883.7 303.2 887.9 301.5 890.7 302.3C893.5 303.2 896.9 306.5 897.4 309.1C898.0 311.6 894.6 316.1 894.1 317.5" fill="none" stroke="#9fc2d3" stroke-width="1.1" stroke-linecap="round"/>
<path d="M858.8 322.5C860.2 321.1 863.6 316.1 867.2 314.1C870.8 312.2 878.4 311.3 880.6 310.8" fill="none" stroke="#8c8c8c" stroke-width="6.5" stroke-linecap="butt" stroke-linejoin="round"/><path d="M858.8 322.5C860.2 321.1 863.6 316.1 867.2 314.1C870.8 312.2 878.4 311.3 880.6 310.8" fill="none" stroke="#a9a9a9" stroke-width="5.4" stroke-linecap="butt" stroke-linejoin="round"/>
<path d="M850.4 332.6C853.2 332.0 861.0 329.5 867.2 329.2C873.4 329.0 884.0 330.6 887.4 330.9" fill="none" stroke="#456778" stroke-width="5.6" stroke-linecap="butt" stroke-linejoin="round"/><path d="M850.4 332.6C853.2 332.0 861.0 329.5 867.2 329.2C873.4 329.0 884.0 330.6 887.4 330.9" fill="none" stroke="#8fbad0" stroke-width="4.5" stroke-linecap="butt" stroke-linejoin="round"/>
<path d="M872.2 320.8L879.0 317.5" fill="none" stroke="#456778" stroke-width="4.7" stroke-linecap="butt" stroke-linejoin="round"/><path d="M872.2 320.8L879.0 317.5" fill="none" stroke="#8fbad0" stroke-width="3.6" stroke-linecap="butt" stroke-linejoin="round"/>
<path d="M894.1 332.6L900.0 336.0" fill="none" stroke="#a0a0a0" stroke-width="4.7" stroke-linecap="butt" stroke-linejoin="round"/><path d="M894.1 332.6L900.0 336.0" fill="none" stroke="#c4c4c4" stroke-width="3.6" stroke-linecap="butt" stroke-linejoin="round"/>
<path d="M713.4 361.9C715.4 363.0 721.0 366.9 725.2 368.6C729.4 370.3 736.4 371.4 738.6 372.0" fill="none" stroke="#a0a0a0" stroke-width="5.6" stroke-linecap="butt" stroke-linejoin="round"/><path d="M713.4 361.9C715.4 363.0 721.0 366.9 725.2 368.6C729.4 370.3 736.4 371.4 738.6 372.0" fill="none" stroke="#c4c4c4" stroke-width="4.5" stroke-linecap="butt" stroke-linejoin="round"/>
<path d="M730.2 348.4C731.6 350.4 736.4 356.9 738.6 360.2C740.8 363.6 742.8 367.2 743.6 368.6" fill="none" stroke="#a0a0a0" stroke-width="5.6" stroke-linecap="butt" stroke-linejoin="round"/><path d="M730.2 348.4C731.6 350.4 736.4 356.9 738.6 360.2C740.8 363.6 742.8 367.2 743.6 368.6" fill="none" stroke="#c4c4c4" stroke-width="4.5" stroke-linecap="butt" stroke-linejoin="round"/>
<path d="M755.4 360.2C756.2 362.5 758.2 370.0 760.4 373.7C762.7 377.3 766.0 381.2 768.8 382.1C771.6 382.9 774.7 380.9 777.2 378.7C779.8 376.5 783.1 371.7 784.0 368.6C784.8 365.5 782.6 361.6 782.3 360.2" fill="none" stroke="#9a9a9a" stroke-width="2.2" stroke-linecap="round" stroke-linejoin="round"/><path d="M755.4 360.2C756.2 362.5 758.2 370.0 760.4 373.7C762.7 377.3 766.0 381.2 768.8 382.1C771.6 382.9 774.7 380.9 777.2 378.7C779.8 376.5 783.1 371.7 784.0 368.6C784.8 365.5 782.6 361.6 782.3 360.2" fill="none" stroke="#e6e6e6" stroke-width="1.1" stroke-linecap="round"/>
<path d="M747.0 360.2C747.8 363.0 749.8 372.8 752.0 377.0C754.3 381.2 759.0 384.0 760.4 385.4" fill="none" stroke="#9a9a9a" stroke-width="2.2" stroke-linecap="round" stroke-linejoin="round"/><path d="M747.0 360.2C747.8 363.0 749.8 372.8 752.0 377.0C754.3 381.2 759.0 384.0 760.4 385.4" fill="none" stroke="#e6e6e6" stroke-width="1.1" stroke-linecap="round"/>
<path d="M711.7 377.0C714.0 378.4 720.7 382.3 725.2 385.4C729.6 388.5 734.7 391.6 738.6 395.5C742.5 399.4 747.0 406.7 748.7 409.0" fill="none" stroke="#70403f" stroke-width="7.0" stroke-linecap="butt" stroke-linejoin="round"/><path d="M711.7 377.0C714.0 378.4 720.7 382.3 725.2 385.4C729.6 388.5 734.7 391.6 738.6 395.5C742.5 399.4 747.0 406.7 748.7 409.0" fill="none" stroke="#ec9d9b" stroke-width="5.9" stroke-linecap="butt" stroke-linejoin="round"/>
<path d="M711.7 390.5C713.4 391.9 718.4 395.8 721.8 398.9C725.2 402.0 730.2 407.3 731.9 409.0" fill="none" stroke="#70403f" stroke-width="6.5" stroke-linecap="butt" stroke-linejoin="round"/><path d="M711.7 390.5C713.4 391.9 718.4 395.8 721.8 398.9C725.2 402.0 730.2 407.3 731.9 409.0" fill="none" stroke="#ec9d9b" stroke-width="5.4" stroke-linecap="butt" stroke-linejoin="round"/>
<path d="M725.2 375.3C727.4 377.3 735.0 383.2 738.6 387.1C742.2 391.0 745.6 396.9 747.0 398.9" fill="none" stroke="#6a3e3e" stroke-width="5.6" stroke-linecap="butt" stroke-linejoin="round"/><path d="M725.2 375.3C727.4 377.3 735.0 383.2 738.6 387.1C742.2 391.0 745.6 396.9 747.0 398.9" fill="none" stroke="#bb8e8d" stroke-width="4.5" stroke-linecap="butt" stroke-linejoin="round"/>
<path d="M715.1 335.0C715.6 337.2 717.3 344.2 718.4 348.4C719.6 352.7 721.2 358.3 721.8 360.2" fill="none" stroke="#70403f" stroke-width="6.1" stroke-linecap="butt" stroke-linejoin="round"/><path d="M715.1 335.0C715.6 337.2 717.3 344.2 718.4 348.4C719.6 352.7 721.2 358.3 721.8 360.2" fill="none" stroke="#ec9d9b" stroke-width="5.0" stroke-linecap="butt" stroke-linejoin="round"/>
<path d="M721.8 335.0C722.9 337.2 726.3 344.8 728.5 348.4C730.8 352.1 734.1 355.5 735.2 356.9" fill="none" stroke="#70403f" stroke-width="5.6" stroke-linecap="butt" stroke-linejoin="round"/><path d="M721.8 335.0C722.9 337.2 726.3 344.8 728.5 348.4C730.8 352.1 734.1 355.5 735.2 356.9" fill="none" stroke="#ec9d9b" stroke-width="4.5" stroke-linecap="butt" stroke-linejoin="round"/>
<path d="M777.2 395.5C779.2 396.1 785.4 398.3 789.0 398.9C792.6 399.4 795.7 399.2 799.1 398.9C802.4 398.6 807.5 397.5 809.2 397.2" fill="none" stroke="#a0a0a0" stroke-width="7.0" stroke-linecap="butt" stroke-linejoin="round"/><path d="M777.2 395.5C779.2 396.1 785.4 398.3 789.0 398.9C792.6 399.4 795.7 399.2 799.1 398.9C802.4 398.6 807.5 397.5 809.2 397.2" fill="none" stroke="#c4c4c4" stroke-width="5.9" stroke-linecap="butt" stroke-linejoin="round"/>
<path d="M775.6 390.5C777.2 389.6 782.8 385.7 785.6 385.4C788.4 385.2 790.1 388.8 792.4 388.8C794.6 388.8 796.3 385.4 799.1 385.4C801.9 385.4 807.5 388.2 809.2 388.8" fill="none" stroke="#70403f" stroke-width="7.4" stroke-linecap="butt" stroke-linejoin="round"/><path d="M775.6 390.5C777.2 389.6 782.8 385.7 785.6 385.4C788.4 385.2 790.1 388.8 792.4 388.8C794.6 388.8 796.3 385.4 799.1 385.4C801.9 385.4 807.5 388.2 809.2 388.8" fill="none" stroke="#ec9d9b" stroke-width="6.3" stroke-linecap="butt" stroke-linejoin="round"/>
<path d="M752.0 335.0C752.3 336.7 753.2 342.0 753.7 345.1C754.3 348.2 755.1 352.1 755.4 353.5" fill="none" stroke="#6a3e3e" stroke-width="5.6" stroke-linecap="butt" stroke-linejoin="round"/><path d="M752.0 335.0C752.3 336.7 753.2 342.0 753.7 345.1C754.3 348.2 755.1 352.1 755.4 353.5" fill="none" stroke="#bb8e8d" stroke-width="4.5" stroke-linecap="butt" stroke-linejoin="round"/>
<path d="M755.4 353.5C756.2 356.0 757.6 365.0 760.4 368.6C763.2 372.3 769.1 373.9 772.2 375.3C775.3 376.7 777.8 376.7 778.9 377.0" fill="none" stroke="#7a4746" stroke-width="2.2" stroke-linecap="round" stroke-linejoin="round"/><path d="M755.4 353.5C756.2 356.0 757.6 365.0 760.4 368.6C763.2 372.3 769.1 373.9 772.2 375.3C775.3 376.7 777.8 376.7 778.9 377.0" fill="none" stroke="#e9a4a2" stroke-width="1.1" stroke-linecap="round"/>
<path d="M738.6 335.0C739.4 336.1 740.8 340.0 743.6 341.7C746.4 343.4 753.4 344.5 755.4 345.1" fill="none" stroke="#7a4746" stroke-width="2.2" stroke-linecap="round" stroke-linejoin="round"/><path d="M738.6 335.0C739.4 336.1 740.8 340.0 743.6 341.7C746.4 343.4 753.4 344.5 755.4 345.1" fill="none" stroke="#e9a4a2" stroke-width="1.1" stroke-linecap="round"/>
<path d="M775.6 335.0C776.7 337.2 779.2 345.6 782.3 348.4C785.4 351.2 791.8 348.4 794.0 351.8C796.3 355.2 796.0 364.1 795.7 368.6C795.4 373.1 793.5 375.9 792.4 378.7C791.2 381.5 789.6 384.3 789.0 385.4" fill="none" stroke="#7a4746" stroke-width="2.2" stroke-linecap="round" stroke-linejoin="round"/><path d="M775.6 335.0C776.7 337.2 779.2 345.6 782.3 348.4C785.4 351.2 791.8 348.4 794.0 351.8C796.3 355.2 796.0 364.1 795.7 368.6C795.4 373.1 793.5 375.9 792.4 378.7C791.2 381.5 789.6 384.3 789.0 385.4" fill="none" stroke="#e9a4a2" stroke-width="1.1" stroke-linecap="round"/>
<path d="M718.4 368.6C719.6 368.6 721.8 368.3 725.2 368.6C728.5 368.9 733.6 369.5 738.6 370.3C743.6 371.1 751.2 372.5 755.4 373.7C759.6 374.8 762.4 376.5 763.8 377.0" fill="none" stroke="#7a4746" stroke-width="2.2" stroke-linecap="round" stroke-linejoin="round"/><path d="M718.4 368.6C719.6 368.6 721.8 368.3 725.2 368.6C728.5 368.9 733.6 369.5 738.6 370.3C743.6 371.1 751.2 372.5 755.4 373.7C759.6 374.8 762.4 376.5 763.8 377.0" fill="none" stroke="#e9a4a2" stroke-width="1.1" stroke-linecap="round"/>
<path d="M730.2 377.0C733.0 378.1 741.4 382.9 747.0 383.8C752.6 384.6 759.6 383.8 763.8 382.1C768.0 380.4 770.8 375.1 772.2 373.7" fill="none" stroke="#7a4746" stroke-width="2.2" stroke-linecap="round" stroke-linejoin="round"/><path d="M730.2 377.0C733.0 378.1 741.4 382.9 747.0 383.8C752.6 384.6 759.6 383.8 763.8 382.1C768.0 380.4 770.8 375.1 772.2 373.7" fill="none" stroke="#e9a4a2" stroke-width="1.1" stroke-linecap="round"/>
<path d="M760.4 348.4C761.3 350.1 763.8 355.2 765.5 358.5C767.2 361.9 768.8 366.1 770.5 368.6C772.2 371.1 774.7 372.8 775.6 373.7" fill="none" stroke="#7a4746" stroke-width="2.2" stroke-linecap="round" stroke-linejoin="round"/><path d="M760.4 348.4C761.3 350.1 763.8 355.2 765.5 358.5C767.2 361.9 768.8 366.1 770.5 368.6C772.2 371.1 774.7 372.8 775.6 373.7" fill="none" stroke="#e9a4a2" stroke-width="1.1" stroke-linecap="round"/>
<path d="M838.6 368.6C839.5 370.0 843.7 374.2 843.7 377.0C843.7 379.8 837.5 383.5 838.6 385.4C839.8 387.4 847.6 389.4 850.4 388.8C853.2 388.2 854.6 383.2 855.4 382.1" fill="none" stroke="#4f7282" stroke-width="2.2" stroke-linecap="round" stroke-linejoin="round"/><path d="M838.6 368.6C839.5 370.0 843.7 374.2 843.7 377.0C843.7 379.8 837.5 383.5 838.6 385.4C839.8 387.4 847.6 389.4 850.4 388.8C853.2 388.2 854.6 383.2 855.4 382.1" fill="none" stroke="#9fc2d3" stroke-width="1.1" stroke-linecap="round"/>
<path d="M855.4 377.0C857.4 377.3 864.1 379.3 867.2 378.7C870.3 378.1 872.8 374.5 873.9 373.7" fill="none" stroke="#4f7282" stroke-width="2.2" stroke-linecap="round" stroke-linejoin="round"/><path d="M855.4 377.0C857.4 377.3 864.1 379.3 867.2 378.7C870.3 378.1 872.8 374.5 873.9 373.7" fill="none" stroke="#9fc2d3" stroke-width="1.1" stroke-linecap="round"/>
<path d="M884.0 368.6C885.7 369.5 891.6 371.4 894.1 373.7C896.6 375.9 898.3 380.7 899.1 382.1" fill="none" stroke="#4f7282" stroke-width="2.2" stroke-linecap="round" stroke-linejoin="round"/><path d="M884.0 368.6C885.7 369.5 891.6 371.4 894.1 373.7C896.6 375.9 898.3 380.7 899.1 382.1" fill="none" stroke="#9fc2d3" stroke-width="1.1" stroke-linecap="round"/>
<path d="M892.4 351.8C893.5 353.2 898.3 357.4 899.1 360.2C900.0 363.0 897.7 367.2 897.4 368.6" fill="none" stroke="#4f7282" stroke-width="2.2" stroke-linecap="round" stroke-linejoin="round"/><path d="M892.4 351.8C893.5 353.2 898.3 357.4 899.1 360.2C900.0 363.0 897.7 367.2 897.4 368.6" fill="none" stroke="#9fc2d3" stroke-width="1.1" stroke-linecap="round"/>
<path d="M840.3 355.2L843.7 368.6" fill="none" stroke="#a0a0a0" stroke-width="6.5" stroke-linecap="butt" stroke-linejoin="round"/><path d="M840.3 355.2L843.7 368.6" fill="none" stroke="#c4c4c4" stroke-width="5.4" stroke-linecap="butt" stroke-linejoin="round"/>
<path d="M842.0 351.8C844.0 352.7 850.1 354.9 853.8 356.9C857.4 358.8 860.5 361.9 863.8 363.6C867.2 365.3 872.2 366.4 873.9 366.9" fill="none" stroke="#456778" stroke-width="7.4" stroke-linecap="butt" stroke-linejoin="round"/><path d="M842.0 351.8C844.0 352.7 850.1 354.9 853.8 356.9C857.4 358.8 860.5 361.9 863.8 363.6C867.2 365.3 872.2 366.4 873.9 366.9" fill="none" stroke="#8fbad0" stroke-width="6.3" stroke-linecap="butt" stroke-linejoin="round"/>
<path d="M850.4 343.4C851.8 342.6 855.4 339.8 858.8 338.4C862.2 337.0 868.6 335.6 870.6 335.0" fill="none" stroke="#456778" stroke-width="5.6" stroke-linecap="butt" stroke-linejoin="round"/><path d="M850.4 343.4C851.8 342.6 855.4 339.8 858.8 338.4C862.2 337.0 868.6 335.6 870.6 335.0" fill="none" stroke="#8fbad0" stroke-width="4.5" stroke-linecap="butt" stroke-linejoin="round"/>
<path d="M884.0 343.4C885.1 344.2 888.2 347.9 890.7 348.4C893.2 349.0 897.7 347.0 899.1 346.8" fill="none" stroke="#6a3e3e" stroke-width="5.6" stroke-linecap="butt" stroke-linejoin="round"/><path d="M884.0 343.4C885.1 344.2 888.2 347.9 890.7 348.4C893.2 349.0 897.7 347.0 899.1 346.8" fill="none" stroke="#bb8e8d" stroke-width="4.5" stroke-linecap="butt" stroke-linejoin="round"/>
<path d="M870.6 373.7C872.2 375.3 877.3 381.2 880.6 383.8C884.0 386.3 887.5 388.2 890.7 388.8C893.9 389.4 898.4 387.4 900.0 387.1" fill="none" stroke="#456778" stroke-width="10.1" stroke-linecap="butt" stroke-linejoin="round"/><path d="M870.6 373.7C872.2 375.3 877.3 381.2 880.6 383.8C884.0 386.3 887.5 388.2 890.7 388.8C893.9 389.4 898.4 387.4 900.0 387.1" fill="none" stroke="#8fbad0" stroke-width="9.0" stroke-linecap="butt" stroke-linejoin="round"/>
<path d="M821.8 350.1C821.0 351.2 819.3 355.2 816.8 356.9C814.3 358.5 809.0 358.3 806.7 360.2C804.5 362.2 802.8 366.7 803.4 368.6C803.9 370.6 807.3 372.0 810.1 372.0C812.9 372.0 817.6 370.3 820.2 368.6C822.7 366.9 824.4 363.0 825.2 361.9" fill="none" stroke="#7a4746" stroke-width="2.4" stroke-linecap="round" stroke-linejoin="round"/><path d="M821.8 350.1C821.0 351.2 819.3 355.2 816.8 356.9C814.3 358.5 809.0 358.3 806.7 360.2C804.5 362.2 802.8 366.7 803.4 368.6C803.9 370.6 807.3 372.0 810.1 372.0C812.9 372.0 817.6 370.3 820.2 368.6C822.7 366.9 824.4 363.0 825.2 361.9" fill="none" stroke="#e9a4a2" stroke-width="1.3" stroke-linecap="round"/>
<path d="M808.4 378.7C809.8 379.8 814.3 384.6 816.8 385.4C819.3 386.3 822.4 384.0 823.5 383.8" fill="none" stroke="#a0a0a0" stroke-width="6.5" stroke-linecap="butt" stroke-linejoin="round"/><path d="M808.4 378.7C809.8 379.8 814.3 384.6 816.8 385.4C819.3 386.3 822.4 384.0 823.5 383.8" fill="none" stroke="#c4c4c4" stroke-width="5.4" stroke-linecap="butt" stroke-linejoin="round"/>
<path d="M800.0 388.8C801.4 388.2 805.9 386.8 808.4 385.4C810.9 384.0 812.9 382.1 815.1 380.4C817.4 378.7 820.7 376.2 821.8 375.3" fill="none" stroke="#70403f" stroke-width="7.4" stroke-linecap="butt" stroke-linejoin="round"/><path d="M800.0 388.8C801.4 388.2 805.9 386.8 808.4 385.4C810.9 384.0 812.9 382.1 815.1 380.4C817.4 378.7 820.7 376.2 821.8 375.3" fill="none" stroke="#ec9d9b" stroke-width="6.3" stroke-linecap="butt" stroke-linejoin="round"/>
<path d="M823.5 346.8C824.4 346.2 826.9 344.5 828.6 343.4C830.2 342.3 831.9 341.2 833.6 340.0C835.3 338.9 837.8 337.2 838.6 336.7" fill="none" stroke="#5a58a0" stroke-width="5.6" stroke-linecap="butt" stroke-linejoin="round"/><path d="M823.5 346.8C824.4 346.2 826.9 344.5 828.6 343.4C830.2 342.3 831.9 341.2 833.6 340.0C835.3 338.9 837.8 337.2 838.6 336.7" fill="none" stroke="#a9a6e0" stroke-width="4.5" stroke-linecap="butt" stroke-linejoin="round"/></g>

<path d="M587.9 309.7 V418 Q587.9 431.5 601.4 431.5 H666" fill="none" stroke="#222" stroke-width="1.9"/>
<path d="M664 426.3 L675.5 431.5 L664 436.7 Z" fill="#111"/>
<path d="M936.4 432 H989 Q1002.5 432 1002.5 418.5 V326" fill="none" stroke="#222" stroke-width="1.9"/>
<path d="M997 328.5 L1002.5 317.5 L1008 328.5 Z" fill="#111"/>
<text x="676.8" y="440.3" font-size="23.2" fill="#111">Specify <tspan fill="#A882C2" x="758.4" textLength="175" lengthAdjust="spacingAndGlyphs">epitope residues</tspan></text>

</svg></body></html>
